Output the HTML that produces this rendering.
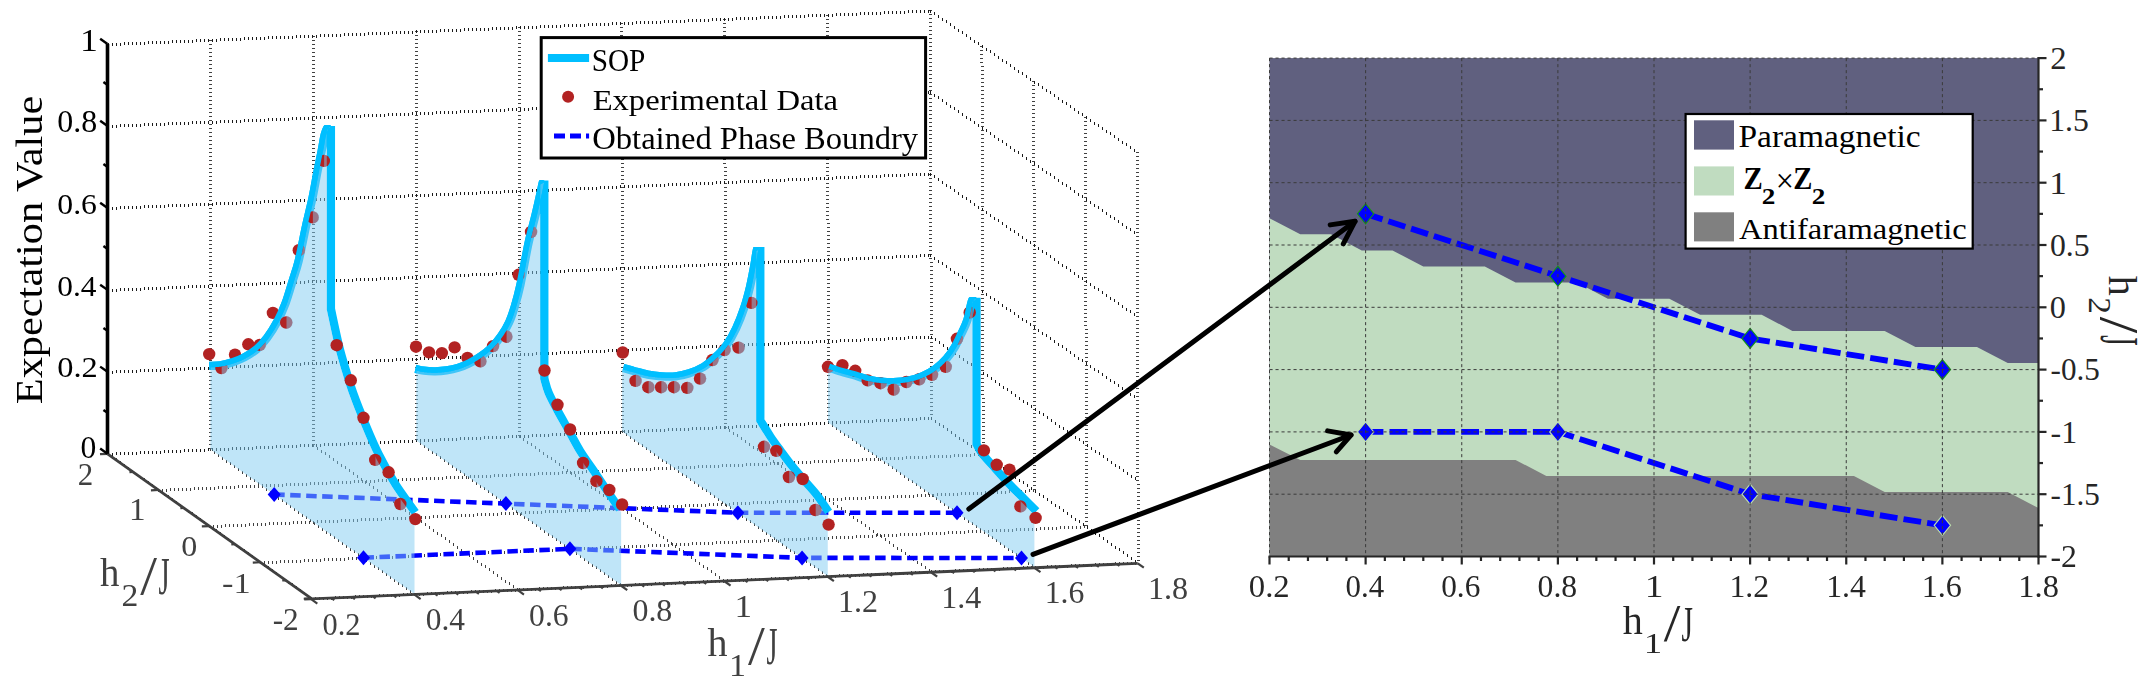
<!DOCTYPE html>
<html><head><meta charset="utf-8"><style>html,body{margin:0;padding:0;background:#fff;} svg{display:block;}</style></head>
<body><svg width="2150" height="687" viewBox="0 0 2150 687">
<rect width="2150" height="687" fill="#fff"/>
<g id="grid3d">
<path fill="#404040" shape-rendering="crispEdges" d="M106 44h3v1h-3zM106 48h3v1h-3zM106 52h3v1h-3zM106 56h3v1h-3zM106 60h3v1h-3zM106 64h3v1h-3zM106 68h3v1h-3zM106 72h3v1h-3zM106 76h3v1h-3zM106 80h3v1h-3zM106 84h3v1h-3zM106 88h3v1h-3zM106 92h3v1h-3zM106 96h3v1h-3zM106 100h3v1h-3zM106 104h3v1h-3zM106 108h3v1h-3zM106 112h3v1h-3zM106 116h3v1h-3zM106 120h3v1h-3zM106 124h3v1h-3zM106 128h3v1h-3zM106 132h3v1h-3zM106 136h3v1h-3zM106 140h3v1h-3zM106 144h3v1h-3zM106 148h3v1h-3zM106 152h3v1h-3zM106 156h3v1h-3zM106 160h3v1h-3zM106 164h3v1h-3zM106 168h3v1h-3zM106 172h3v1h-3zM106 176h3v1h-3zM106 180h3v1h-3zM106 184h3v1h-3zM106 188h3v1h-3zM106 192h3v1h-3zM106 196h3v1h-3zM106 200h3v1h-3zM106 204h3v1h-3zM106 208h3v1h-3zM106 212h3v1h-3zM106 216h3v1h-3zM106 220h3v1h-3zM106 224h3v1h-3zM106 228h3v1h-3zM106 232h3v1h-3zM106 236h3v1h-3zM106 240h3v1h-3zM106 244h3v1h-3zM106 248h3v1h-3zM106 252h3v1h-3zM106 256h3v1h-3zM106 260h3v1h-3zM106 264h3v1h-3zM106 268h3v1h-3zM106 272h3v1h-3zM106 276h3v1h-3zM106 280h3v1h-3zM106 284h3v1h-3zM106 288h3v1h-3zM106 292h3v1h-3zM106 296h3v1h-3zM106 300h3v1h-3zM106 304h3v1h-3zM106 308h3v1h-3zM106 312h3v1h-3zM106 316h3v1h-3zM106 320h3v1h-3zM106 324h3v1h-3zM106 328h3v1h-3zM106 332h3v1h-3zM106 336h3v1h-3zM106 340h3v1h-3zM106 344h3v1h-3zM106 348h3v1h-3zM106 352h3v1h-3zM106 356h3v1h-3zM106 360h3v1h-3zM106 364h3v1h-3zM106 368h3v1h-3zM106 372h3v1h-3zM106 376h3v1h-3zM106 380h3v1h-3zM106 384h3v1h-3zM106 388h3v1h-3zM106 392h3v1h-3zM106 396h3v1h-3zM106 400h3v1h-3zM106 404h3v1h-3zM106 408h3v1h-3zM106 412h3v1h-3zM106 416h3v1h-3zM106 420h3v1h-3zM106 424h3v1h-3zM106 428h3v1h-3zM106 432h3v1h-3zM106 436h3v1h-3zM106 440h3v1h-3zM106 444h3v1h-3zM106 448h3v1h-3zM106 452h3v1h-3zM209 40h3v1h-3zM209 44h3v1h-3zM209 48h3v1h-3zM209 52h3v1h-3zM209 56h3v1h-3zM209 60h3v1h-3zM209 64h3v1h-3zM209 68h3v1h-3zM209 72h3v1h-3zM209 76h3v1h-3zM209 80h3v1h-3zM209 84h3v1h-3zM209 88h3v1h-3zM209 92h3v1h-3zM209 96h3v1h-3zM209 100h3v1h-3zM209 104h3v1h-3zM209 108h3v1h-3zM209 112h3v1h-3zM209 116h3v1h-3zM209 120h3v1h-3zM209 124h3v1h-3zM209 128h3v1h-3zM209 132h3v1h-3zM209 136h3v1h-3zM209 140h3v1h-3zM209 144h3v1h-3zM209 148h3v1h-3zM209 152h3v1h-3zM209 156h3v1h-3zM209 160h3v1h-3zM209 164h3v1h-3zM209 168h3v1h-3zM209 172h3v1h-3zM209 176h3v1h-3zM209 180h3v1h-3zM209 184h3v1h-3zM209 188h3v1h-3zM209 192h3v1h-3zM209 196h3v1h-3zM209 200h3v1h-3zM209 204h3v1h-3zM209 208h3v1h-3zM209 212h3v1h-3zM209 216h3v1h-3zM209 220h3v1h-3zM209 224h3v1h-3zM209 228h3v1h-3zM209 232h3v1h-3zM209 236h3v1h-3zM209 240h3v1h-3zM209 244h3v1h-3zM209 248h3v1h-3zM209 252h3v1h-3zM209 256h3v1h-3zM209 260h3v1h-3zM209 264h3v1h-3zM209 268h3v1h-3zM209 272h3v1h-3zM209 276h3v1h-3zM209 280h3v1h-3zM209 284h3v1h-3zM209 288h3v1h-3zM209 292h3v1h-3zM209 296h3v1h-3zM209 300h3v1h-3zM209 304h3v1h-3zM209 308h3v1h-3zM209 312h3v1h-3zM209 316h3v1h-3zM209 320h3v1h-3zM209 324h3v1h-3zM209 328h3v1h-3zM209 332h3v1h-3zM209 336h3v1h-3zM209 340h3v1h-3zM209 344h3v1h-3zM209 348h3v1h-3zM209 352h3v1h-3zM209 356h3v1h-3zM209 360h3v1h-3zM209 364h3v1h-3zM209 368h3v1h-3zM209 372h3v1h-3zM209 376h3v1h-3zM209 380h3v1h-3zM209 384h3v1h-3zM209 388h3v1h-3zM209 392h3v1h-3zM209 396h3v1h-3zM209 400h3v1h-3zM209 404h3v1h-3zM209 408h3v1h-3zM209 412h3v1h-3zM209 416h3v1h-3zM209 420h3v1h-3zM209 424h3v1h-3zM209 428h3v1h-3zM209 432h3v1h-3zM209 436h3v1h-3zM209 440h3v1h-3zM209 444h3v1h-3zM209 448h3v1h-3zM312 36h3v1h-3zM312 40h3v1h-3zM312 44h3v1h-3zM312 48h3v1h-3zM312 52h3v1h-3zM312 56h3v1h-3zM312 60h3v1h-3zM312 64h3v1h-3zM312 68h3v1h-3zM312 72h3v1h-3zM312 76h3v1h-3zM312 80h3v1h-3zM312 84h3v1h-3zM312 88h3v1h-3zM312 92h3v1h-3zM312 96h3v1h-3zM312 100h3v1h-3zM312 104h3v1h-3zM312 108h3v1h-3zM312 112h3v1h-3zM312 116h3v1h-3zM312 120h3v1h-3zM312 124h3v1h-3zM312 128h3v1h-3zM312 132h3v1h-3zM312 136h3v1h-3zM312 140h3v1h-3zM312 144h3v1h-3zM312 148h3v1h-3zM312 152h3v1h-3zM312 156h3v1h-3zM312 160h3v1h-3zM312 164h3v1h-3zM312 168h3v1h-3zM312 172h3v1h-3zM312 176h3v1h-3zM312 180h3v1h-3zM312 184h3v1h-3zM312 188h3v1h-3zM312 192h3v1h-3zM312 196h3v1h-3zM312 200h3v1h-3zM312 204h3v1h-3zM312 208h3v1h-3zM312 212h3v1h-3zM312 216h3v1h-3zM312 220h3v1h-3zM312 224h3v1h-3zM312 228h3v1h-3zM312 232h3v1h-3zM312 236h3v1h-3zM312 240h3v1h-3zM312 244h3v1h-3zM312 248h3v1h-3zM312 252h3v1h-3zM312 256h3v1h-3zM312 260h3v1h-3zM312 264h3v1h-3zM312 268h3v1h-3zM312 272h3v1h-3zM312 276h3v1h-3zM312 280h3v1h-3zM312 284h3v1h-3zM312 288h3v1h-3zM312 292h3v1h-3zM312 296h3v1h-3zM312 300h3v1h-3zM312 304h3v1h-3zM312 308h3v1h-3zM312 312h3v1h-3zM312 316h3v1h-3zM312 320h3v1h-3zM312 324h3v1h-3zM312 328h3v1h-3zM312 332h3v1h-3zM312 336h3v1h-3zM312 340h3v1h-3zM312 344h3v1h-3zM312 348h3v1h-3zM312 352h3v1h-3zM312 356h3v1h-3zM312 360h3v1h-3zM312 364h3v1h-3zM312 368h3v1h-3zM312 372h3v1h-3zM312 376h3v1h-3zM312 380h3v1h-3zM312 384h3v1h-3zM312 388h3v1h-3zM312 392h3v1h-3zM312 396h3v1h-3zM312 400h3v1h-3zM312 404h3v1h-3zM312 408h3v1h-3zM312 412h3v1h-3zM312 416h3v1h-3zM312 420h3v1h-3zM312 424h3v1h-3zM312 428h3v1h-3zM312 432h3v1h-3zM312 436h3v1h-3zM312 440h3v1h-3zM312 444h3v1h-3zM415 31h3v1h-3zM415 35h3v1h-3zM415 39h3v1h-3zM415 43h3v1h-3zM415 47h3v1h-3zM415 51h3v1h-3zM415 55h3v1h-3zM415 59h3v1h-3zM415 63h3v1h-3zM415 67h3v1h-3zM415 71h3v1h-3zM415 75h3v1h-3zM415 79h3v1h-3zM415 83h3v1h-3zM415 87h3v1h-3zM415 91h3v1h-3zM415 95h3v1h-3zM415 99h3v1h-3zM415 103h3v1h-3zM415 107h3v1h-3zM415 111h3v1h-3zM415 115h3v1h-3zM415 119h3v1h-3zM415 123h3v1h-3zM415 127h3v1h-3zM415 131h3v1h-3zM415 135h3v1h-3zM415 139h3v1h-3zM415 143h3v1h-3zM415 147h3v1h-3zM415 151h3v1h-3zM415 155h3v1h-3zM415 159h3v1h-3zM415 163h3v1h-3zM415 167h3v1h-3zM415 171h3v1h-3zM415 175h3v1h-3zM415 179h3v1h-3zM415 183h3v1h-3zM415 187h3v1h-3zM415 191h3v1h-3zM415 195h3v1h-3zM415 199h3v1h-3zM415 203h3v1h-3zM415 207h3v1h-3zM415 211h3v1h-3zM415 215h3v1h-3zM415 219h3v1h-3zM415 223h3v1h-3zM415 227h3v1h-3zM415 231h3v1h-3zM415 235h3v1h-3zM415 239h3v1h-3zM415 243h3v1h-3zM415 247h3v1h-3zM415 251h3v1h-3zM415 255h3v1h-3zM415 259h3v1h-3zM415 263h3v1h-3zM415 267h3v1h-3zM415 271h3v1h-3zM415 275h3v1h-3zM415 279h3v1h-3zM415 283h3v1h-3zM415 287h3v1h-3zM415 291h3v1h-3zM415 295h3v1h-3zM415 299h3v1h-3zM415 303h3v1h-3zM415 307h3v1h-3zM415 311h3v1h-3zM415 315h3v1h-3zM415 319h3v1h-3zM415 323h3v1h-3zM415 327h3v1h-3zM415 331h3v1h-3zM415 335h3v1h-3zM415 339h3v1h-3zM415 343h3v1h-3zM415 347h3v1h-3zM415 351h3v1h-3zM415 355h3v1h-3zM415 359h3v1h-3zM415 363h3v1h-3zM415 367h3v1h-3zM415 371h3v1h-3zM415 375h3v1h-3zM415 379h3v1h-3zM415 383h3v1h-3zM415 387h3v1h-3zM415 391h3v1h-3zM415 395h3v1h-3zM415 399h3v1h-3zM415 403h3v1h-3zM415 407h3v1h-3zM415 411h3v1h-3zM415 415h3v1h-3zM415 419h3v1h-3zM415 423h3v1h-3zM415 427h3v1h-3zM415 431h3v1h-3zM415 435h3v1h-3zM415 439h3v1h-3zM518 27h3v1h-3zM518 31h3v1h-3zM518 35h3v1h-3zM518 39h3v1h-3zM518 43h3v1h-3zM518 47h3v1h-3zM518 51h3v1h-3zM518 55h3v1h-3zM518 59h3v1h-3zM518 63h3v1h-3zM518 67h3v1h-3zM518 71h3v1h-3zM518 75h3v1h-3zM518 79h3v1h-3zM518 83h3v1h-3zM518 87h3v1h-3zM518 91h3v1h-3zM518 95h3v1h-3zM518 99h3v1h-3zM518 103h3v1h-3zM518 107h3v1h-3zM518 111h3v1h-3zM518 115h3v1h-3zM518 119h3v1h-3zM518 123h3v1h-3zM518 127h3v1h-3zM518 131h3v1h-3zM518 135h3v1h-3zM518 139h3v1h-3zM518 143h3v1h-3zM518 147h3v1h-3zM518 151h3v1h-3zM518 155h3v1h-3zM518 159h3v1h-3zM518 163h3v1h-3zM518 167h3v1h-3zM518 171h3v1h-3zM518 175h3v1h-3zM518 179h3v1h-3zM518 183h3v1h-3zM518 187h3v1h-3zM518 191h3v1h-3zM518 195h3v1h-3zM518 199h3v1h-3zM518 203h3v1h-3zM518 207h3v1h-3zM518 211h3v1h-3zM518 215h3v1h-3zM518 219h3v1h-3zM518 223h3v1h-3zM518 227h3v1h-3zM518 231h3v1h-3zM518 235h3v1h-3zM518 239h3v1h-3zM518 243h3v1h-3zM518 247h3v1h-3zM518 251h3v1h-3zM518 255h3v1h-3zM518 259h3v1h-3zM518 263h3v1h-3zM518 267h3v1h-3zM518 271h3v1h-3zM518 275h3v1h-3zM518 279h3v1h-3zM518 283h3v1h-3zM518 287h3v1h-3zM518 291h3v1h-3zM518 295h3v1h-3zM518 299h3v1h-3zM518 303h3v1h-3zM518 307h3v1h-3zM518 311h3v1h-3zM518 315h3v1h-3zM518 319h3v1h-3zM518 323h3v1h-3zM518 327h3v1h-3zM518 331h3v1h-3zM518 335h3v1h-3zM518 339h3v1h-3zM518 343h3v1h-3zM518 347h3v1h-3zM518 351h3v1h-3zM518 355h3v1h-3zM518 359h3v1h-3zM518 363h3v1h-3zM518 367h3v1h-3zM518 371h3v1h-3zM518 375h3v1h-3zM518 379h3v1h-3zM518 383h3v1h-3zM518 387h3v1h-3zM518 391h3v1h-3zM518 395h3v1h-3zM518 399h3v1h-3zM518 403h3v1h-3zM518 407h3v1h-3zM518 411h3v1h-3zM518 415h3v1h-3zM518 419h3v1h-3zM518 423h3v1h-3zM518 427h3v1h-3zM518 431h3v1h-3zM518 435h3v1h-3zM620 23h3v1h-3zM620 27h3v1h-3zM620 31h3v1h-3zM620 35h3v1h-3zM620 39h3v1h-3zM620 43h3v1h-3zM620 47h3v1h-3zM620 51h3v1h-3zM620 55h3v1h-3zM620 59h3v1h-3zM620 63h3v1h-3zM620 67h3v1h-3zM620 71h3v1h-3zM620 75h3v1h-3zM620 79h3v1h-3zM620 83h3v1h-3zM621 87h3v1h-3zM621 91h3v1h-3zM621 95h3v1h-3zM621 99h3v1h-3zM621 103h3v1h-3zM621 107h3v1h-3zM621 111h3v1h-3zM621 115h3v1h-3zM621 119h3v1h-3zM621 123h3v1h-3zM621 127h3v1h-3zM621 131h3v1h-3zM621 135h3v1h-3zM621 139h3v1h-3zM621 143h3v1h-3zM621 147h3v1h-3zM621 151h3v1h-3zM621 155h3v1h-3zM621 159h3v1h-3zM621 163h3v1h-3zM621 167h3v1h-3zM621 171h3v1h-3zM621 175h3v1h-3zM621 179h3v1h-3zM621 183h3v1h-3zM621 187h3v1h-3zM621 191h3v1h-3zM621 195h3v1h-3zM621 199h3v1h-3zM621 203h3v1h-3zM621 207h3v1h-3zM621 211h3v1h-3zM621 215h3v1h-3zM621 219h3v1h-3zM621 223h3v1h-3zM621 227h3v1h-3zM621 231h3v1h-3zM621 235h3v1h-3zM621 239h3v1h-3zM621 243h3v1h-3zM621 247h3v1h-3zM621 251h3v1h-3zM621 255h3v1h-3zM621 259h3v1h-3zM621 263h3v1h-3zM621 267h3v1h-3zM621 271h3v1h-3zM621 275h3v1h-3zM621 279h3v1h-3zM621 283h3v1h-3zM621 287h3v1h-3zM621 291h3v1h-3zM621 295h3v1h-3zM621 299h3v1h-3zM621 303h3v1h-3zM621 307h3v1h-3zM621 311h3v1h-3zM621 315h3v1h-3zM621 319h3v1h-3zM621 323h3v1h-3zM621 327h3v1h-3zM621 331h3v1h-3zM621 335h3v1h-3zM621 339h3v1h-3zM621 343h3v1h-3zM621 347h3v1h-3zM621 351h3v1h-3zM621 355h3v1h-3zM621 359h3v1h-3zM621 363h3v1h-3zM621 367h3v1h-3zM621 371h3v1h-3zM621 375h3v1h-3zM621 379h3v1h-3zM621 383h3v1h-3zM621 387h3v1h-3zM621 391h3v1h-3zM621 395h3v1h-3zM621 399h3v1h-3zM621 403h3v1h-3zM621 407h3v1h-3zM621 411h3v1h-3zM621 415h3v1h-3zM621 419h3v1h-3zM621 423h3v1h-3zM621 427h3v1h-3zM621 431h3v1h-3zM723 19h3v1h-3zM723 23h3v1h-3zM723 27h3v1h-3zM723 31h3v1h-3zM723 35h3v1h-3zM723 39h3v1h-3zM723 43h3v1h-3zM723 47h3v1h-3zM723 51h3v1h-3zM723 55h3v1h-3zM723 59h3v1h-3zM723 63h3v1h-3zM723 67h3v1h-3zM723 71h3v1h-3zM723 75h3v1h-3zM723 79h3v1h-3zM723 83h3v1h-3zM723 87h3v1h-3zM723 91h3v1h-3zM723 95h3v1h-3zM723 99h3v1h-3zM723 103h3v1h-3zM723 107h3v1h-3zM723 111h3v1h-3zM723 115h3v1h-3zM723 119h3v1h-3zM723 123h3v1h-3zM723 127h3v1h-3zM723 131h3v1h-3zM723 135h3v1h-3zM723 139h3v1h-3zM723 143h3v1h-3zM723 147h3v1h-3zM723 151h3v1h-3zM723 155h3v1h-3zM723 159h3v1h-3zM723 163h3v1h-3zM724 167h3v1h-3zM724 171h3v1h-3zM724 175h3v1h-3zM724 179h3v1h-3zM724 183h3v1h-3zM724 187h3v1h-3zM724 191h3v1h-3zM724 195h3v1h-3zM724 199h3v1h-3zM724 203h3v1h-3zM724 207h3v1h-3zM724 211h3v1h-3zM724 215h3v1h-3zM724 219h3v1h-3zM724 223h3v1h-3zM724 227h3v1h-3zM724 231h3v1h-3zM724 235h3v1h-3zM724 239h3v1h-3zM724 243h3v1h-3zM724 247h3v1h-3zM724 251h3v1h-3zM724 255h3v1h-3zM724 259h3v1h-3zM724 263h3v1h-3zM724 267h3v1h-3zM724 271h3v1h-3zM724 275h3v1h-3zM724 279h3v1h-3zM724 283h3v1h-3zM724 287h3v1h-3zM724 291h3v1h-3zM724 295h3v1h-3zM724 299h3v1h-3zM724 303h3v1h-3zM724 307h3v1h-3zM724 311h3v1h-3zM724 315h3v1h-3zM724 319h3v1h-3zM724 323h3v1h-3zM724 327h3v1h-3zM724 331h3v1h-3zM724 335h3v1h-3zM724 339h3v1h-3zM724 343h3v1h-3zM724 347h3v1h-3zM724 351h3v1h-3zM724 355h3v1h-3zM724 359h3v1h-3zM724 363h3v1h-3zM724 367h3v1h-3zM724 371h3v1h-3zM724 375h3v1h-3zM724 379h3v1h-3zM724 383h3v1h-3zM724 387h3v1h-3zM724 391h3v1h-3zM724 395h3v1h-3zM724 399h3v1h-3zM724 403h3v1h-3zM724 407h3v1h-3zM724 411h3v1h-3zM724 415h3v1h-3zM724 419h3v1h-3zM724 423h3v1h-3zM724 427h3v1h-3zM826 15h3v1h-3zM826 19h3v1h-3zM826 23h3v1h-3zM826 27h3v1h-3zM826 31h3v1h-3zM826 35h3v1h-3zM826 39h3v1h-3zM826 43h3v1h-3zM826 47h3v1h-3zM826 51h3v1h-3zM826 55h3v1h-3zM826 59h3v1h-3zM826 63h3v1h-3zM826 67h3v1h-3zM826 71h3v1h-3zM826 75h3v1h-3zM826 79h3v1h-3zM826 83h3v1h-3zM826 87h3v1h-3zM826 91h3v1h-3zM826 95h3v1h-3zM826 99h3v1h-3zM826 103h3v1h-3zM826 107h3v1h-3zM826 111h3v1h-3zM826 115h3v1h-3zM826 119h3v1h-3zM826 123h3v1h-3zM826 127h3v1h-3zM826 131h3v1h-3zM826 135h3v1h-3zM826 139h3v1h-3zM826 143h3v1h-3zM826 147h3v1h-3zM826 151h3v1h-3zM826 155h3v1h-3zM826 159h3v1h-3zM826 163h3v1h-3zM826 167h3v1h-3zM826 171h3v1h-3zM826 175h3v1h-3zM826 179h3v1h-3zM826 183h3v1h-3zM826 187h3v1h-3zM826 191h3v1h-3zM826 195h3v1h-3zM826 199h3v1h-3zM826 203h3v1h-3zM826 207h3v1h-3zM826 211h3v1h-3zM826 215h3v1h-3zM826 219h3v1h-3zM827 223h3v1h-3zM827 227h3v1h-3zM827 231h3v1h-3zM827 235h3v1h-3zM827 239h3v1h-3zM827 243h3v1h-3zM827 247h3v1h-3zM827 251h3v1h-3zM827 255h3v1h-3zM827 259h3v1h-3zM827 263h3v1h-3zM827 267h3v1h-3zM827 271h3v1h-3zM827 275h3v1h-3zM827 279h3v1h-3zM827 283h3v1h-3zM827 287h3v1h-3zM827 291h3v1h-3zM827 295h3v1h-3zM827 299h3v1h-3zM827 303h3v1h-3zM827 307h3v1h-3zM827 311h3v1h-3zM827 315h3v1h-3zM827 319h3v1h-3zM827 323h3v1h-3zM827 327h3v1h-3zM827 331h3v1h-3zM827 335h3v1h-3zM827 339h3v1h-3zM827 343h3v1h-3zM827 347h3v1h-3zM827 351h3v1h-3zM827 355h3v1h-3zM827 359h3v1h-3zM827 363h3v1h-3zM827 367h3v1h-3zM827 371h3v1h-3zM827 375h3v1h-3zM827 379h3v1h-3zM827 383h3v1h-3zM827 387h3v1h-3zM827 391h3v1h-3zM827 395h3v1h-3zM827 399h3v1h-3zM827 403h3v1h-3zM827 407h3v1h-3zM827 411h3v1h-3zM827 415h3v1h-3zM827 419h3v1h-3zM929 10h3v1h-3zM929 14h3v1h-3zM929 18h3v1h-3zM929 22h3v1h-3zM929 26h3v1h-3zM929 30h3v1h-3zM929 34h3v1h-3zM929 38h3v1h-3zM929 42h3v1h-3zM929 46h3v1h-3zM929 50h3v1h-3zM929 54h3v1h-3zM929 58h3v1h-3zM929 62h3v1h-3zM929 66h3v1h-3zM929 70h3v1h-3zM929 74h3v1h-3zM929 78h3v1h-3zM929 82h3v1h-3zM929 86h3v1h-3zM929 90h3v1h-3zM929 94h3v1h-3zM929 98h3v1h-3zM929 102h3v1h-3zM929 106h3v1h-3zM929 110h3v1h-3zM929 114h3v1h-3zM929 118h3v1h-3zM929 122h3v1h-3zM929 126h3v1h-3zM929 130h3v1h-3zM929 134h3v1h-3zM929 138h3v1h-3zM929 142h3v1h-3zM929 146h3v1h-3zM929 150h3v1h-3zM929 154h3v1h-3zM929 158h3v1h-3zM929 162h3v1h-3zM929 166h3v1h-3zM929 170h3v1h-3zM929 174h3v1h-3zM929 178h3v1h-3zM929 182h3v1h-3zM929 186h3v1h-3zM929 190h3v1h-3zM929 194h3v1h-3zM929 198h3v1h-3zM929 202h3v1h-3zM929 206h3v1h-3zM929 210h3v1h-3zM929 214h3v1h-3zM929 218h3v1h-3zM929 222h3v1h-3zM929 226h3v1h-3zM929 230h3v1h-3zM929 234h3v1h-3zM929 238h3v1h-3zM929 242h3v1h-3zM929 246h3v1h-3zM929 250h3v1h-3zM929 254h3v1h-3zM929 258h3v1h-3zM930 262h3v1h-3zM930 266h3v1h-3zM930 270h3v1h-3zM930 274h3v1h-3zM930 278h3v1h-3zM930 282h3v1h-3zM930 286h3v1h-3zM930 290h3v1h-3zM930 294h3v1h-3zM930 298h3v1h-3zM930 302h3v1h-3zM930 306h3v1h-3zM930 310h3v1h-3zM930 314h3v1h-3zM930 318h3v1h-3zM930 322h3v1h-3zM930 326h3v1h-3zM930 330h3v1h-3zM930 334h3v1h-3zM930 338h3v1h-3zM930 342h3v1h-3zM930 346h3v1h-3zM930 350h3v1h-3zM930 354h3v1h-3zM930 358h3v1h-3zM930 362h3v1h-3zM930 366h3v1h-3zM930 370h3v1h-3zM930 374h3v1h-3zM930 378h3v1h-3zM930 382h3v1h-3zM930 386h3v1h-3zM930 390h3v1h-3zM930 394h3v1h-3zM930 398h3v1h-3zM930 402h3v1h-3zM930 406h3v1h-3zM930 410h3v1h-3zM930 414h3v1h-3zM929 10h3v1h-3zM929 14h3v1h-3zM929 18h3v1h-3zM929 22h3v1h-3zM929 26h3v1h-3zM929 30h3v1h-3zM929 34h3v1h-3zM929 38h3v1h-3zM929 42h3v1h-3zM929 46h3v1h-3zM929 50h3v1h-3zM929 54h3v1h-3zM929 58h3v1h-3zM929 62h3v1h-3zM929 66h3v1h-3zM929 70h3v1h-3zM929 74h3v1h-3zM929 78h3v1h-3zM929 82h3v1h-3zM929 86h3v1h-3zM929 90h3v1h-3zM929 94h3v1h-3zM929 98h3v1h-3zM929 102h3v1h-3zM929 106h3v1h-3zM929 110h3v1h-3zM929 114h3v1h-3zM929 118h3v1h-3zM929 122h3v1h-3zM929 126h3v1h-3zM929 130h3v1h-3zM929 134h3v1h-3zM929 138h3v1h-3zM929 142h3v1h-3zM929 146h3v1h-3zM929 150h3v1h-3zM929 154h3v1h-3zM929 158h3v1h-3zM929 162h3v1h-3zM929 166h3v1h-3zM929 170h3v1h-3zM929 174h3v1h-3zM929 178h3v1h-3zM929 182h3v1h-3zM929 186h3v1h-3zM929 190h3v1h-3zM929 194h3v1h-3zM929 198h3v1h-3zM929 202h3v1h-3zM929 206h3v1h-3zM929 210h3v1h-3zM929 214h3v1h-3zM929 218h3v1h-3zM929 222h3v1h-3zM929 226h3v1h-3zM929 230h3v1h-3zM929 234h3v1h-3zM929 238h3v1h-3zM929 242h3v1h-3zM929 246h3v1h-3zM929 250h3v1h-3zM929 254h3v1h-3zM929 258h3v1h-3zM930 262h3v1h-3zM930 266h3v1h-3zM930 270h3v1h-3zM930 274h3v1h-3zM930 278h3v1h-3zM930 282h3v1h-3zM930 286h3v1h-3zM930 290h3v1h-3zM930 294h3v1h-3zM930 298h3v1h-3zM930 302h3v1h-3zM930 306h3v1h-3zM930 310h3v1h-3zM930 314h3v1h-3zM930 318h3v1h-3zM930 322h3v1h-3zM930 326h3v1h-3zM930 330h3v1h-3zM930 334h3v1h-3zM930 338h3v1h-3zM930 342h3v1h-3zM930 346h3v1h-3zM930 350h3v1h-3zM930 354h3v1h-3zM930 358h3v1h-3zM930 362h3v1h-3zM930 366h3v1h-3zM930 370h3v1h-3zM930 374h3v1h-3zM930 378h3v1h-3zM930 382h3v1h-3zM930 386h3v1h-3zM930 390h3v1h-3zM930 394h3v1h-3zM930 398h3v1h-3zM930 402h3v1h-3zM930 406h3v1h-3zM930 410h3v1h-3zM930 414h3v1h-3zM980 46h3v1h-3zM980 50h3v1h-3zM980 54h3v1h-3zM980 58h3v1h-3zM980 62h3v1h-3zM981 66h3v1h-3zM981 70h3v1h-3zM981 74h3v1h-3zM981 78h3v1h-3zM981 82h3v1h-3zM981 86h3v1h-3zM981 90h3v1h-3zM981 94h3v1h-3zM981 98h3v1h-3zM981 102h3v1h-3zM981 106h3v1h-3zM981 110h3v1h-3zM981 114h3v1h-3zM981 118h3v1h-3zM981 122h3v1h-3zM981 126h3v1h-3zM981 130h3v1h-3zM981 134h3v1h-3zM981 138h3v1h-3zM981 142h3v1h-3zM981 146h3v1h-3zM981 150h3v1h-3zM981 154h3v1h-3zM981 158h3v1h-3zM981 162h3v1h-3zM981 166h3v1h-3zM981 170h3v1h-3zM981 174h3v1h-3zM981 178h3v1h-3zM981 182h3v1h-3zM981 186h3v1h-3zM981 190h3v1h-3zM981 194h3v1h-3zM981 198h3v1h-3zM981 202h3v1h-3zM981 206h3v1h-3zM981 210h3v1h-3zM981 214h3v1h-3zM981 218h3v1h-3zM981 222h3v1h-3zM981 226h3v1h-3zM981 230h3v1h-3zM981 234h3v1h-3zM981 238h3v1h-3zM981 242h3v1h-3zM981 246h3v1h-3zM981 250h3v1h-3zM981 254h3v1h-3zM981 258h3v1h-3zM981 262h3v1h-3zM981 266h3v1h-3zM981 270h3v1h-3zM981 274h3v1h-3zM981 278h3v1h-3zM981 282h3v1h-3zM981 286h3v1h-3zM981 290h3v1h-3zM981 294h3v1h-3zM981 298h3v1h-3zM981 302h3v1h-3zM981 306h3v1h-3zM981 310h3v1h-3zM981 314h3v1h-3zM981 318h3v1h-3zM981 322h3v1h-3zM981 326h3v1h-3zM981 330h3v1h-3zM981 334h3v1h-3zM981 338h3v1h-3zM981 342h3v1h-3zM981 346h3v1h-3zM981 350h3v1h-3zM981 354h3v1h-3zM981 358h3v1h-3zM981 362h3v1h-3zM981 366h3v1h-3zM981 370h3v1h-3zM981 374h3v1h-3zM981 378h3v1h-3zM981 382h3v1h-3zM981 386h3v1h-3zM981 390h3v1h-3zM981 394h3v1h-3zM982 398h3v1h-3zM982 402h3v1h-3zM982 406h3v1h-3zM982 410h3v1h-3zM982 414h3v1h-3zM982 418h3v1h-3zM982 422h3v1h-3zM982 426h3v1h-3zM982 430h3v1h-3zM982 434h3v1h-3zM982 438h3v1h-3zM982 442h3v1h-3zM982 446h3v1h-3zM982 450h3v1h-3zM982 454h3v1h-3zM1032 81h3v1h-3zM1032 85h3v1h-3zM1032 89h3v1h-3zM1032 93h3v1h-3zM1032 97h3v1h-3zM1032 101h3v1h-3zM1032 105h3v1h-3zM1032 109h3v1h-3zM1032 113h3v1h-3zM1032 117h3v1h-3zM1032 121h3v1h-3zM1032 125h3v1h-3zM1032 129h3v1h-3zM1032 133h3v1h-3zM1032 137h3v1h-3zM1032 141h3v1h-3zM1032 145h3v1h-3zM1032 149h3v1h-3zM1032 153h3v1h-3zM1032 157h3v1h-3zM1032 161h3v1h-3zM1032 165h3v1h-3zM1032 169h3v1h-3zM1032 173h3v1h-3zM1032 177h3v1h-3zM1032 181h3v1h-3zM1032 185h3v1h-3zM1033 189h3v1h-3zM1033 193h3v1h-3zM1033 197h3v1h-3zM1033 201h3v1h-3zM1033 205h3v1h-3zM1033 209h3v1h-3zM1033 213h3v1h-3zM1033 217h3v1h-3zM1033 221h3v1h-3zM1033 225h3v1h-3zM1033 229h3v1h-3zM1033 233h3v1h-3zM1033 237h3v1h-3zM1033 241h3v1h-3zM1033 245h3v1h-3zM1033 249h3v1h-3zM1033 253h3v1h-3zM1033 257h3v1h-3zM1033 261h3v1h-3zM1033 265h3v1h-3zM1033 269h3v1h-3zM1033 273h3v1h-3zM1033 277h3v1h-3zM1033 281h3v1h-3zM1033 285h3v1h-3zM1033 289h3v1h-3zM1033 293h3v1h-3zM1033 297h3v1h-3zM1033 301h3v1h-3zM1033 305h3v1h-3zM1033 309h3v1h-3zM1033 313h3v1h-3zM1033 317h3v1h-3zM1033 321h3v1h-3zM1033 325h3v1h-3zM1033 329h3v1h-3zM1033 333h3v1h-3zM1033 337h3v1h-3zM1033 341h3v1h-3zM1033 345h3v1h-3zM1033 349h3v1h-3zM1033 353h3v1h-3zM1033 357h3v1h-3zM1033 361h3v1h-3zM1033 365h3v1h-3zM1033 369h3v1h-3zM1033 373h3v1h-3zM1033 377h3v1h-3zM1033 381h3v1h-3zM1033 385h3v1h-3zM1033 389h3v1h-3zM1033 393h3v1h-3zM1033 397h3v1h-3zM1033 401h3v1h-3zM1033 405h3v1h-3zM1033 409h3v1h-3zM1033 413h3v1h-3zM1033 417h3v1h-3zM1033 421h3v1h-3zM1033 425h3v1h-3zM1033 429h3v1h-3zM1033 433h3v1h-3zM1033 437h3v1h-3zM1033 441h3v1h-3zM1033 445h3v1h-3zM1033 449h3v1h-3zM1033 453h3v1h-3zM1033 457h3v1h-3zM1033 461h3v1h-3zM1033 465h3v1h-3zM1033 469h3v1h-3zM1033 473h3v1h-3zM1033 477h3v1h-3zM1033 481h3v1h-3zM1033 485h3v1h-3zM1033 489h3v1h-3zM1084 117h3v1h-3zM1084 121h3v1h-3zM1084 125h3v1h-3zM1084 129h3v1h-3zM1084 133h3v1h-3zM1084 137h3v1h-3zM1084 141h3v1h-3zM1084 145h3v1h-3zM1084 149h3v1h-3zM1084 153h3v1h-3zM1084 157h3v1h-3zM1084 161h3v1h-3zM1084 165h3v1h-3zM1084 169h3v1h-3zM1084 173h3v1h-3zM1084 177h3v1h-3zM1084 181h3v1h-3zM1084 185h3v1h-3zM1084 189h3v1h-3zM1084 193h3v1h-3zM1084 197h3v1h-3zM1084 201h3v1h-3zM1084 205h3v1h-3zM1084 209h3v1h-3zM1084 213h3v1h-3zM1084 217h3v1h-3zM1084 221h3v1h-3zM1084 225h3v1h-3zM1084 229h3v1h-3zM1084 233h3v1h-3zM1084 237h3v1h-3zM1084 241h3v1h-3zM1084 245h3v1h-3zM1084 249h3v1h-3zM1084 253h3v1h-3zM1084 257h3v1h-3zM1084 261h3v1h-3zM1084 265h3v1h-3zM1084 269h3v1h-3zM1084 273h3v1h-3zM1084 277h3v1h-3zM1084 281h3v1h-3zM1084 285h3v1h-3zM1084 289h3v1h-3zM1084 293h3v1h-3zM1084 297h3v1h-3zM1084 301h3v1h-3zM1084 305h3v1h-3zM1084 309h3v1h-3zM1084 313h3v1h-3zM1084 317h3v1h-3zM1084 321h3v1h-3zM1084 325h3v1h-3zM1085 329h3v1h-3zM1085 333h3v1h-3zM1085 337h3v1h-3zM1085 341h3v1h-3zM1085 345h3v1h-3zM1085 349h3v1h-3zM1085 353h3v1h-3zM1085 357h3v1h-3zM1085 361h3v1h-3zM1085 365h3v1h-3zM1085 369h3v1h-3zM1085 373h3v1h-3zM1085 377h3v1h-3zM1085 381h3v1h-3zM1085 385h3v1h-3zM1085 389h3v1h-3zM1085 393h3v1h-3zM1085 397h3v1h-3zM1085 401h3v1h-3zM1085 405h3v1h-3zM1085 409h3v1h-3zM1085 413h3v1h-3zM1085 417h3v1h-3zM1085 421h3v1h-3zM1085 425h3v1h-3zM1085 429h3v1h-3zM1085 433h3v1h-3zM1085 437h3v1h-3zM1085 441h3v1h-3zM1085 445h3v1h-3zM1085 449h3v1h-3zM1085 453h3v1h-3zM1085 457h3v1h-3zM1085 461h3v1h-3zM1085 465h3v1h-3zM1085 469h3v1h-3zM1085 473h3v1h-3zM1085 477h3v1h-3zM1085 481h3v1h-3zM1085 485h3v1h-3zM1085 489h3v1h-3zM1085 493h3v1h-3zM1085 497h3v1h-3zM1085 501h3v1h-3zM1085 505h3v1h-3zM1085 509h3v1h-3zM1085 513h3v1h-3zM1085 517h3v1h-3zM1085 521h3v1h-3zM1085 525h3v1h-3zM1136 152h3v1h-3zM1136 156h3v1h-3zM1136 160h3v1h-3zM1136 164h3v1h-3zM1136 168h3v1h-3zM1136 172h3v1h-3zM1136 176h3v1h-3zM1136 180h3v1h-3zM1136 184h3v1h-3zM1136 188h3v1h-3zM1136 192h3v1h-3zM1136 196h3v1h-3zM1136 200h3v1h-3zM1136 204h3v1h-3zM1136 208h3v1h-3zM1136 212h3v1h-3zM1136 216h3v1h-3zM1136 220h3v1h-3zM1136 224h3v1h-3zM1136 228h3v1h-3zM1136 232h3v1h-3zM1136 236h3v1h-3zM1136 240h3v1h-3zM1136 244h3v1h-3zM1136 248h3v1h-3zM1136 252h3v1h-3zM1136 256h3v1h-3zM1136 260h3v1h-3zM1136 264h3v1h-3zM1136 268h3v1h-3zM1136 272h3v1h-3zM1136 276h3v1h-3zM1136 280h3v1h-3zM1136 284h3v1h-3zM1136 288h3v1h-3zM1136 292h3v1h-3zM1136 296h3v1h-3zM1136 300h3v1h-3zM1136 304h3v1h-3zM1136 308h3v1h-3zM1136 312h3v1h-3zM1136 316h3v1h-3zM1136 320h3v1h-3zM1136 324h3v1h-3zM1136 328h3v1h-3zM1136 332h3v1h-3zM1136 336h3v1h-3zM1136 340h3v1h-3zM1136 344h3v1h-3zM1136 348h3v1h-3zM1136 352h3v1h-3zM1136 356h3v1h-3zM1136 360h3v1h-3zM1136 364h3v1h-3zM1136 368h3v1h-3zM1136 372h3v1h-3zM1136 376h3v1h-3zM1136 380h3v1h-3zM1136 384h3v1h-3zM1136 388h3v1h-3zM1136 392h3v1h-3zM1136 396h3v1h-3zM1136 400h3v1h-3zM1136 404h3v1h-3zM1136 408h3v1h-3zM1136 412h3v1h-3zM1136 416h3v1h-3zM1136 420h3v1h-3zM1136 424h3v1h-3zM1136 428h3v1h-3zM1136 432h3v1h-3zM1136 436h3v1h-3zM1136 440h3v1h-3zM1136 444h3v1h-3zM1136 448h3v1h-3zM1136 452h3v1h-3zM1136 456h3v1h-3zM1136 460h3v1h-3zM1136 464h3v1h-3zM1136 468h3v1h-3zM1136 472h3v1h-3zM1136 476h3v1h-3zM1136 480h3v1h-3zM1137 484h3v1h-3zM1137 488h3v1h-3zM1137 492h3v1h-3zM1137 496h3v1h-3zM1137 500h3v1h-3zM1137 504h3v1h-3zM1137 508h3v1h-3zM1137 512h3v1h-3zM1137 516h3v1h-3zM1137 520h3v1h-3zM1137 524h3v1h-3zM1137 528h3v1h-3zM1137 532h3v1h-3zM1137 536h3v1h-3zM1137 540h3v1h-3zM1137 544h3v1h-3zM1137 548h3v1h-3zM1137 552h3v1h-3zM1137 556h3v1h-3zM1137 560h3v1h-3zM108 453h1v3h-1zM112 456h1v3h-1zM116 458h1v3h-1zM120 461h1v3h-1zM124 464h1v3h-1zM128 467h1v3h-1zM132 470h1v3h-1zM136 473h1v3h-1zM140 476h1v3h-1zM144 478h1v3h-1zM148 481h1v3h-1zM152 484h1v3h-1zM156 487h1v3h-1zM160 490h1v3h-1zM164 493h1v3h-1zM168 495h1v3h-1zM172 498h1v3h-1zM176 501h1v3h-1zM180 504h1v3h-1zM184 507h1v3h-1zM188 510h1v3h-1zM192 512h1v3h-1zM196 515h1v3h-1zM200 518h1v3h-1zM204 521h1v3h-1zM208 524h1v3h-1zM212 527h1v3h-1zM216 529h1v3h-1zM220 532h1v3h-1zM224 535h1v3h-1zM228 538h1v3h-1zM232 541h1v3h-1zM236 544h1v3h-1zM240 547h1v3h-1zM244 549h1v3h-1zM248 552h1v3h-1zM252 555h1v3h-1zM256 558h1v3h-1zM260 561h1v3h-1zM264 564h1v3h-1zM268 566h1v3h-1zM272 569h1v3h-1zM276 572h1v3h-1zM280 575h1v3h-1zM284 578h1v3h-1zM288 581h1v3h-1zM292 583h1v3h-1zM296 586h1v3h-1zM300 589h1v3h-1zM304 592h1v3h-1zM308 595h1v3h-1zM210 448h1v3h-1zM214 451h1v3h-1zM218 454h1v3h-1zM222 457h1v3h-1zM226 460h1v3h-1zM230 462h1v3h-1zM234 465h1v3h-1zM238 468h1v3h-1zM242 471h1v3h-1zM246 474h1v3h-1zM250 477h1v3h-1zM254 479h1v3h-1zM258 482h1v3h-1zM262 485h1v3h-1zM266 488h1v3h-1zM270 491h1v3h-1zM274 494h1v3h-1zM278 497h1v3h-1zM282 499h1v3h-1zM286 502h1v3h-1zM290 505h1v3h-1zM294 508h1v3h-1zM298 511h1v3h-1zM302 514h1v3h-1zM306 516h1v3h-1zM310 519h1v3h-1zM314 522h1v3h-1zM318 525h1v3h-1zM322 528h1v3h-1zM326 531h1v3h-1zM330 533h1v3h-1zM334 536h1v3h-1zM338 539h1v3h-1zM342 542h1v3h-1zM346 545h1v3h-1zM350 548h1v3h-1zM354 550h1v3h-1zM358 553h1v3h-1zM362 556h1v3h-1zM366 559h1v3h-1zM370 562h1v3h-1zM374 565h1v3h-1zM378 567h1v3h-1zM382 570h1v3h-1zM386 573h1v3h-1zM390 576h1v3h-1zM394 579h1v3h-1zM398 582h1v3h-1zM402 584h1v3h-1zM406 587h1v3h-1zM410 590h1v3h-1zM414 593h1v3h-1zM313 444h1v3h-1zM317 447h1v3h-1zM321 450h1v3h-1zM325 452h1v3h-1zM329 455h1v3h-1zM333 458h1v3h-1zM337 461h1v3h-1zM341 464h1v3h-1zM345 466h1v3h-1zM349 469h1v3h-1zM353 472h1v3h-1zM357 475h1v3h-1zM361 478h1v3h-1zM365 481h1v3h-1zM369 483h1v3h-1zM373 486h1v3h-1zM377 489h1v3h-1zM381 492h1v3h-1zM385 495h1v3h-1zM389 498h1v3h-1zM393 500h1v3h-1zM397 503h1v3h-1zM401 506h1v3h-1zM405 509h1v3h-1zM409 512h1v3h-1zM413 515h1v3h-1zM417 517h1v3h-1zM421 520h1v3h-1zM425 523h1v3h-1zM429 526h1v3h-1zM433 529h1v3h-1zM437 532h1v3h-1zM441 534h1v3h-1zM445 537h1v3h-1zM449 540h1v3h-1zM453 543h1v3h-1zM457 546h1v3h-1zM461 549h1v3h-1zM465 551h1v3h-1zM469 554h1v3h-1zM473 557h1v3h-1zM477 560h1v3h-1zM481 563h1v3h-1zM485 565h1v3h-1zM489 568h1v3h-1zM493 571h1v3h-1zM497 574h1v3h-1zM501 577h1v3h-1zM505 580h1v3h-1zM509 582h1v3h-1zM513 585h1v3h-1zM517 588h1v3h-1zM416 439h1v3h-1zM420 442h1v3h-1zM424 445h1v3h-1zM428 448h1v3h-1zM432 451h1v3h-1zM436 453h1v3h-1zM440 456h1v3h-1zM444 459h1v3h-1zM448 462h1v3h-1zM452 465h1v3h-1zM456 468h1v3h-1zM460 470h1v3h-1zM464 473h1v3h-1zM468 476h1v3h-1zM472 479h1v3h-1zM476 482h1v3h-1zM480 485h1v3h-1zM484 487h1v3h-1zM488 490h1v3h-1zM492 493h1v3h-1zM496 496h1v3h-1zM500 499h1v3h-1zM504 501h1v3h-1zM508 504h1v3h-1zM512 507h1v3h-1zM516 510h1v3h-1zM520 513h1v3h-1zM524 516h1v3h-1zM528 518h1v3h-1zM532 521h1v3h-1zM536 524h1v3h-1zM540 527h1v3h-1zM544 530h1v3h-1zM548 533h1v3h-1zM552 535h1v3h-1zM556 538h1v3h-1zM560 541h1v3h-1zM564 544h1v3h-1zM568 547h1v3h-1zM572 549h1v3h-1zM576 552h1v3h-1zM580 555h1v3h-1zM584 558h1v3h-1zM588 561h1v3h-1zM592 564h1v3h-1zM596 566h1v3h-1zM600 569h1v3h-1zM604 572h1v3h-1zM608 575h1v3h-1zM612 578h1v3h-1zM616 581h1v3h-1zM620 583h1v3h-1zM519 435h1v3h-1zM523 438h1v3h-1zM527 441h1v3h-1zM531 443h1v3h-1zM535 446h1v3h-1zM539 449h1v3h-1zM543 452h1v3h-1zM547 455h1v3h-1zM551 457h1v3h-1zM555 460h1v3h-1zM559 463h1v3h-1zM563 466h1v3h-1zM567 469h1v3h-1zM571 472h1v3h-1zM575 474h1v3h-1zM579 477h1v3h-1zM583 480h1v3h-1zM587 483h1v3h-1zM591 486h1v3h-1zM595 488h1v3h-1zM599 491h1v3h-1zM603 494h1v3h-1zM607 497h1v3h-1zM611 500h1v3h-1zM615 503h1v3h-1zM619 505h1v3h-1zM623 508h1v3h-1zM627 511h1v3h-1zM631 514h1v3h-1zM635 517h1v3h-1zM639 519h1v3h-1zM643 522h1v3h-1zM647 525h1v3h-1zM651 528h1v3h-1zM655 531h1v3h-1zM659 534h1v3h-1zM663 536h1v3h-1zM667 539h1v3h-1zM671 542h1v3h-1zM675 545h1v3h-1zM679 548h1v3h-1zM683 550h1v3h-1zM687 553h1v3h-1zM691 556h1v3h-1zM695 559h1v3h-1zM699 562h1v3h-1zM703 565h1v3h-1zM707 567h1v3h-1zM711 570h1v3h-1zM715 573h1v3h-1zM719 576h1v3h-1zM723 579h1v3h-1zM622 430h1v3h-1zM626 433h1v3h-1zM630 436h1v3h-1zM634 439h1v3h-1zM638 442h1v3h-1zM642 444h1v3h-1zM646 447h1v3h-1zM650 450h1v3h-1zM654 453h1v3h-1zM658 456h1v3h-1zM662 459h1v3h-1zM666 461h1v3h-1zM670 464h1v3h-1zM674 467h1v3h-1zM678 470h1v3h-1zM682 473h1v3h-1zM686 475h1v3h-1zM690 478h1v3h-1zM694 481h1v3h-1zM698 484h1v3h-1zM702 487h1v3h-1zM706 489h1v3h-1zM710 492h1v3h-1zM714 495h1v3h-1zM718 498h1v3h-1zM722 501h1v3h-1zM726 504h1v3h-1zM730 506h1v3h-1zM734 509h1v3h-1zM738 512h1v3h-1zM742 515h1v3h-1zM746 518h1v3h-1zM750 520h1v3h-1zM754 523h1v3h-1zM758 526h1v3h-1zM762 529h1v3h-1zM766 532h1v3h-1zM770 534h1v3h-1zM774 537h1v3h-1zM778 540h1v3h-1zM782 543h1v3h-1zM786 546h1v3h-1zM790 549h1v3h-1zM794 551h1v3h-1zM798 554h1v3h-1zM802 557h1v3h-1zM806 560h1v3h-1zM810 563h1v3h-1zM814 565h1v3h-1zM818 568h1v3h-1zM822 571h1v3h-1zM826 574h1v3h-1zM725 426h1v3h-1zM729 429h1v3h-1zM733 432h1v3h-1zM737 434h1v3h-1zM741 437h1v3h-1zM745 440h1v3h-1zM749 443h1v3h-1zM753 446h1v3h-1zM757 448h1v3h-1zM761 451h1v3h-1zM765 454h1v3h-1zM769 457h1v3h-1zM773 460h1v3h-1zM777 462h1v3h-1zM781 465h1v3h-1zM785 468h1v3h-1zM789 471h1v3h-1zM793 474h1v3h-1zM797 476h1v3h-1zM801 479h1v3h-1zM805 482h1v3h-1zM809 485h1v3h-1zM813 488h1v3h-1zM817 491h1v3h-1zM821 493h1v3h-1zM825 496h1v3h-1zM829 499h1v3h-1zM833 502h1v3h-1zM837 505h1v3h-1zM841 507h1v3h-1zM845 510h1v3h-1zM849 513h1v3h-1zM853 516h1v3h-1zM857 519h1v3h-1zM861 521h1v3h-1zM865 524h1v3h-1zM869 527h1v3h-1zM873 530h1v3h-1zM877 533h1v3h-1zM881 535h1v3h-1zM885 538h1v3h-1zM889 541h1v3h-1zM893 544h1v3h-1zM897 547h1v3h-1zM901 549h1v3h-1zM905 552h1v3h-1zM909 555h1v3h-1zM913 558h1v3h-1zM917 561h1v3h-1zM921 563h1v3h-1zM925 566h1v3h-1zM929 569h1v3h-1zM828 421h1v3h-1zM832 424h1v3h-1zM836 427h1v3h-1zM840 430h1v3h-1zM844 433h1v3h-1zM848 435h1v3h-1zM852 438h1v3h-1zM856 441h1v3h-1zM860 444h1v3h-1zM864 447h1v3h-1zM868 449h1v3h-1zM872 452h1v3h-1zM876 455h1v3h-1zM880 458h1v3h-1zM884 461h1v3h-1zM888 463h1v3h-1zM892 466h1v3h-1zM896 469h1v3h-1zM900 472h1v3h-1zM904 475h1v3h-1zM908 478h1v3h-1zM912 480h1v3h-1zM916 483h1v3h-1zM920 486h1v3h-1zM924 489h1v3h-1zM928 492h1v3h-1zM932 494h1v3h-1zM936 497h1v3h-1zM940 500h1v3h-1zM944 503h1v3h-1zM948 506h1v3h-1zM952 508h1v3h-1zM956 511h1v3h-1zM960 514h1v3h-1zM964 517h1v3h-1zM968 520h1v3h-1zM972 522h1v3h-1zM976 525h1v3h-1zM980 528h1v3h-1zM984 531h1v3h-1zM988 534h1v3h-1zM992 536h1v3h-1zM996 539h1v3h-1zM1000 542h1v3h-1zM1004 545h1v3h-1zM1008 548h1v3h-1zM1012 550h1v3h-1zM1016 553h1v3h-1zM1020 556h1v3h-1zM1024 559h1v3h-1zM1028 562h1v3h-1zM1032 564h1v3h-1zM931 417h1v3h-1zM935 420h1v3h-1zM939 423h1v3h-1zM943 425h1v3h-1zM947 428h1v3h-1zM951 431h1v3h-1zM955 434h1v3h-1zM959 437h1v3h-1zM963 439h1v3h-1zM967 442h1v3h-1zM971 445h1v3h-1zM975 448h1v3h-1zM979 451h1v3h-1zM983 453h1v3h-1zM987 456h1v3h-1zM991 459h1v3h-1zM995 462h1v3h-1zM999 465h1v3h-1zM1003 467h1v3h-1zM1007 470h1v3h-1zM1011 473h1v3h-1zM1015 476h1v3h-1zM1019 479h1v3h-1zM1023 481h1v3h-1zM1027 484h1v3h-1zM1031 487h1v3h-1zM1035 490h1v3h-1zM1039 493h1v3h-1zM1043 495h1v3h-1zM1047 498h1v3h-1zM1051 501h1v3h-1zM1055 504h1v3h-1zM1059 506h1v3h-1zM1063 509h1v3h-1zM1067 512h1v3h-1zM1071 515h1v3h-1zM1075 518h1v3h-1zM1079 520h1v3h-1zM1083 523h1v3h-1zM1087 526h1v3h-1zM1091 529h1v3h-1zM1095 532h1v3h-1zM1099 534h1v3h-1zM1103 537h1v3h-1zM1107 540h1v3h-1zM1111 543h1v3h-1zM1115 546h1v3h-1zM1119 548h1v3h-1zM1123 551h1v3h-1zM1127 554h1v3h-1zM1131 557h1v3h-1zM1135 560h1v3h-1zM108 453h1v3h-1zM112 453h1v3h-1zM116 452h1v3h-1zM120 452h1v3h-1zM124 452h1v3h-1zM128 452h1v3h-1zM132 452h1v3h-1zM136 452h1v3h-1zM140 451h1v3h-1zM144 451h1v3h-1zM148 451h1v3h-1zM152 451h1v3h-1zM156 451h1v3h-1zM160 451h1v3h-1zM164 450h1v3h-1zM168 450h1v3h-1zM172 450h1v3h-1zM176 450h1v3h-1zM180 450h1v3h-1zM184 449h1v3h-1zM188 449h1v3h-1zM192 449h1v3h-1zM196 449h1v3h-1zM200 449h1v3h-1zM204 449h1v3h-1zM208 448h1v3h-1zM212 448h1v3h-1zM216 448h1v3h-1zM220 448h1v3h-1zM224 448h1v3h-1zM228 448h1v3h-1zM232 447h1v3h-1zM236 447h1v3h-1zM240 447h1v3h-1zM244 447h1v3h-1zM248 447h1v3h-1zM252 447h1v3h-1zM256 446h1v3h-1zM260 446h1v3h-1zM264 446h1v3h-1zM268 446h1v3h-1zM272 446h1v3h-1zM276 445h1v3h-1zM280 445h1v3h-1zM284 445h1v3h-1zM288 445h1v3h-1zM292 445h1v3h-1zM296 445h1v3h-1zM300 444h1v3h-1zM304 444h1v3h-1zM308 444h1v3h-1zM312 444h1v3h-1zM316 444h1v3h-1zM320 444h1v3h-1zM324 443h1v3h-1zM328 443h1v3h-1zM332 443h1v3h-1zM336 443h1v3h-1zM340 443h1v3h-1zM344 443h1v3h-1zM348 442h1v3h-1zM352 442h1v3h-1zM356 442h1v3h-1zM360 442h1v3h-1zM364 442h1v3h-1zM368 441h1v3h-1zM372 441h1v3h-1zM376 441h1v3h-1zM380 441h1v3h-1zM384 441h1v3h-1zM388 441h1v3h-1zM392 440h1v3h-1zM396 440h1v3h-1zM400 440h1v3h-1zM404 440h1v3h-1zM408 440h1v3h-1zM412 440h1v3h-1zM416 439h1v3h-1zM420 439h1v3h-1zM424 439h1v3h-1zM428 439h1v3h-1zM432 439h1v3h-1zM436 439h1v3h-1zM440 438h1v3h-1zM444 438h1v3h-1zM448 438h1v3h-1zM452 438h1v3h-1zM456 438h1v3h-1zM460 437h1v3h-1zM464 437h1v3h-1zM468 437h1v3h-1zM472 437h1v3h-1zM476 437h1v3h-1zM480 437h1v3h-1zM484 436h1v3h-1zM488 436h1v3h-1zM492 436h1v3h-1zM496 436h1v3h-1zM500 436h1v3h-1zM504 436h1v3h-1zM508 435h1v3h-1zM512 435h1v3h-1zM516 435h1v3h-1zM520 435h1v3h-1zM524 435h1v3h-1zM528 435h1v3h-1zM532 434h1v3h-1zM536 434h1v3h-1zM540 434h1v3h-1zM544 434h1v3h-1zM548 434h1v3h-1zM552 433h1v3h-1zM556 433h1v3h-1zM560 433h1v3h-1zM564 433h1v3h-1zM568 433h1v3h-1zM572 433h1v3h-1zM576 432h1v3h-1zM580 432h1v3h-1zM584 432h1v3h-1zM588 432h1v3h-1zM592 432h1v3h-1zM596 432h1v3h-1zM600 431h1v3h-1zM604 431h1v3h-1zM608 431h1v3h-1zM612 431h1v3h-1zM616 431h1v3h-1zM620 431h1v3h-1zM624 430h1v3h-1zM628 430h1v3h-1zM632 430h1v3h-1zM636 430h1v3h-1zM640 430h1v3h-1zM644 429h1v3h-1zM648 429h1v3h-1zM652 429h1v3h-1zM656 429h1v3h-1zM660 429h1v3h-1zM664 429h1v3h-1zM668 428h1v3h-1zM672 428h1v3h-1zM676 428h1v3h-1zM680 428h1v3h-1zM684 428h1v3h-1zM688 428h1v3h-1zM692 427h1v3h-1zM696 427h1v3h-1zM700 427h1v3h-1zM704 427h1v3h-1zM708 427h1v3h-1zM712 427h1v3h-1zM716 426h1v3h-1zM720 426h1v3h-1zM724 426h1v3h-1zM728 426h1v3h-1zM732 426h1v3h-1zM736 425h1v3h-1zM740 425h1v3h-1zM744 425h1v3h-1zM748 425h1v3h-1zM752 425h1v3h-1zM756 425h1v3h-1zM760 424h1v3h-1zM764 424h1v3h-1zM768 424h1v3h-1zM772 424h1v3h-1zM776 424h1v3h-1zM780 424h1v3h-1zM784 423h1v3h-1zM788 423h1v3h-1zM792 423h1v3h-1zM796 423h1v3h-1zM800 423h1v3h-1zM804 423h1v3h-1zM808 422h1v3h-1zM812 422h1v3h-1zM816 422h1v3h-1zM820 422h1v3h-1zM824 422h1v3h-1zM828 421h1v3h-1zM832 421h1v3h-1zM836 421h1v3h-1zM840 421h1v3h-1zM844 421h1v3h-1zM848 421h1v3h-1zM852 420h1v3h-1zM856 420h1v3h-1zM860 420h1v3h-1zM864 420h1v3h-1zM868 420h1v3h-1zM872 420h1v3h-1zM876 419h1v3h-1zM880 419h1v3h-1zM884 419h1v3h-1zM888 419h1v3h-1zM892 419h1v3h-1zM896 419h1v3h-1zM900 418h1v3h-1zM904 418h1v3h-1zM908 418h1v3h-1zM912 418h1v3h-1zM916 418h1v3h-1zM920 417h1v3h-1zM924 417h1v3h-1zM928 417h1v3h-1zM158 489h1v3h-1zM162 489h1v3h-1zM166 489h1v3h-1zM170 488h1v3h-1zM174 488h1v3h-1zM178 488h1v3h-1zM182 488h1v3h-1zM186 488h1v3h-1zM190 488h1v3h-1zM194 487h1v3h-1zM198 487h1v3h-1zM202 487h1v3h-1zM206 487h1v3h-1zM210 487h1v3h-1zM214 487h1v3h-1zM218 486h1v3h-1zM222 486h1v3h-1zM226 486h1v3h-1zM230 486h1v3h-1zM234 486h1v3h-1zM238 485h1v3h-1zM242 485h1v3h-1zM246 485h1v3h-1zM250 485h1v3h-1zM254 485h1v3h-1zM258 485h1v3h-1zM262 484h1v3h-1zM266 484h1v3h-1zM270 484h1v3h-1zM274 484h1v3h-1zM278 484h1v3h-1zM282 484h1v3h-1zM286 483h1v3h-1zM290 483h1v3h-1zM294 483h1v3h-1zM298 483h1v3h-1zM302 483h1v3h-1zM306 483h1v3h-1zM310 482h1v3h-1zM314 482h1v3h-1zM318 482h1v3h-1zM322 482h1v3h-1zM326 482h1v3h-1zM330 481h1v3h-1zM334 481h1v3h-1zM338 481h1v3h-1zM342 481h1v3h-1zM346 481h1v3h-1zM350 481h1v3h-1zM354 480h1v3h-1zM358 480h1v3h-1zM362 480h1v3h-1zM366 480h1v3h-1zM370 480h1v3h-1zM374 480h1v3h-1zM378 479h1v3h-1zM382 479h1v3h-1zM386 479h1v3h-1zM390 479h1v3h-1zM394 479h1v3h-1zM398 479h1v3h-1zM402 478h1v3h-1zM406 478h1v3h-1zM410 478h1v3h-1zM414 478h1v3h-1zM418 478h1v3h-1zM422 477h1v3h-1zM426 477h1v3h-1zM430 477h1v3h-1zM434 477h1v3h-1zM438 477h1v3h-1zM442 477h1v3h-1zM446 476h1v3h-1zM450 476h1v3h-1zM454 476h1v3h-1zM458 476h1v3h-1zM462 476h1v3h-1zM466 476h1v3h-1zM470 475h1v3h-1zM474 475h1v3h-1zM478 475h1v3h-1zM482 475h1v3h-1zM486 475h1v3h-1zM490 475h1v3h-1zM494 474h1v3h-1zM498 474h1v3h-1zM502 474h1v3h-1zM506 474h1v3h-1zM510 474h1v3h-1zM514 473h1v3h-1zM518 473h1v3h-1zM522 473h1v3h-1zM526 473h1v3h-1zM530 473h1v3h-1zM534 473h1v3h-1zM538 472h1v3h-1zM542 472h1v3h-1zM546 472h1v3h-1zM550 472h1v3h-1zM554 472h1v3h-1zM558 472h1v3h-1zM562 471h1v3h-1zM566 471h1v3h-1zM570 471h1v3h-1zM574 471h1v3h-1zM578 471h1v3h-1zM582 471h1v3h-1zM586 470h1v3h-1zM590 470h1v3h-1zM594 470h1v3h-1zM598 470h1v3h-1zM602 470h1v3h-1zM606 469h1v3h-1zM610 469h1v3h-1zM614 469h1v3h-1zM618 469h1v3h-1zM622 469h1v3h-1zM626 469h1v3h-1zM630 468h1v3h-1zM634 468h1v3h-1zM638 468h1v3h-1zM642 468h1v3h-1zM646 468h1v3h-1zM650 468h1v3h-1zM654 467h1v3h-1zM658 467h1v3h-1zM662 467h1v3h-1zM666 467h1v3h-1zM670 467h1v3h-1zM674 467h1v3h-1zM678 466h1v3h-1zM682 466h1v3h-1zM686 466h1v3h-1zM690 466h1v3h-1zM694 466h1v3h-1zM698 465h1v3h-1zM702 465h1v3h-1zM706 465h1v3h-1zM710 465h1v3h-1zM714 465h1v3h-1zM718 465h1v3h-1zM722 464h1v3h-1zM726 464h1v3h-1zM730 464h1v3h-1zM734 464h1v3h-1zM738 464h1v3h-1zM742 464h1v3h-1zM746 463h1v3h-1zM750 463h1v3h-1zM754 463h1v3h-1zM758 463h1v3h-1zM762 463h1v3h-1zM766 463h1v3h-1zM770 462h1v3h-1zM774 462h1v3h-1zM778 462h1v3h-1zM782 462h1v3h-1zM786 462h1v3h-1zM790 461h1v3h-1zM794 461h1v3h-1zM798 461h1v3h-1zM802 461h1v3h-1zM806 461h1v3h-1zM810 461h1v3h-1zM814 460h1v3h-1zM818 460h1v3h-1zM822 460h1v3h-1zM826 460h1v3h-1zM830 460h1v3h-1zM834 460h1v3h-1zM838 459h1v3h-1zM842 459h1v3h-1zM846 459h1v3h-1zM850 459h1v3h-1zM854 459h1v3h-1zM858 459h1v3h-1zM862 458h1v3h-1zM866 458h1v3h-1zM870 458h1v3h-1zM874 458h1v3h-1zM878 458h1v3h-1zM882 457h1v3h-1zM886 457h1v3h-1zM890 457h1v3h-1zM894 457h1v3h-1zM898 457h1v3h-1zM902 457h1v3h-1zM906 456h1v3h-1zM910 456h1v3h-1zM914 456h1v3h-1zM918 456h1v3h-1zM922 456h1v3h-1zM926 456h1v3h-1zM930 455h1v3h-1zM934 455h1v3h-1zM938 455h1v3h-1zM942 455h1v3h-1zM946 455h1v3h-1zM950 455h1v3h-1zM954 454h1v3h-1zM958 454h1v3h-1zM962 454h1v3h-1zM966 454h1v3h-1zM970 454h1v3h-1zM974 453h1v3h-1zM978 453h1v3h-1zM982 453h1v3h-1zM209 525h1v3h-1zM213 525h1v3h-1zM217 525h1v3h-1zM221 525h1v3h-1zM225 524h1v3h-1zM229 524h1v3h-1zM233 524h1v3h-1zM237 524h1v3h-1zM241 524h1v3h-1zM245 524h1v3h-1zM249 523h1v3h-1zM253 523h1v3h-1zM257 523h1v3h-1zM261 523h1v3h-1zM265 523h1v3h-1zM269 522h1v3h-1zM273 522h1v3h-1zM277 522h1v3h-1zM281 522h1v3h-1zM285 522h1v3h-1zM289 522h1v3h-1zM293 521h1v3h-1zM297 521h1v3h-1zM301 521h1v3h-1zM305 521h1v3h-1zM309 521h1v3h-1zM313 521h1v3h-1zM317 520h1v3h-1zM321 520h1v3h-1zM325 520h1v3h-1zM329 520h1v3h-1zM333 520h1v3h-1zM337 520h1v3h-1zM341 519h1v3h-1zM345 519h1v3h-1zM349 519h1v3h-1zM353 519h1v3h-1zM357 519h1v3h-1zM361 518h1v3h-1zM365 518h1v3h-1zM369 518h1v3h-1zM373 518h1v3h-1zM377 518h1v3h-1zM381 518h1v3h-1zM385 517h1v3h-1zM389 517h1v3h-1zM393 517h1v3h-1zM397 517h1v3h-1zM401 517h1v3h-1zM405 517h1v3h-1zM409 516h1v3h-1zM413 516h1v3h-1zM417 516h1v3h-1zM421 516h1v3h-1zM425 516h1v3h-1zM429 516h1v3h-1zM433 515h1v3h-1zM437 515h1v3h-1zM441 515h1v3h-1zM445 515h1v3h-1zM449 515h1v3h-1zM453 514h1v3h-1zM457 514h1v3h-1zM461 514h1v3h-1zM465 514h1v3h-1zM469 514h1v3h-1zM473 514h1v3h-1zM477 513h1v3h-1zM481 513h1v3h-1zM485 513h1v3h-1zM489 513h1v3h-1zM493 513h1v3h-1zM497 513h1v3h-1zM501 512h1v3h-1zM505 512h1v3h-1zM509 512h1v3h-1zM513 512h1v3h-1zM517 512h1v3h-1zM521 512h1v3h-1zM525 511h1v3h-1zM529 511h1v3h-1zM533 511h1v3h-1zM537 511h1v3h-1zM541 511h1v3h-1zM545 510h1v3h-1zM549 510h1v3h-1zM553 510h1v3h-1zM557 510h1v3h-1zM561 510h1v3h-1zM565 510h1v3h-1zM569 509h1v3h-1zM573 509h1v3h-1zM577 509h1v3h-1zM581 509h1v3h-1zM585 509h1v3h-1zM589 509h1v3h-1zM593 508h1v3h-1zM597 508h1v3h-1zM601 508h1v3h-1zM605 508h1v3h-1zM609 508h1v3h-1zM613 508h1v3h-1zM617 507h1v3h-1zM621 507h1v3h-1zM625 507h1v3h-1zM629 507h1v3h-1zM633 507h1v3h-1zM637 507h1v3h-1zM641 506h1v3h-1zM645 506h1v3h-1zM649 506h1v3h-1zM653 506h1v3h-1zM657 506h1v3h-1zM661 505h1v3h-1zM665 505h1v3h-1zM669 505h1v3h-1zM673 505h1v3h-1zM677 505h1v3h-1zM681 505h1v3h-1zM685 504h1v3h-1zM689 504h1v3h-1zM693 504h1v3h-1zM697 504h1v3h-1zM701 504h1v3h-1zM705 504h1v3h-1zM709 503h1v3h-1zM713 503h1v3h-1zM717 503h1v3h-1zM721 503h1v3h-1zM725 503h1v3h-1zM729 503h1v3h-1zM733 502h1v3h-1zM737 502h1v3h-1zM741 502h1v3h-1zM745 502h1v3h-1zM749 502h1v3h-1zM753 501h1v3h-1zM757 501h1v3h-1zM761 501h1v3h-1zM765 501h1v3h-1zM769 501h1v3h-1zM773 501h1v3h-1zM777 500h1v3h-1zM781 500h1v3h-1zM785 500h1v3h-1zM789 500h1v3h-1zM793 500h1v3h-1zM797 500h1v3h-1zM801 499h1v3h-1zM805 499h1v3h-1zM809 499h1v3h-1zM813 499h1v3h-1zM817 499h1v3h-1zM821 499h1v3h-1zM825 498h1v3h-1zM829 498h1v3h-1zM833 498h1v3h-1zM837 498h1v3h-1zM841 498h1v3h-1zM845 497h1v3h-1zM849 497h1v3h-1zM853 497h1v3h-1zM857 497h1v3h-1zM861 497h1v3h-1zM865 497h1v3h-1zM869 496h1v3h-1zM873 496h1v3h-1zM877 496h1v3h-1zM881 496h1v3h-1zM885 496h1v3h-1zM889 496h1v3h-1zM893 495h1v3h-1zM897 495h1v3h-1zM901 495h1v3h-1zM905 495h1v3h-1zM909 495h1v3h-1zM913 495h1v3h-1zM917 494h1v3h-1zM921 494h1v3h-1zM925 494h1v3h-1zM929 494h1v3h-1zM933 494h1v3h-1zM937 493h1v3h-1zM941 493h1v3h-1zM945 493h1v3h-1zM949 493h1v3h-1zM953 493h1v3h-1zM957 493h1v3h-1zM961 492h1v3h-1zM965 492h1v3h-1zM969 492h1v3h-1zM973 492h1v3h-1zM977 492h1v3h-1zM981 492h1v3h-1zM985 491h1v3h-1zM989 491h1v3h-1zM993 491h1v3h-1zM997 491h1v3h-1zM1001 491h1v3h-1zM1005 491h1v3h-1zM1009 490h1v3h-1zM1013 490h1v3h-1zM1017 490h1v3h-1zM1021 490h1v3h-1zM1025 490h1v3h-1zM1029 489h1v3h-1zM1033 489h1v3h-1zM260 561h1v3h-1zM264 561h1v3h-1zM268 561h1v3h-1zM272 561h1v3h-1zM276 561h1v3h-1zM280 560h1v3h-1zM284 560h1v3h-1zM288 560h1v3h-1zM292 560h1v3h-1zM296 560h1v3h-1zM300 560h1v3h-1zM304 559h1v3h-1zM308 559h1v3h-1zM312 559h1v3h-1zM316 559h1v3h-1zM320 559h1v3h-1zM324 558h1v3h-1zM328 558h1v3h-1zM332 558h1v3h-1zM336 558h1v3h-1zM340 558h1v3h-1zM344 558h1v3h-1zM348 557h1v3h-1zM352 557h1v3h-1zM356 557h1v3h-1zM360 557h1v3h-1zM364 557h1v3h-1zM368 557h1v3h-1zM372 556h1v3h-1zM376 556h1v3h-1zM380 556h1v3h-1zM384 556h1v3h-1zM388 556h1v3h-1zM392 556h1v3h-1zM396 555h1v3h-1zM400 555h1v3h-1zM404 555h1v3h-1zM408 555h1v3h-1zM412 555h1v3h-1zM416 554h1v3h-1zM420 554h1v3h-1zM424 554h1v3h-1zM428 554h1v3h-1zM432 554h1v3h-1zM436 554h1v3h-1zM440 553h1v3h-1zM444 553h1v3h-1zM448 553h1v3h-1zM452 553h1v3h-1zM456 553h1v3h-1zM460 553h1v3h-1zM464 552h1v3h-1zM468 552h1v3h-1zM472 552h1v3h-1zM476 552h1v3h-1zM480 552h1v3h-1zM484 552h1v3h-1zM488 551h1v3h-1zM492 551h1v3h-1zM496 551h1v3h-1zM500 551h1v3h-1zM504 551h1v3h-1zM508 550h1v3h-1zM512 550h1v3h-1zM516 550h1v3h-1zM520 550h1v3h-1zM524 550h1v3h-1zM528 550h1v3h-1zM532 549h1v3h-1zM536 549h1v3h-1zM540 549h1v3h-1zM544 549h1v3h-1zM548 549h1v3h-1zM552 549h1v3h-1zM556 548h1v3h-1zM560 548h1v3h-1zM564 548h1v3h-1zM568 548h1v3h-1zM572 548h1v3h-1zM576 548h1v3h-1zM580 547h1v3h-1zM584 547h1v3h-1zM588 547h1v3h-1zM592 547h1v3h-1zM596 547h1v3h-1zM600 546h1v3h-1zM604 546h1v3h-1zM608 546h1v3h-1zM612 546h1v3h-1zM616 546h1v3h-1zM620 546h1v3h-1zM624 545h1v3h-1zM628 545h1v3h-1zM632 545h1v3h-1zM636 545h1v3h-1zM640 545h1v3h-1zM644 545h1v3h-1zM648 544h1v3h-1zM652 544h1v3h-1zM656 544h1v3h-1zM660 544h1v3h-1zM664 544h1v3h-1zM668 544h1v3h-1zM672 543h1v3h-1zM676 543h1v3h-1zM680 543h1v3h-1zM684 543h1v3h-1zM688 543h1v3h-1zM692 542h1v3h-1zM696 542h1v3h-1zM700 542h1v3h-1zM704 542h1v3h-1zM708 542h1v3h-1zM712 542h1v3h-1zM716 541h1v3h-1zM720 541h1v3h-1zM724 541h1v3h-1zM728 541h1v3h-1zM732 541h1v3h-1zM736 541h1v3h-1zM740 540h1v3h-1zM744 540h1v3h-1zM748 540h1v3h-1zM752 540h1v3h-1zM756 540h1v3h-1zM760 540h1v3h-1zM764 539h1v3h-1zM768 539h1v3h-1zM772 539h1v3h-1zM776 539h1v3h-1zM780 539h1v3h-1zM784 538h1v3h-1zM788 538h1v3h-1zM792 538h1v3h-1zM796 538h1v3h-1zM800 538h1v3h-1zM804 538h1v3h-1zM808 537h1v3h-1zM812 537h1v3h-1zM816 537h1v3h-1zM820 537h1v3h-1zM824 537h1v3h-1zM828 537h1v3h-1zM832 536h1v3h-1zM836 536h1v3h-1zM840 536h1v3h-1zM844 536h1v3h-1zM848 536h1v3h-1zM852 536h1v3h-1zM856 535h1v3h-1zM860 535h1v3h-1zM864 535h1v3h-1zM868 535h1v3h-1zM872 535h1v3h-1zM876 534h1v3h-1zM880 534h1v3h-1zM884 534h1v3h-1zM888 534h1v3h-1zM892 534h1v3h-1zM896 534h1v3h-1zM900 533h1v3h-1zM904 533h1v3h-1zM908 533h1v3h-1zM912 533h1v3h-1zM916 533h1v3h-1zM920 533h1v3h-1zM924 532h1v3h-1zM928 532h1v3h-1zM932 532h1v3h-1zM936 532h1v3h-1zM940 532h1v3h-1zM944 532h1v3h-1zM948 531h1v3h-1zM952 531h1v3h-1zM956 531h1v3h-1zM960 531h1v3h-1zM964 531h1v3h-1zM968 530h1v3h-1zM972 530h1v3h-1zM976 530h1v3h-1zM980 530h1v3h-1zM984 530h1v3h-1zM988 530h1v3h-1zM992 529h1v3h-1zM996 529h1v3h-1zM1000 529h1v3h-1zM1004 529h1v3h-1zM1008 529h1v3h-1zM1012 529h1v3h-1zM1016 528h1v3h-1zM1020 528h1v3h-1zM1024 528h1v3h-1zM1028 528h1v3h-1zM1032 528h1v3h-1zM1036 528h1v3h-1zM1040 527h1v3h-1zM1044 527h1v3h-1zM1048 527h1v3h-1zM1052 527h1v3h-1zM1056 527h1v3h-1zM1060 526h1v3h-1zM1064 526h1v3h-1zM1068 526h1v3h-1zM1072 526h1v3h-1zM1076 526h1v3h-1zM1080 526h1v3h-1zM1084 525h1v3h-1zM311 597h1v3h-1zM315 597h1v3h-1zM319 597h1v3h-1zM323 597h1v3h-1zM327 597h1v3h-1zM331 597h1v3h-1zM335 596h1v3h-1zM339 596h1v3h-1zM343 596h1v3h-1zM347 596h1v3h-1zM351 596h1v3h-1zM355 595h1v3h-1zM359 595h1v3h-1zM363 595h1v3h-1zM367 595h1v3h-1zM371 595h1v3h-1zM375 595h1v3h-1zM379 594h1v3h-1zM383 594h1v3h-1zM387 594h1v3h-1zM391 594h1v3h-1zM395 594h1v3h-1zM399 594h1v3h-1zM403 593h1v3h-1zM407 593h1v3h-1zM411 593h1v3h-1zM415 593h1v3h-1zM419 593h1v3h-1zM423 593h1v3h-1zM427 592h1v3h-1zM431 592h1v3h-1zM435 592h1v3h-1zM439 592h1v3h-1zM443 592h1v3h-1zM447 591h1v3h-1zM451 591h1v3h-1zM455 591h1v3h-1zM459 591h1v3h-1zM463 591h1v3h-1zM467 591h1v3h-1zM471 590h1v3h-1zM475 590h1v3h-1zM479 590h1v3h-1zM483 590h1v3h-1zM487 590h1v3h-1zM491 590h1v3h-1zM495 589h1v3h-1zM499 589h1v3h-1zM503 589h1v3h-1zM507 589h1v3h-1zM511 589h1v3h-1zM515 589h1v3h-1zM519 588h1v3h-1zM523 588h1v3h-1zM527 588h1v3h-1zM531 588h1v3h-1zM535 588h1v3h-1zM539 587h1v3h-1zM543 587h1v3h-1zM547 587h1v3h-1zM551 587h1v3h-1zM555 587h1v3h-1zM559 587h1v3h-1zM563 586h1v3h-1zM567 586h1v3h-1zM571 586h1v3h-1zM575 586h1v3h-1zM579 586h1v3h-1zM583 586h1v3h-1zM587 585h1v3h-1zM591 585h1v3h-1zM595 585h1v3h-1zM599 585h1v3h-1zM603 585h1v3h-1zM607 585h1v3h-1zM611 584h1v3h-1zM615 584h1v3h-1zM619 584h1v3h-1zM623 584h1v3h-1zM627 584h1v3h-1zM631 584h1v3h-1zM635 583h1v3h-1zM639 583h1v3h-1zM643 583h1v3h-1zM647 583h1v3h-1zM651 583h1v3h-1zM655 582h1v3h-1zM659 582h1v3h-1zM663 582h1v3h-1zM667 582h1v3h-1zM671 582h1v3h-1zM675 582h1v3h-1zM679 581h1v3h-1zM683 581h1v3h-1zM687 581h1v3h-1zM691 581h1v3h-1zM695 581h1v3h-1zM699 581h1v3h-1zM703 580h1v3h-1zM707 580h1v3h-1zM711 580h1v3h-1zM715 580h1v3h-1zM719 580h1v3h-1zM723 580h1v3h-1zM727 579h1v3h-1zM731 579h1v3h-1zM735 579h1v3h-1zM739 579h1v3h-1zM743 579h1v3h-1zM747 578h1v3h-1zM751 578h1v3h-1zM755 578h1v3h-1zM759 578h1v3h-1zM763 578h1v3h-1zM767 578h1v3h-1zM771 577h1v3h-1zM775 577h1v3h-1zM779 577h1v3h-1zM783 577h1v3h-1zM787 577h1v3h-1zM791 577h1v3h-1zM795 576h1v3h-1zM799 576h1v3h-1zM803 576h1v3h-1zM807 576h1v3h-1zM811 576h1v3h-1zM815 576h1v3h-1zM819 575h1v3h-1zM823 575h1v3h-1zM827 575h1v3h-1zM831 575h1v3h-1zM835 575h1v3h-1zM839 574h1v3h-1zM843 574h1v3h-1zM847 574h1v3h-1zM851 574h1v3h-1zM855 574h1v3h-1zM859 574h1v3h-1zM863 573h1v3h-1zM867 573h1v3h-1zM871 573h1v3h-1zM875 573h1v3h-1zM879 573h1v3h-1zM883 573h1v3h-1zM887 572h1v3h-1zM891 572h1v3h-1zM895 572h1v3h-1zM899 572h1v3h-1zM903 572h1v3h-1zM907 572h1v3h-1zM911 571h1v3h-1zM915 571h1v3h-1zM919 571h1v3h-1zM923 571h1v3h-1zM927 571h1v3h-1zM931 570h1v3h-1zM935 570h1v3h-1zM939 570h1v3h-1zM943 570h1v3h-1zM947 570h1v3h-1zM951 570h1v3h-1zM955 569h1v3h-1zM959 569h1v3h-1zM963 569h1v3h-1zM967 569h1v3h-1zM971 569h1v3h-1zM975 569h1v3h-1zM979 568h1v3h-1zM983 568h1v3h-1zM987 568h1v3h-1zM991 568h1v3h-1zM995 568h1v3h-1zM999 568h1v3h-1zM1003 567h1v3h-1zM1007 567h1v3h-1zM1011 567h1v3h-1zM1015 567h1v3h-1zM1019 567h1v3h-1zM1023 566h1v3h-1zM1027 566h1v3h-1zM1031 566h1v3h-1zM1035 566h1v3h-1zM1039 566h1v3h-1zM1043 566h1v3h-1zM1047 565h1v3h-1zM1051 565h1v3h-1zM1055 565h1v3h-1zM1059 565h1v3h-1zM1063 565h1v3h-1zM1067 565h1v3h-1zM1071 564h1v3h-1zM1075 564h1v3h-1zM1079 564h1v3h-1zM1083 564h1v3h-1zM1087 564h1v3h-1zM1091 564h1v3h-1zM1095 563h1v3h-1zM1099 563h1v3h-1zM1103 563h1v3h-1zM1107 563h1v3h-1zM1111 563h1v3h-1zM1115 562h1v3h-1zM1119 562h1v3h-1zM1123 562h1v3h-1zM1127 562h1v3h-1zM1131 562h1v3h-1zM1135 562h1v3h-1z"/>
<path fill="#1a1a1a" shape-rendering="crispEdges" d="M108 453h1v3h-1zM112 453h1v3h-1zM116 452h1v3h-1zM120 452h1v3h-1zM124 452h1v3h-1zM128 452h1v3h-1zM132 452h1v3h-1zM136 452h1v3h-1zM140 451h1v3h-1zM144 451h1v3h-1zM148 451h1v3h-1zM152 451h1v3h-1zM156 451h1v3h-1zM160 451h1v3h-1zM164 450h1v3h-1zM168 450h1v3h-1zM172 450h1v3h-1zM176 450h1v3h-1zM180 450h1v3h-1zM184 449h1v3h-1zM188 449h1v3h-1zM192 449h1v3h-1zM196 449h1v3h-1zM200 449h1v3h-1zM204 449h1v3h-1zM208 448h1v3h-1zM212 448h1v3h-1zM216 448h1v3h-1zM220 448h1v3h-1zM224 448h1v3h-1zM228 448h1v3h-1zM232 447h1v3h-1zM236 447h1v3h-1zM240 447h1v3h-1zM244 447h1v3h-1zM248 447h1v3h-1zM252 447h1v3h-1zM256 446h1v3h-1zM260 446h1v3h-1zM264 446h1v3h-1zM268 446h1v3h-1zM272 446h1v3h-1zM276 445h1v3h-1zM280 445h1v3h-1zM284 445h1v3h-1zM288 445h1v3h-1zM292 445h1v3h-1zM296 445h1v3h-1zM300 444h1v3h-1zM304 444h1v3h-1zM308 444h1v3h-1zM312 444h1v3h-1zM316 444h1v3h-1zM320 444h1v3h-1zM324 443h1v3h-1zM328 443h1v3h-1zM332 443h1v3h-1zM336 443h1v3h-1zM340 443h1v3h-1zM344 443h1v3h-1zM348 442h1v3h-1zM352 442h1v3h-1zM356 442h1v3h-1zM360 442h1v3h-1zM364 442h1v3h-1zM368 441h1v3h-1zM372 441h1v3h-1zM376 441h1v3h-1zM380 441h1v3h-1zM384 441h1v3h-1zM388 441h1v3h-1zM392 440h1v3h-1zM396 440h1v3h-1zM400 440h1v3h-1zM404 440h1v3h-1zM408 440h1v3h-1zM412 440h1v3h-1zM416 439h1v3h-1zM420 439h1v3h-1zM424 439h1v3h-1zM428 439h1v3h-1zM432 439h1v3h-1zM436 439h1v3h-1zM440 438h1v3h-1zM444 438h1v3h-1zM448 438h1v3h-1zM452 438h1v3h-1zM456 438h1v3h-1zM460 437h1v3h-1zM464 437h1v3h-1zM468 437h1v3h-1zM472 437h1v3h-1zM476 437h1v3h-1zM480 437h1v3h-1zM484 436h1v3h-1zM488 436h1v3h-1zM492 436h1v3h-1zM496 436h1v3h-1zM500 436h1v3h-1zM504 436h1v3h-1zM508 435h1v3h-1zM512 435h1v3h-1zM516 435h1v3h-1zM520 435h1v3h-1zM524 435h1v3h-1zM528 435h1v3h-1zM532 434h1v3h-1zM536 434h1v3h-1zM540 434h1v3h-1zM544 434h1v3h-1zM548 434h1v3h-1zM552 433h1v3h-1zM556 433h1v3h-1zM560 433h1v3h-1zM564 433h1v3h-1zM568 433h1v3h-1zM572 433h1v3h-1zM576 432h1v3h-1zM580 432h1v3h-1zM584 432h1v3h-1zM588 432h1v3h-1zM592 432h1v3h-1zM596 432h1v3h-1zM600 431h1v3h-1zM604 431h1v3h-1zM608 431h1v3h-1zM612 431h1v3h-1zM616 431h1v3h-1zM620 431h1v3h-1zM624 430h1v3h-1zM628 430h1v3h-1zM632 430h1v3h-1zM636 430h1v3h-1zM640 430h1v3h-1zM644 429h1v3h-1zM648 429h1v3h-1zM652 429h1v3h-1zM656 429h1v3h-1zM660 429h1v3h-1zM664 429h1v3h-1zM668 428h1v3h-1zM672 428h1v3h-1zM676 428h1v3h-1zM680 428h1v3h-1zM684 428h1v3h-1zM688 428h1v3h-1zM692 427h1v3h-1zM696 427h1v3h-1zM700 427h1v3h-1zM704 427h1v3h-1zM708 427h1v3h-1zM712 427h1v3h-1zM716 426h1v3h-1zM720 426h1v3h-1zM724 426h1v3h-1zM728 426h1v3h-1zM732 426h1v3h-1zM736 425h1v3h-1zM740 425h1v3h-1zM744 425h1v3h-1zM748 425h1v3h-1zM752 425h1v3h-1zM756 425h1v3h-1zM760 424h1v3h-1zM764 424h1v3h-1zM768 424h1v3h-1zM772 424h1v3h-1zM776 424h1v3h-1zM780 424h1v3h-1zM784 423h1v3h-1zM788 423h1v3h-1zM792 423h1v3h-1zM796 423h1v3h-1zM800 423h1v3h-1zM804 423h1v3h-1zM808 422h1v3h-1zM812 422h1v3h-1zM816 422h1v3h-1zM820 422h1v3h-1zM824 422h1v3h-1zM828 421h1v3h-1zM832 421h1v3h-1zM836 421h1v3h-1zM840 421h1v3h-1zM844 421h1v3h-1zM848 421h1v3h-1zM852 420h1v3h-1zM856 420h1v3h-1zM860 420h1v3h-1zM864 420h1v3h-1zM868 420h1v3h-1zM872 420h1v3h-1zM876 419h1v3h-1zM880 419h1v3h-1zM884 419h1v3h-1zM888 419h1v3h-1zM892 419h1v3h-1zM896 419h1v3h-1zM900 418h1v3h-1zM904 418h1v3h-1zM908 418h1v3h-1zM912 418h1v3h-1zM916 418h1v3h-1zM920 417h1v3h-1zM924 417h1v3h-1zM928 417h1v3h-1zM108 371h1v3h-1zM112 371h1v3h-1zM116 370h1v3h-1zM120 370h1v3h-1zM124 370h1v3h-1zM128 370h1v3h-1zM132 370h1v3h-1zM136 370h1v3h-1zM140 369h1v3h-1zM144 369h1v3h-1zM148 369h1v3h-1zM152 369h1v3h-1zM156 369h1v3h-1zM160 369h1v3h-1zM164 368h1v3h-1zM168 368h1v3h-1zM172 368h1v3h-1zM176 368h1v3h-1zM180 368h1v3h-1zM184 368h1v3h-1zM188 367h1v3h-1zM192 367h1v3h-1zM196 367h1v3h-1zM200 367h1v3h-1zM204 367h1v3h-1zM208 367h1v3h-1zM212 366h1v3h-1zM216 366h1v3h-1zM220 366h1v3h-1zM224 366h1v3h-1zM228 366h1v3h-1zM232 366h1v3h-1zM236 365h1v3h-1zM240 365h1v3h-1zM244 365h1v3h-1zM248 365h1v3h-1zM252 365h1v3h-1zM256 364h1v3h-1zM260 364h1v3h-1zM264 364h1v3h-1zM268 364h1v3h-1zM272 364h1v3h-1zM276 364h1v3h-1zM280 363h1v3h-1zM284 363h1v3h-1zM288 363h1v3h-1zM292 363h1v3h-1zM296 363h1v3h-1zM300 363h1v3h-1zM304 362h1v3h-1zM308 362h1v3h-1zM312 362h1v3h-1zM316 362h1v3h-1zM320 362h1v3h-1zM324 362h1v3h-1zM328 361h1v3h-1zM332 361h1v3h-1zM336 361h1v3h-1zM340 361h1v3h-1zM344 361h1v3h-1zM348 361h1v3h-1zM352 360h1v3h-1zM356 360h1v3h-1zM360 360h1v3h-1zM364 360h1v3h-1zM368 360h1v3h-1zM372 360h1v3h-1zM376 359h1v3h-1zM380 359h1v3h-1zM384 359h1v3h-1zM388 359h1v3h-1zM392 359h1v3h-1zM396 358h1v3h-1zM400 358h1v3h-1zM404 358h1v3h-1zM408 358h1v3h-1zM412 358h1v3h-1zM416 358h1v3h-1zM420 357h1v3h-1zM424 357h1v3h-1zM428 357h1v3h-1zM432 357h1v3h-1zM436 357h1v3h-1zM440 357h1v3h-1zM444 356h1v3h-1zM448 356h1v3h-1zM452 356h1v3h-1zM456 356h1v3h-1zM460 356h1v3h-1zM464 356h1v3h-1zM468 355h1v3h-1zM472 355h1v3h-1zM476 355h1v3h-1zM480 355h1v3h-1zM484 355h1v3h-1zM488 355h1v3h-1zM492 354h1v3h-1zM496 354h1v3h-1zM500 354h1v3h-1zM504 354h1v3h-1zM508 354h1v3h-1zM512 353h1v3h-1zM516 353h1v3h-1zM520 353h1v3h-1zM524 353h1v3h-1zM528 353h1v3h-1zM532 353h1v3h-1zM536 352h1v3h-1zM540 352h1v3h-1zM544 352h1v3h-1zM548 352h1v3h-1zM552 352h1v3h-1zM556 352h1v3h-1zM560 351h1v3h-1zM564 351h1v3h-1zM568 351h1v3h-1zM572 351h1v3h-1zM576 351h1v3h-1zM580 351h1v3h-1zM584 350h1v3h-1zM588 350h1v3h-1zM592 350h1v3h-1zM596 350h1v3h-1zM600 350h1v3h-1zM604 350h1v3h-1zM608 349h1v3h-1zM612 349h1v3h-1zM616 349h1v3h-1zM620 349h1v3h-1zM624 349h1v3h-1zM628 349h1v3h-1zM632 348h1v3h-1zM636 348h1v3h-1zM640 348h1v3h-1zM644 348h1v3h-1zM648 348h1v3h-1zM652 347h1v3h-1zM656 347h1v3h-1zM660 347h1v3h-1zM664 347h1v3h-1zM668 347h1v3h-1zM672 347h1v3h-1zM676 346h1v3h-1zM680 346h1v3h-1zM684 346h1v3h-1zM688 346h1v3h-1zM692 346h1v3h-1zM696 346h1v3h-1zM700 345h1v3h-1zM704 345h1v3h-1zM708 345h1v3h-1zM712 345h1v3h-1zM716 345h1v3h-1zM720 345h1v3h-1zM724 344h1v3h-1zM728 344h1v3h-1zM732 344h1v3h-1zM736 344h1v3h-1zM740 344h1v3h-1zM744 344h1v3h-1zM748 343h1v3h-1zM752 343h1v3h-1zM756 343h1v3h-1zM760 343h1v3h-1zM764 343h1v3h-1zM768 343h1v3h-1zM772 342h1v3h-1zM776 342h1v3h-1zM780 342h1v3h-1zM784 342h1v3h-1zM788 342h1v3h-1zM792 341h1v3h-1zM796 341h1v3h-1zM800 341h1v3h-1zM804 341h1v3h-1zM808 341h1v3h-1zM812 341h1v3h-1zM816 340h1v3h-1zM820 340h1v3h-1zM824 340h1v3h-1zM828 340h1v3h-1zM832 340h1v3h-1zM836 340h1v3h-1zM840 339h1v3h-1zM844 339h1v3h-1zM848 339h1v3h-1zM852 339h1v3h-1zM856 339h1v3h-1zM860 339h1v3h-1zM864 338h1v3h-1zM868 338h1v3h-1zM872 338h1v3h-1zM876 338h1v3h-1zM880 338h1v3h-1zM884 338h1v3h-1zM888 337h1v3h-1zM892 337h1v3h-1zM896 337h1v3h-1zM900 337h1v3h-1zM904 337h1v3h-1zM908 336h1v3h-1zM912 336h1v3h-1zM916 336h1v3h-1zM920 336h1v3h-1zM924 336h1v3h-1zM928 336h1v3h-1zM108 289h1v3h-1zM112 289h1v3h-1zM116 289h1v3h-1zM120 288h1v3h-1zM124 288h1v3h-1zM128 288h1v3h-1zM132 288h1v3h-1zM136 288h1v3h-1zM140 288h1v3h-1zM144 287h1v3h-1zM148 287h1v3h-1zM152 287h1v3h-1zM156 287h1v3h-1zM160 287h1v3h-1zM164 287h1v3h-1zM168 286h1v3h-1zM172 286h1v3h-1zM176 286h1v3h-1zM180 286h1v3h-1zM184 286h1v3h-1zM188 285h1v3h-1zM192 285h1v3h-1zM196 285h1v3h-1zM200 285h1v3h-1zM204 285h1v3h-1zM208 285h1v3h-1zM212 284h1v3h-1zM216 284h1v3h-1zM220 284h1v3h-1zM224 284h1v3h-1zM228 284h1v3h-1zM232 284h1v3h-1zM236 283h1v3h-1zM240 283h1v3h-1zM244 283h1v3h-1zM248 283h1v3h-1zM252 283h1v3h-1zM256 283h1v3h-1zM260 282h1v3h-1zM264 282h1v3h-1zM268 282h1v3h-1zM272 282h1v3h-1zM276 282h1v3h-1zM280 282h1v3h-1zM284 281h1v3h-1zM288 281h1v3h-1zM292 281h1v3h-1zM296 281h1v3h-1zM300 281h1v3h-1zM304 281h1v3h-1zM308 280h1v3h-1zM312 280h1v3h-1zM316 280h1v3h-1zM320 280h1v3h-1zM324 280h1v3h-1zM328 280h1v3h-1zM332 279h1v3h-1zM336 279h1v3h-1zM340 279h1v3h-1zM344 279h1v3h-1zM348 279h1v3h-1zM352 279h1v3h-1zM356 278h1v3h-1zM360 278h1v3h-1zM364 278h1v3h-1zM368 278h1v3h-1zM372 278h1v3h-1zM376 278h1v3h-1zM380 277h1v3h-1zM384 277h1v3h-1zM388 277h1v3h-1zM392 277h1v3h-1zM396 277h1v3h-1zM400 277h1v3h-1zM404 276h1v3h-1zM408 276h1v3h-1zM412 276h1v3h-1zM416 276h1v3h-1zM420 276h1v3h-1zM424 275h1v3h-1zM428 275h1v3h-1zM432 275h1v3h-1zM436 275h1v3h-1zM440 275h1v3h-1zM444 275h1v3h-1zM448 274h1v3h-1zM452 274h1v3h-1zM456 274h1v3h-1zM460 274h1v3h-1zM464 274h1v3h-1zM468 274h1v3h-1zM472 273h1v3h-1zM476 273h1v3h-1zM480 273h1v3h-1zM484 273h1v3h-1zM488 273h1v3h-1zM492 273h1v3h-1zM496 272h1v3h-1zM500 272h1v3h-1zM504 272h1v3h-1zM508 272h1v3h-1zM512 272h1v3h-1zM516 272h1v3h-1zM520 271h1v3h-1zM524 271h1v3h-1zM528 271h1v3h-1zM532 271h1v3h-1zM536 271h1v3h-1zM540 271h1v3h-1zM544 270h1v3h-1zM548 270h1v3h-1zM552 270h1v3h-1zM556 270h1v3h-1zM560 270h1v3h-1zM564 270h1v3h-1zM568 269h1v3h-1zM572 269h1v3h-1zM576 269h1v3h-1zM580 269h1v3h-1zM584 269h1v3h-1zM588 269h1v3h-1zM592 268h1v3h-1zM596 268h1v3h-1zM600 268h1v3h-1zM604 268h1v3h-1zM608 268h1v3h-1zM612 268h1v3h-1zM616 267h1v3h-1zM620 267h1v3h-1zM624 267h1v3h-1zM628 267h1v3h-1zM632 267h1v3h-1zM636 267h1v3h-1zM640 266h1v3h-1zM644 266h1v3h-1zM648 266h1v3h-1zM652 266h1v3h-1zM656 266h1v3h-1zM660 265h1v3h-1zM664 265h1v3h-1zM668 265h1v3h-1zM672 265h1v3h-1zM676 265h1v3h-1zM680 265h1v3h-1zM684 264h1v3h-1zM688 264h1v3h-1zM692 264h1v3h-1zM696 264h1v3h-1zM700 264h1v3h-1zM704 264h1v3h-1zM708 263h1v3h-1zM712 263h1v3h-1zM716 263h1v3h-1zM720 263h1v3h-1zM724 263h1v3h-1zM728 263h1v3h-1zM732 262h1v3h-1zM736 262h1v3h-1zM740 262h1v3h-1zM744 262h1v3h-1zM748 262h1v3h-1zM752 262h1v3h-1zM756 261h1v3h-1zM760 261h1v3h-1zM764 261h1v3h-1zM768 261h1v3h-1zM772 261h1v3h-1zM776 261h1v3h-1zM780 260h1v3h-1zM784 260h1v3h-1zM788 260h1v3h-1zM792 260h1v3h-1zM796 260h1v3h-1zM800 260h1v3h-1zM804 259h1v3h-1zM808 259h1v3h-1zM812 259h1v3h-1zM816 259h1v3h-1zM820 259h1v3h-1zM824 259h1v3h-1zM828 258h1v3h-1zM832 258h1v3h-1zM836 258h1v3h-1zM840 258h1v3h-1zM844 258h1v3h-1zM848 258h1v3h-1zM852 257h1v3h-1zM856 257h1v3h-1zM860 257h1v3h-1zM864 257h1v3h-1zM868 257h1v3h-1zM872 256h1v3h-1zM876 256h1v3h-1zM880 256h1v3h-1zM884 256h1v3h-1zM888 256h1v3h-1zM892 256h1v3h-1zM896 255h1v3h-1zM900 255h1v3h-1zM904 255h1v3h-1zM908 255h1v3h-1zM912 255h1v3h-1zM916 255h1v3h-1zM920 254h1v3h-1zM924 254h1v3h-1zM928 254h1v3h-1zM108 207h1v3h-1zM112 207h1v3h-1zM116 207h1v3h-1zM120 206h1v3h-1zM124 206h1v3h-1zM128 206h1v3h-1zM132 206h1v3h-1zM136 206h1v3h-1zM140 206h1v3h-1zM144 205h1v3h-1zM148 205h1v3h-1zM152 205h1v3h-1zM156 205h1v3h-1zM160 205h1v3h-1zM164 205h1v3h-1zM168 204h1v3h-1zM172 204h1v3h-1zM176 204h1v3h-1zM180 204h1v3h-1zM184 204h1v3h-1zM188 204h1v3h-1zM192 203h1v3h-1zM196 203h1v3h-1zM200 203h1v3h-1zM204 203h1v3h-1zM208 203h1v3h-1zM212 203h1v3h-1zM216 202h1v3h-1zM220 202h1v3h-1zM224 202h1v3h-1zM228 202h1v3h-1zM232 202h1v3h-1zM236 202h1v3h-1zM240 201h1v3h-1zM244 201h1v3h-1zM248 201h1v3h-1zM252 201h1v3h-1zM256 201h1v3h-1zM260 201h1v3h-1zM264 200h1v3h-1zM268 200h1v3h-1zM272 200h1v3h-1zM276 200h1v3h-1zM280 200h1v3h-1zM284 200h1v3h-1zM288 199h1v3h-1zM292 199h1v3h-1zM296 199h1v3h-1zM300 199h1v3h-1zM304 199h1v3h-1zM308 199h1v3h-1zM312 198h1v3h-1zM316 198h1v3h-1zM320 198h1v3h-1zM324 198h1v3h-1zM328 198h1v3h-1zM332 198h1v3h-1zM336 197h1v3h-1zM340 197h1v3h-1zM344 197h1v3h-1zM348 197h1v3h-1zM352 197h1v3h-1zM356 197h1v3h-1zM360 196h1v3h-1zM364 196h1v3h-1zM368 196h1v3h-1zM372 196h1v3h-1zM376 196h1v3h-1zM380 196h1v3h-1zM384 195h1v3h-1zM388 195h1v3h-1zM392 195h1v3h-1zM396 195h1v3h-1zM400 195h1v3h-1zM404 195h1v3h-1zM408 194h1v3h-1zM412 194h1v3h-1zM416 194h1v3h-1zM420 194h1v3h-1zM424 194h1v3h-1zM428 194h1v3h-1zM432 193h1v3h-1zM436 193h1v3h-1zM440 193h1v3h-1zM444 193h1v3h-1zM448 193h1v3h-1zM452 193h1v3h-1zM456 192h1v3h-1zM460 192h1v3h-1zM464 192h1v3h-1zM468 192h1v3h-1zM472 192h1v3h-1zM476 192h1v3h-1zM480 191h1v3h-1zM484 191h1v3h-1zM488 191h1v3h-1zM492 191h1v3h-1zM496 191h1v3h-1zM500 191h1v3h-1zM504 190h1v3h-1zM508 190h1v3h-1zM512 190h1v3h-1zM516 190h1v3h-1zM520 190h1v3h-1zM524 190h1v3h-1zM528 189h1v3h-1zM532 189h1v3h-1zM536 189h1v3h-1zM540 189h1v3h-1zM544 189h1v3h-1zM548 189h1v3h-1zM552 188h1v3h-1zM556 188h1v3h-1zM560 188h1v3h-1zM564 188h1v3h-1zM568 188h1v3h-1zM572 188h1v3h-1zM576 187h1v3h-1zM580 187h1v3h-1zM584 187h1v3h-1zM588 187h1v3h-1zM592 187h1v3h-1zM596 187h1v3h-1zM600 186h1v3h-1zM604 186h1v3h-1zM608 186h1v3h-1zM612 186h1v3h-1zM616 186h1v3h-1zM620 185h1v3h-1zM624 185h1v3h-1zM628 185h1v3h-1zM632 185h1v3h-1zM636 185h1v3h-1zM640 185h1v3h-1zM644 184h1v3h-1zM648 184h1v3h-1zM652 184h1v3h-1zM656 184h1v3h-1zM660 184h1v3h-1zM664 184h1v3h-1zM668 183h1v3h-1zM672 183h1v3h-1zM676 183h1v3h-1zM680 183h1v3h-1zM684 183h1v3h-1zM688 183h1v3h-1zM692 182h1v3h-1zM696 182h1v3h-1zM700 182h1v3h-1zM704 182h1v3h-1zM708 182h1v3h-1zM712 182h1v3h-1zM716 181h1v3h-1zM720 181h1v3h-1zM724 181h1v3h-1zM728 181h1v3h-1zM732 181h1v3h-1zM736 181h1v3h-1zM740 180h1v3h-1zM744 180h1v3h-1zM748 180h1v3h-1zM752 180h1v3h-1zM756 180h1v3h-1zM760 180h1v3h-1zM764 179h1v3h-1zM768 179h1v3h-1zM772 179h1v3h-1zM776 179h1v3h-1zM780 179h1v3h-1zM784 179h1v3h-1zM788 178h1v3h-1zM792 178h1v3h-1zM796 178h1v3h-1zM800 178h1v3h-1zM804 178h1v3h-1zM808 178h1v3h-1zM812 177h1v3h-1zM816 177h1v3h-1zM820 177h1v3h-1zM824 177h1v3h-1zM828 177h1v3h-1zM832 177h1v3h-1zM836 176h1v3h-1zM840 176h1v3h-1zM844 176h1v3h-1zM848 176h1v3h-1zM852 176h1v3h-1zM856 176h1v3h-1zM860 175h1v3h-1zM864 175h1v3h-1zM868 175h1v3h-1zM872 175h1v3h-1zM876 175h1v3h-1zM880 175h1v3h-1zM884 174h1v3h-1zM888 174h1v3h-1zM892 174h1v3h-1zM896 174h1v3h-1zM900 174h1v3h-1zM904 174h1v3h-1zM908 173h1v3h-1zM912 173h1v3h-1zM916 173h1v3h-1zM920 173h1v3h-1zM924 173h1v3h-1zM928 173h1v3h-1zM108 125h1v3h-1zM112 125h1v3h-1zM116 125h1v3h-1zM120 124h1v3h-1zM124 124h1v3h-1zM128 124h1v3h-1zM132 124h1v3h-1zM136 124h1v3h-1zM140 124h1v3h-1zM144 123h1v3h-1zM148 123h1v3h-1zM152 123h1v3h-1zM156 123h1v3h-1zM160 123h1v3h-1zM164 123h1v3h-1zM168 122h1v3h-1zM172 122h1v3h-1zM176 122h1v3h-1zM180 122h1v3h-1zM184 122h1v3h-1zM188 122h1v3h-1zM192 121h1v3h-1zM196 121h1v3h-1zM200 121h1v3h-1zM204 121h1v3h-1zM208 121h1v3h-1zM212 121h1v3h-1zM216 121h1v3h-1zM220 120h1v3h-1zM224 120h1v3h-1zM228 120h1v3h-1zM232 120h1v3h-1zM236 120h1v3h-1zM240 120h1v3h-1zM244 119h1v3h-1zM248 119h1v3h-1zM252 119h1v3h-1zM256 119h1v3h-1zM260 119h1v3h-1zM264 119h1v3h-1zM268 118h1v3h-1zM272 118h1v3h-1zM276 118h1v3h-1zM280 118h1v3h-1zM284 118h1v3h-1zM288 118h1v3h-1zM292 117h1v3h-1zM296 117h1v3h-1zM300 117h1v3h-1zM304 117h1v3h-1zM308 117h1v3h-1zM312 117h1v3h-1zM316 116h1v3h-1zM320 116h1v3h-1zM324 116h1v3h-1zM328 116h1v3h-1zM332 116h1v3h-1zM336 116h1v3h-1zM340 115h1v3h-1zM344 115h1v3h-1zM348 115h1v3h-1zM352 115h1v3h-1zM356 115h1v3h-1zM360 115h1v3h-1zM364 114h1v3h-1zM368 114h1v3h-1zM372 114h1v3h-1zM376 114h1v3h-1zM380 114h1v3h-1zM384 114h1v3h-1zM388 113h1v3h-1zM392 113h1v3h-1zM396 113h1v3h-1zM400 113h1v3h-1zM404 113h1v3h-1zM408 113h1v3h-1zM412 112h1v3h-1zM416 112h1v3h-1zM420 112h1v3h-1zM424 112h1v3h-1zM428 112h1v3h-1zM432 112h1v3h-1zM436 111h1v3h-1zM440 111h1v3h-1zM444 111h1v3h-1zM448 111h1v3h-1zM452 111h1v3h-1zM456 111h1v3h-1zM460 110h1v3h-1zM464 110h1v3h-1zM468 110h1v3h-1zM472 110h1v3h-1zM476 110h1v3h-1zM480 110h1v3h-1zM484 109h1v3h-1zM488 109h1v3h-1zM492 109h1v3h-1zM496 109h1v3h-1zM500 109h1v3h-1zM504 109h1v3h-1zM508 108h1v3h-1zM512 108h1v3h-1zM516 108h1v3h-1zM520 108h1v3h-1zM524 108h1v3h-1zM528 108h1v3h-1zM532 107h1v3h-1zM536 107h1v3h-1zM540 107h1v3h-1zM544 107h1v3h-1zM548 107h1v3h-1zM552 107h1v3h-1zM556 106h1v3h-1zM560 106h1v3h-1zM564 106h1v3h-1zM568 106h1v3h-1zM572 106h1v3h-1zM576 106h1v3h-1zM580 105h1v3h-1zM584 105h1v3h-1zM588 105h1v3h-1zM592 105h1v3h-1zM596 105h1v3h-1zM600 105h1v3h-1zM604 104h1v3h-1zM608 104h1v3h-1zM612 104h1v3h-1zM616 104h1v3h-1zM620 104h1v3h-1zM624 104h1v3h-1zM628 103h1v3h-1zM632 103h1v3h-1zM636 103h1v3h-1zM640 103h1v3h-1zM644 103h1v3h-1zM648 103h1v3h-1zM652 102h1v3h-1zM656 102h1v3h-1zM660 102h1v3h-1zM664 102h1v3h-1zM668 102h1v3h-1zM672 102h1v3h-1zM676 102h1v3h-1zM680 101h1v3h-1zM684 101h1v3h-1zM688 101h1v3h-1zM692 101h1v3h-1zM696 101h1v3h-1zM700 101h1v3h-1zM704 100h1v3h-1zM708 100h1v3h-1zM712 100h1v3h-1zM716 100h1v3h-1zM720 100h1v3h-1zM724 100h1v3h-1zM728 99h1v3h-1zM732 99h1v3h-1zM736 99h1v3h-1zM740 99h1v3h-1zM744 99h1v3h-1zM748 99h1v3h-1zM752 98h1v3h-1zM756 98h1v3h-1zM760 98h1v3h-1zM764 98h1v3h-1zM768 98h1v3h-1zM772 98h1v3h-1zM776 97h1v3h-1zM780 97h1v3h-1zM784 97h1v3h-1zM788 97h1v3h-1zM792 97h1v3h-1zM796 97h1v3h-1zM800 96h1v3h-1zM804 96h1v3h-1zM808 96h1v3h-1zM812 96h1v3h-1zM816 96h1v3h-1zM820 96h1v3h-1zM824 95h1v3h-1zM828 95h1v3h-1zM832 95h1v3h-1zM836 95h1v3h-1zM840 95h1v3h-1zM844 95h1v3h-1zM848 94h1v3h-1zM852 94h1v3h-1zM856 94h1v3h-1zM860 94h1v3h-1zM864 94h1v3h-1zM868 94h1v3h-1zM872 93h1v3h-1zM876 93h1v3h-1zM880 93h1v3h-1zM884 93h1v3h-1zM888 93h1v3h-1zM892 93h1v3h-1zM896 92h1v3h-1zM900 92h1v3h-1zM904 92h1v3h-1zM908 92h1v3h-1zM912 92h1v3h-1zM916 92h1v3h-1zM920 91h1v3h-1zM924 91h1v3h-1zM928 91h1v3h-1zM108 43h1v3h-1zM112 43h1v3h-1zM116 43h1v3h-1zM120 43h1v3h-1zM124 42h1v3h-1zM128 42h1v3h-1zM132 42h1v3h-1zM136 42h1v3h-1zM140 42h1v3h-1zM144 42h1v3h-1zM148 41h1v3h-1zM152 41h1v3h-1zM156 41h1v3h-1zM160 41h1v3h-1zM164 41h1v3h-1zM168 41h1v3h-1zM172 40h1v3h-1zM176 40h1v3h-1zM180 40h1v3h-1zM184 40h1v3h-1zM188 40h1v3h-1zM192 40h1v3h-1zM196 39h1v3h-1zM200 39h1v3h-1zM204 39h1v3h-1zM208 39h1v3h-1zM212 39h1v3h-1zM216 39h1v3h-1zM220 38h1v3h-1zM224 38h1v3h-1zM228 38h1v3h-1zM232 38h1v3h-1zM236 38h1v3h-1zM240 38h1v3h-1zM244 37h1v3h-1zM248 37h1v3h-1zM252 37h1v3h-1zM256 37h1v3h-1zM260 37h1v3h-1zM264 37h1v3h-1zM268 36h1v3h-1zM272 36h1v3h-1zM276 36h1v3h-1zM280 36h1v3h-1zM284 36h1v3h-1zM288 36h1v3h-1zM292 36h1v3h-1zM296 35h1v3h-1zM300 35h1v3h-1zM304 35h1v3h-1zM308 35h1v3h-1zM312 35h1v3h-1zM316 35h1v3h-1zM320 34h1v3h-1zM324 34h1v3h-1zM328 34h1v3h-1zM332 34h1v3h-1zM336 34h1v3h-1zM340 34h1v3h-1zM344 33h1v3h-1zM348 33h1v3h-1zM352 33h1v3h-1zM356 33h1v3h-1zM360 33h1v3h-1zM364 33h1v3h-1zM368 32h1v3h-1zM372 32h1v3h-1zM376 32h1v3h-1zM380 32h1v3h-1zM384 32h1v3h-1zM388 32h1v3h-1zM392 31h1v3h-1zM396 31h1v3h-1zM400 31h1v3h-1zM404 31h1v3h-1zM408 31h1v3h-1zM412 31h1v3h-1zM416 30h1v3h-1zM420 30h1v3h-1zM424 30h1v3h-1zM428 30h1v3h-1zM432 30h1v3h-1zM436 30h1v3h-1zM440 29h1v3h-1zM444 29h1v3h-1zM448 29h1v3h-1zM452 29h1v3h-1zM456 29h1v3h-1zM460 29h1v3h-1zM464 28h1v3h-1zM468 28h1v3h-1zM472 28h1v3h-1zM476 28h1v3h-1zM480 28h1v3h-1zM484 28h1v3h-1zM488 28h1v3h-1zM492 27h1v3h-1zM496 27h1v3h-1zM500 27h1v3h-1zM504 27h1v3h-1zM508 27h1v3h-1zM512 27h1v3h-1zM516 26h1v3h-1zM520 26h1v3h-1zM524 26h1v3h-1zM528 26h1v3h-1zM532 26h1v3h-1zM536 26h1v3h-1zM540 25h1v3h-1zM544 25h1v3h-1zM548 25h1v3h-1zM552 25h1v3h-1zM556 25h1v3h-1zM560 25h1v3h-1zM564 24h1v3h-1zM568 24h1v3h-1zM572 24h1v3h-1zM576 24h1v3h-1zM580 24h1v3h-1zM584 24h1v3h-1zM588 23h1v3h-1zM592 23h1v3h-1zM596 23h1v3h-1zM600 23h1v3h-1zM604 23h1v3h-1zM608 23h1v3h-1zM612 22h1v3h-1zM616 22h1v3h-1zM620 22h1v3h-1zM624 22h1v3h-1zM628 22h1v3h-1zM632 22h1v3h-1zM636 21h1v3h-1zM640 21h1v3h-1zM644 21h1v3h-1zM648 21h1v3h-1zM652 21h1v3h-1zM656 21h1v3h-1zM660 21h1v3h-1zM664 20h1v3h-1zM668 20h1v3h-1zM672 20h1v3h-1zM676 20h1v3h-1zM680 20h1v3h-1zM684 20h1v3h-1zM688 19h1v3h-1zM692 19h1v3h-1zM696 19h1v3h-1zM700 19h1v3h-1zM704 19h1v3h-1zM708 19h1v3h-1zM712 18h1v3h-1zM716 18h1v3h-1zM720 18h1v3h-1zM724 18h1v3h-1zM728 18h1v3h-1zM732 18h1v3h-1zM736 17h1v3h-1zM740 17h1v3h-1zM744 17h1v3h-1zM748 17h1v3h-1zM752 17h1v3h-1zM756 17h1v3h-1zM760 16h1v3h-1zM764 16h1v3h-1zM768 16h1v3h-1zM772 16h1v3h-1zM776 16h1v3h-1zM780 16h1v3h-1zM784 15h1v3h-1zM788 15h1v3h-1zM792 15h1v3h-1zM796 15h1v3h-1zM800 15h1v3h-1zM804 15h1v3h-1zM808 14h1v3h-1zM812 14h1v3h-1zM816 14h1v3h-1zM820 14h1v3h-1zM824 14h1v3h-1zM828 14h1v3h-1zM832 14h1v3h-1zM836 13h1v3h-1zM840 13h1v3h-1zM844 13h1v3h-1zM848 13h1v3h-1zM852 13h1v3h-1zM856 13h1v3h-1zM860 12h1v3h-1zM864 12h1v3h-1zM868 12h1v3h-1zM872 12h1v3h-1zM876 12h1v3h-1zM880 12h1v3h-1zM884 11h1v3h-1zM888 11h1v3h-1zM892 11h1v3h-1zM896 11h1v3h-1zM900 11h1v3h-1zM904 11h1v3h-1zM908 10h1v3h-1zM912 10h1v3h-1zM916 10h1v3h-1zM920 10h1v3h-1zM924 10h1v3h-1zM928 10h1v3h-1zM931 417h1v3h-1zM935 420h1v3h-1zM939 423h1v3h-1zM943 425h1v3h-1zM947 428h1v3h-1zM951 431h1v3h-1zM955 434h1v3h-1zM959 437h1v3h-1zM963 439h1v3h-1zM967 442h1v3h-1zM971 445h1v3h-1zM975 448h1v3h-1zM979 451h1v3h-1zM983 453h1v3h-1zM987 456h1v3h-1zM991 459h1v3h-1zM995 462h1v3h-1zM999 465h1v3h-1zM1003 467h1v3h-1zM1007 470h1v3h-1zM1011 473h1v3h-1zM1015 476h1v3h-1zM1019 479h1v3h-1zM1023 481h1v3h-1zM1027 484h1v3h-1zM1031 487h1v3h-1zM1035 490h1v3h-1zM1039 493h1v3h-1zM1043 495h1v3h-1zM1047 498h1v3h-1zM1051 501h1v3h-1zM1055 504h1v3h-1zM1059 506h1v3h-1zM1063 509h1v3h-1zM1067 512h1v3h-1zM1071 515h1v3h-1zM1075 518h1v3h-1zM1079 520h1v3h-1zM1083 523h1v3h-1zM1087 526h1v3h-1zM1091 529h1v3h-1zM1095 532h1v3h-1zM1099 534h1v3h-1zM1103 537h1v3h-1zM1107 540h1v3h-1zM1111 543h1v3h-1zM1115 546h1v3h-1zM1119 548h1v3h-1zM1123 551h1v3h-1zM1127 554h1v3h-1zM1131 557h1v3h-1zM1135 560h1v3h-1zM931 336h1v3h-1zM935 338h1v3h-1zM939 341h1v3h-1zM943 344h1v3h-1zM947 347h1v3h-1zM951 349h1v3h-1zM955 352h1v3h-1zM959 355h1v3h-1zM963 358h1v3h-1zM967 361h1v3h-1zM971 363h1v3h-1zM975 366h1v3h-1zM979 369h1v3h-1zM983 372h1v3h-1zM987 374h1v3h-1zM991 377h1v3h-1zM995 380h1v3h-1zM999 383h1v3h-1zM1003 386h1v3h-1zM1007 388h1v3h-1zM1011 391h1v3h-1zM1015 394h1v3h-1zM1019 397h1v3h-1zM1023 400h1v3h-1zM1027 402h1v3h-1zM1031 405h1v3h-1zM1035 408h1v3h-1zM1039 411h1v3h-1zM1043 413h1v3h-1zM1047 416h1v3h-1zM1051 419h1v3h-1zM1055 422h1v3h-1zM1059 425h1v3h-1zM1063 427h1v3h-1zM1067 430h1v3h-1zM1071 433h1v3h-1zM1075 436h1v3h-1zM1079 438h1v3h-1zM1083 441h1v3h-1zM1087 444h1v3h-1zM1091 447h1v3h-1zM1095 450h1v3h-1zM1099 452h1v3h-1zM1103 455h1v3h-1zM1107 458h1v3h-1zM1111 461h1v3h-1zM1115 464h1v3h-1zM1119 466h1v3h-1zM1123 469h1v3h-1zM1127 472h1v3h-1zM1131 475h1v3h-1zM1135 477h1v3h-1zM930 254h1v3h-1zM934 257h1v3h-1zM938 260h1v3h-1zM942 262h1v3h-1zM946 265h1v3h-1zM950 268h1v3h-1zM954 271h1v3h-1zM958 273h1v3h-1zM962 276h1v3h-1zM966 279h1v3h-1zM970 282h1v3h-1zM974 284h1v3h-1zM978 287h1v3h-1zM982 290h1v3h-1zM986 293h1v3h-1zM990 296h1v3h-1zM994 298h1v3h-1zM998 301h1v3h-1zM1002 304h1v3h-1zM1006 307h1v3h-1zM1010 309h1v3h-1zM1014 312h1v3h-1zM1018 315h1v3h-1zM1022 318h1v3h-1zM1026 320h1v3h-1zM1030 323h1v3h-1zM1034 326h1v3h-1zM1038 329h1v3h-1zM1042 332h1v3h-1zM1046 334h1v3h-1zM1050 337h1v3h-1zM1054 340h1v3h-1zM1058 343h1v3h-1zM1062 345h1v3h-1zM1066 348h1v3h-1zM1070 351h1v3h-1zM1074 354h1v3h-1zM1078 357h1v3h-1zM1082 359h1v3h-1zM1086 362h1v3h-1zM1090 365h1v3h-1zM1094 368h1v3h-1zM1098 370h1v3h-1zM1102 373h1v3h-1zM1106 376h1v3h-1zM1110 379h1v3h-1zM1114 381h1v3h-1zM1118 384h1v3h-1zM1122 387h1v3h-1zM1126 390h1v3h-1zM1130 393h1v3h-1zM1134 395h1v3h-1zM930 173h1v3h-1zM934 175h1v3h-1zM938 178h1v3h-1zM942 181h1v3h-1zM946 184h1v3h-1zM950 186h1v3h-1zM954 189h1v3h-1zM958 192h1v3h-1zM962 195h1v3h-1zM966 197h1v3h-1zM970 200h1v3h-1zM974 203h1v3h-1zM978 206h1v3h-1zM982 208h1v3h-1zM986 211h1v3h-1zM990 214h1v3h-1zM994 217h1v3h-1zM998 219h1v3h-1zM1002 222h1v3h-1zM1006 225h1v3h-1zM1010 228h1v3h-1zM1014 230h1v3h-1zM1018 233h1v3h-1zM1022 236h1v3h-1zM1026 239h1v3h-1zM1030 241h1v3h-1zM1034 244h1v3h-1zM1038 247h1v3h-1zM1042 250h1v3h-1zM1046 252h1v3h-1zM1050 255h1v3h-1zM1054 258h1v3h-1zM1058 261h1v3h-1zM1062 264h1v3h-1zM1066 266h1v3h-1zM1070 269h1v3h-1zM1074 272h1v3h-1zM1078 275h1v3h-1zM1082 277h1v3h-1zM1086 280h1v3h-1zM1090 283h1v3h-1zM1094 286h1v3h-1zM1098 288h1v3h-1zM1102 291h1v3h-1zM1106 294h1v3h-1zM1110 297h1v3h-1zM1114 299h1v3h-1zM1118 302h1v3h-1zM1122 305h1v3h-1zM1126 308h1v3h-1zM1130 310h1v3h-1zM1134 313h1v3h-1zM930 91h1v3h-1zM934 94h1v3h-1zM938 96h1v3h-1zM942 99h1v3h-1zM946 102h1v3h-1zM950 105h1v3h-1zM954 107h1v3h-1zM958 110h1v3h-1zM962 113h1v3h-1zM966 116h1v3h-1zM970 118h1v3h-1zM974 121h1v3h-1zM978 124h1v3h-1zM982 127h1v3h-1zM986 129h1v3h-1zM990 132h1v3h-1zM994 135h1v3h-1zM998 138h1v3h-1zM1002 140h1v3h-1zM1006 143h1v3h-1zM1010 146h1v3h-1zM1014 149h1v3h-1zM1018 151h1v3h-1zM1022 154h1v3h-1zM1026 157h1v3h-1zM1030 160h1v3h-1zM1034 162h1v3h-1zM1038 165h1v3h-1zM1042 168h1v3h-1zM1046 171h1v3h-1zM1050 173h1v3h-1zM1054 176h1v3h-1zM1058 179h1v3h-1zM1062 182h1v3h-1zM1066 184h1v3h-1zM1070 187h1v3h-1zM1074 190h1v3h-1zM1078 193h1v3h-1zM1082 195h1v3h-1zM1086 198h1v3h-1zM1090 201h1v3h-1zM1094 204h1v3h-1zM1098 206h1v3h-1zM1102 209h1v3h-1zM1106 212h1v3h-1zM1110 215h1v3h-1zM1114 217h1v3h-1zM1118 220h1v3h-1zM1122 223h1v3h-1zM1126 226h1v3h-1zM1130 228h1v3h-1zM1134 231h1v3h-1zM930 10h1v3h-1zM934 12h1v3h-1zM938 15h1v3h-1zM942 18h1v3h-1zM946 20h1v3h-1zM950 23h1v3h-1zM954 26h1v3h-1zM958 29h1v3h-1zM962 31h1v3h-1zM966 34h1v3h-1zM970 37h1v3h-1zM974 40h1v3h-1zM978 42h1v3h-1zM982 45h1v3h-1zM986 48h1v3h-1zM990 50h1v3h-1zM994 53h1v3h-1zM998 56h1v3h-1zM1002 59h1v3h-1zM1006 61h1v3h-1zM1010 64h1v3h-1zM1014 67h1v3h-1zM1018 70h1v3h-1zM1022 72h1v3h-1zM1026 75h1v3h-1zM1030 78h1v3h-1zM1034 81h1v3h-1zM1038 83h1v3h-1zM1042 86h1v3h-1zM1046 89h1v3h-1zM1050 91h1v3h-1zM1054 94h1v3h-1zM1058 97h1v3h-1zM1062 100h1v3h-1zM1066 102h1v3h-1zM1070 105h1v3h-1zM1074 108h1v3h-1zM1078 111h1v3h-1zM1082 113h1v3h-1zM1086 116h1v3h-1zM1090 119h1v3h-1zM1094 122h1v3h-1zM1098 124h1v3h-1zM1102 127h1v3h-1zM1106 130h1v3h-1zM1110 132h1v3h-1zM1114 135h1v3h-1zM1118 138h1v3h-1zM1122 141h1v3h-1zM1126 143h1v3h-1zM1130 146h1v3h-1zM1134 149h1v3h-1z"/>
</g>
<polyline points="274.21,494.51 505.92,503.62 737.82,512.73 957.02,512.80" fill="none" stroke="#0000ff" stroke-width="4.6" stroke-dasharray="10.5 5.5"/>
<polyline points="363.49,557.77 569.93,548.80 802.07,557.90 1021.49,557.96" fill="none" stroke="#0000ff" stroke-width="4.6" stroke-dasharray="10.5 5.5"/>
<clipPath id="ctop0"><rect x="0" y="125.90" width="2150" height="700"/></clipPath>
<path clip-path="url(#ctop0)" d="M209.20 365.90 C211.07 365.80 216.50 365.92 220.40 365.30 C224.30 364.68 228.53 363.55 232.60 362.20 C236.67 360.85 240.73 359.40 244.80 357.20 C248.87 355.00 253.27 352.23 257.00 349.00 C260.73 345.77 263.80 342.38 267.20 337.80 C270.60 333.22 274.33 327.27 277.40 321.50 C280.47 315.73 283.05 310.00 285.60 303.20 C288.15 296.40 290.50 287.83 292.70 280.70 C294.90 273.57 296.50 269.85 298.80 260.40 C301.10 250.95 304.20 234.48 306.50 224.00 C308.80 213.52 310.75 206.33 312.60 197.50 C314.45 188.67 316.08 178.80 317.60 171.00 C319.12 163.20 320.50 156.80 321.70 150.70 C322.90 144.60 323.72 138.43 324.80 134.40 C325.88 130.37 327.18 127.92 328.20 126.50 C329.22 125.08 330.45 126.00 330.90 125.90 L330.90 309.00 C332.23 315.08 336.42 335.33 338.90 345.50 C341.38 355.67 343.38 361.97 345.80 370.00 C348.22 378.03 350.17 384.73 353.40 393.70 C356.63 402.67 361.02 413.77 365.20 423.80 C369.38 433.83 373.48 443.87 378.50 453.90 C383.52 463.93 389.17 474.25 395.30 484.00 C401.43 493.75 411.97 507.67 415.30 512.40" fill="none" stroke="#00bfff" stroke-width="8.3" stroke-linejoin="miter" stroke-miterlimit="30"/>
<clipPath id="ctop1"><rect x="0" y="180.60" width="2150" height="700"/></clipPath>
<path clip-path="url(#ctop1)" d="M415.40 368.80 C416.82 369.12 420.58 370.28 423.90 370.70 C427.22 371.12 431.52 371.35 435.30 371.30 C439.08 371.25 442.82 370.97 446.60 370.40 C450.38 369.83 454.20 369.10 458.00 367.90 C461.80 366.70 465.62 365.10 469.40 363.20 C473.18 361.30 476.92 359.18 480.70 356.50 C484.48 353.82 488.63 350.57 492.10 347.10 C495.57 343.63 498.67 339.80 501.50 335.70 C504.33 331.60 506.93 327.20 509.10 322.50 C511.27 317.80 512.62 313.75 514.50 307.50 C516.38 301.25 518.07 295.70 520.40 285.00 C522.73 274.30 525.97 255.00 528.50 243.30 C531.03 231.60 533.57 223.28 535.60 214.80 C537.63 206.32 539.52 197.70 540.70 192.40 C541.88 187.10 542.10 184.97 542.70 183.00 C543.30 181.03 544.03 181.00 544.30 180.60 L544.30 378.60 C545.02 380.93 546.32 387.15 548.60 392.60 C550.88 398.05 554.68 405.07 558.00 411.30 C561.32 417.53 564.82 423.40 568.50 430.00 C572.18 436.60 576.03 444.30 580.10 450.90 C584.17 457.50 588.43 463.00 592.90 469.60 C597.37 476.20 602.43 483.90 606.90 490.50 C611.37 497.10 617.57 506.08 619.70 509.20" fill="none" stroke="#00bfff" stroke-width="8.3" stroke-linejoin="miter" stroke-miterlimit="30"/>
<clipPath id="ctop2"><rect x="0" y="247.00" width="2150" height="700"/></clipPath>
<path clip-path="url(#ctop2)" d="M623.20 368.10 C624.93 368.57 629.53 369.82 633.60 370.90 C637.67 371.98 642.93 373.70 647.60 374.60 C652.27 375.50 656.93 376.02 661.60 376.30 C666.27 376.58 670.95 376.82 675.60 376.30 C680.25 375.78 684.85 374.75 689.50 373.20 C694.15 371.65 699.22 369.60 703.50 367.00 C707.78 364.40 711.32 361.30 715.20 357.60 C719.08 353.90 723.32 349.65 726.80 344.80 C730.28 339.95 733.18 334.70 736.10 328.50 C739.02 322.30 741.97 314.58 744.30 307.60 C746.63 300.62 748.43 293.60 750.10 286.60 C751.77 279.60 753.13 271.82 754.30 265.60 C755.47 259.38 756.10 252.40 757.10 249.30 C758.10 246.20 759.77 247.38 760.30 247.00 L760.30 420.40 C762.00 423.12 767.10 431.62 770.50 436.70 C773.90 441.78 776.95 445.82 780.70 450.90 C784.45 455.98 788.92 462.10 793.00 467.20 C797.08 472.30 801.13 476.75 805.20 481.50 C809.27 486.25 813.50 490.62 817.40 495.70 C821.30 500.78 826.73 509.28 828.60 512.00" fill="none" stroke="#00bfff" stroke-width="8.3" stroke-linejoin="miter" stroke-miterlimit="30"/>
<clipPath id="ctop3"><rect x="0" y="297.70" width="2150" height="700"/></clipPath>
<path clip-path="url(#ctop3)" d="M828.80 367.60 C830.80 368.27 836.40 370.27 840.80 371.60 C845.20 372.93 850.67 374.27 855.20 375.60 C859.73 376.93 863.20 378.53 868.00 379.60 C872.80 380.67 879.20 381.60 884.00 382.00 C888.80 382.40 892.53 382.27 896.80 382.00 C901.07 381.73 905.33 381.33 909.60 380.40 C913.87 379.47 918.12 378.27 922.40 376.40 C926.68 374.53 931.28 372.13 935.30 369.20 C939.32 366.27 943.30 362.40 946.50 358.80 C949.70 355.20 952.10 351.60 954.50 347.60 C956.90 343.60 958.77 339.33 960.90 334.80 C963.03 330.27 965.43 326.12 967.30 320.40 C969.17 314.68 970.57 304.28 972.10 300.50 C973.63 296.72 975.77 298.17 976.50 297.70 L976.50 444.00 C977.42 445.60 978.95 449.60 982.00 453.60 C985.05 457.60 990.00 462.67 994.80 468.00 C999.60 473.33 1006.00 480.53 1010.80 485.60 C1015.60 490.67 1019.33 494.13 1023.60 498.40 C1027.87 502.67 1034.27 509.07 1036.40 511.20" fill="none" stroke="#00bfff" stroke-width="8.3" stroke-linejoin="miter" stroke-miterlimit="30"/>
<polygon points="210.44,449.32 210.44,367.30 209.78,367.28 210.43,367.26 211.21,367.25 212.09,367.24 213.05,367.22 214.08,367.19 215.15,367.16 216.25,367.11 217.37,367.04 218.48,366.95 219.57,366.83 220.61,366.68 221.63,366.51 222.64,366.32 223.67,366.11 224.70,365.89 225.74,365.64 226.79,365.38 227.83,365.10 228.88,364.81 229.92,364.51 230.97,364.19 232.01,363.87 233.04,363.53 234.06,363.19 235.09,362.84 236.12,362.48 237.15,362.11 238.18,361.72 239.22,361.32 240.25,360.90 241.29,360.46 242.33,359.99 243.38,359.50 244.42,358.98 245.46,358.43 246.50,357.86 247.55,357.27 248.61,356.65 249.67,356.01 250.74,355.34 251.80,354.66 252.85,353.95 253.90,353.21 254.93,352.46 255.95,351.68 256.94,350.88 257.91,350.06 258.86,349.23 259.77,348.39 260.67,347.53 261.55,346.66 262.41,345.77 263.26,344.85 264.10,343.90 264.94,342.92 265.78,341.91 266.62,340.86 267.47,339.77 268.32,338.63 269.19,337.44 270.07,336.20 270.96,334.92 271.84,333.59 272.73,332.23 273.61,330.84 274.49,329.42 275.35,327.99 276.20,326.54 277.04,325.08 277.85,323.62 278.64,322.16 279.40,320.70 280.15,319.24 280.87,317.78 281.59,316.31 282.28,314.82 282.97,313.31 283.65,311.78 284.31,310.23 284.97,308.65 285.62,307.03 286.27,305.38 286.91,303.69 287.55,301.93 288.18,300.12 288.81,298.26 289.42,296.35 290.02,294.43 290.62,292.48 291.21,290.53 291.79,288.59 292.36,286.67 292.93,284.77 293.49,282.92 294.04,281.11 294.57,279.41 295.09,277.81 295.59,276.29 296.08,274.81 296.56,273.34 297.05,271.85 297.53,270.30 298.03,268.68 298.53,266.94 299.05,265.05 299.60,263.00 300.16,260.73 300.76,258.21 301.38,255.45 302.02,252.49 302.68,249.38 303.35,246.16 304.02,242.87 304.70,239.56 305.36,236.28 306.02,233.06 306.66,229.97 307.28,227.03 307.87,224.30 308.43,221.75 308.99,219.32 309.53,217.00 310.05,214.76 310.57,212.58 311.08,210.46 311.58,208.36 312.07,206.29 312.55,204.21 313.03,202.11 313.50,199.97 313.97,197.79 314.43,195.55 314.88,193.28 315.32,190.99 315.76,188.69 316.18,186.40 316.60,184.11 317.01,181.85 317.42,179.62 317.82,177.44 318.21,175.31 318.59,173.25 318.97,171.27 319.35,169.35 319.72,167.49 320.08,165.67 320.44,163.90 320.79,162.18 321.14,160.49 321.48,158.84 321.81,157.22 322.14,155.63 322.46,154.06 322.77,152.51 323.07,150.97 323.37,149.43 323.65,147.90 323.92,146.39 324.18,144.90 324.43,143.44 324.67,142.02 324.92,140.64 325.16,139.32 325.40,138.07 325.65,136.88 325.90,135.78 326.15,134.76 326.42,133.82 326.69,132.94 326.97,132.13 327.24,131.38 327.52,130.68 327.80,130.05 328.07,129.47 328.34,128.94 328.61,128.46 328.86,128.03 329.11,127.65 329.32,127.35 329.46,127.18 329.52,127.12 329.55,127.10 329.57,127.10 329.60,127.10 329.66,127.10 329.77,127.12 329.91,127.15 330.10,127.20 330.34,127.25 330.68,127.30 326.80,129.90 326.80,309.00 327.28,311.66 327.77,313.96 328.35,316.69 329.00,319.76 329.71,323.08 330.46,326.58 331.23,330.16 332.01,333.75 332.79,337.25 333.54,340.60 334.25,343.70 334.92,346.47 335.54,348.97 336.14,351.32 336.73,353.55 337.30,355.67 337.87,357.71 338.44,359.69 339.00,361.61 339.56,363.51 340.13,365.39 340.70,367.29 341.28,369.21 341.87,371.18 342.47,373.16 343.05,375.10 343.63,377.02 344.20,378.92 344.79,380.82 345.38,382.73 346.00,384.66 346.63,386.63 347.30,388.65 348.00,390.72 348.75,392.87 349.54,395.09 350.38,397.40 351.27,399.78 352.19,402.23 353.14,404.73 354.12,407.27 355.13,409.85 356.15,412.45 357.19,415.06 358.25,417.66 359.30,420.26 360.36,422.84 361.41,425.37 362.46,427.88 363.51,430.40 364.56,432.91 365.62,435.43 366.69,437.95 367.78,440.48 368.88,443.01 370.01,445.55 371.17,448.09 372.36,450.64 373.58,453.18 374.83,455.73 376.11,458.27 377.42,460.82 378.75,463.37 380.11,465.93 381.49,468.49 382.90,471.05 384.33,473.60 385.78,476.14 387.26,478.68 388.76,481.20 390.28,483.70 391.84,486.19 393.49,488.76 395.28,491.45 397.17,494.22 399.12,497.00 401.08,499.77 403.02,502.48 404.91,505.08 406.68,507.52 408.32,509.76 409.77,511.74 411.00,513.43 414.51,514.78 414.51,593.91" fill="rgb(128,204,242)" fill-opacity="0.5"/>
<polygon points="416.31,440.38 416.31,370.16 415.46,370.25 415.94,370.38 416.50,370.53 417.14,370.69 417.84,370.88 418.60,371.07 419.40,371.27 420.23,371.46 421.09,371.64 421.97,371.81 422.85,371.96 423.72,372.09 424.59,372.19 425.50,372.29 426.43,372.37 427.38,372.45 428.36,372.52 429.35,372.57 430.35,372.62 431.35,372.66 432.36,372.69 433.36,372.70 434.35,372.71 435.32,372.70 436.28,372.68 437.24,372.65 438.19,372.62 439.15,372.57 440.10,372.51 441.06,372.44 442.02,372.36 442.97,372.27 443.93,372.16 444.89,372.05 445.85,371.92 446.81,371.78 447.76,371.64 448.72,371.48 449.69,371.32 450.65,371.14 451.62,370.96 452.58,370.76 453.55,370.54 454.53,370.32 455.50,370.07 456.47,369.81 457.45,369.53 458.42,369.24 459.39,368.92 460.36,368.59 461.33,368.24 462.30,367.88 463.27,367.50 464.24,367.11 465.21,366.70 466.18,366.28 467.14,365.84 468.11,365.39 469.07,364.93 470.03,364.45 470.98,363.97 471.94,363.47 472.89,362.96 473.85,362.44 474.80,361.90 475.76,361.35 476.71,360.78 477.67,360.20 478.63,359.59 479.59,358.96 480.55,358.31 481.51,357.64 482.47,356.95 483.45,356.24 484.43,355.50 485.42,354.75 486.41,353.97 487.40,353.18 488.39,352.37 489.36,351.54 490.32,350.70 491.26,349.84 492.19,348.97 493.09,348.09 493.97,347.20 494.83,346.29 495.67,345.37 496.50,344.44 497.32,343.49 498.12,342.53 498.91,341.55 499.68,340.56 500.44,339.56 501.19,338.55 501.93,337.53 502.65,336.50 503.36,335.45 504.07,334.39 504.76,333.32 505.44,332.24 506.11,331.14 506.76,330.03 507.40,328.90 508.03,327.77 508.64,326.62 509.23,325.45 509.81,324.28 510.37,323.09 510.91,321.90 511.41,320.74 511.89,319.58 512.35,318.42 512.79,317.24 513.23,316.05 513.65,314.82 514.07,313.56 514.50,312.25 514.93,310.87 515.38,309.43 515.84,307.91 516.31,306.35 516.77,304.81 517.23,303.25 517.69,301.65 518.16,300.00 518.63,298.28 519.12,296.47 519.61,294.54 520.12,292.48 520.65,290.27 521.20,287.88 521.77,285.30 522.37,282.44 523.01,279.28 523.67,275.88 524.35,272.29 525.05,268.57 525.75,264.78 526.46,260.97 527.17,257.19 527.87,253.51 528.56,249.98 529.22,246.66 529.87,243.60 530.50,240.75 531.13,238.04 531.75,235.44 532.37,232.94 532.99,230.53 533.59,228.20 534.19,225.93 534.77,223.72 535.34,221.54 535.90,219.39 536.44,217.26 536.96,215.13 537.47,213.00 537.96,210.88 538.45,208.78 538.93,206.71 539.39,204.69 539.83,202.71 540.26,200.81 540.67,198.98 541.06,197.25 541.42,195.61 541.76,194.10 542.07,192.70 542.35,191.43 542.59,190.29 542.80,189.25 542.98,188.31 543.15,187.47 543.29,186.72 543.43,186.03 543.55,185.42 543.67,184.86 543.79,184.34 543.91,183.86 544.04,183.42 544.17,183.03 544.28,182.74 544.39,182.52 544.49,182.36 544.57,182.25 544.64,182.18 544.71,182.11 544.79,182.05 544.89,181.96 545.04,181.84 545.24,181.65 540.20,184.60 540.20,378.60 540.54,380.36 540.75,381.12 540.99,382.04 541.26,383.09 541.57,384.26 541.91,385.53 542.29,386.87 542.71,388.27 543.17,389.72 543.67,391.20 544.22,392.69 544.81,394.17 545.45,395.65 546.14,397.17 546.87,398.72 547.64,400.30 548.44,401.90 549.26,403.53 550.11,405.16 550.97,406.80 551.83,408.43 552.69,410.05 553.54,411.65 554.38,413.23 555.23,414.80 556.08,416.37 556.94,417.92 557.80,419.46 558.67,421.00 559.55,422.54 560.43,424.09 561.32,425.64 562.21,427.20 563.11,428.78 564.01,430.38 564.92,431.99 565.83,433.64 566.75,435.34 567.68,437.06 568.63,438.82 569.58,440.60 570.55,442.40 571.53,444.20 572.52,446.00 573.52,447.80 574.54,449.57 575.57,451.33 576.61,453.05 577.66,454.73 578.72,456.37 579.79,457.97 580.85,459.54 581.92,461.08 583.00,462.61 584.08,464.13 585.15,465.66 586.24,467.18 587.32,468.73 588.41,470.30 589.51,471.90 590.63,473.56 591.77,475.27 592.94,477.00 594.11,478.76 595.30,480.54 596.49,482.32 597.68,484.11 598.87,485.89 600.05,487.66 601.22,489.40 602.37,491.12 603.50,492.80 604.66,494.50 605.86,496.27 607.10,498.08 608.35,499.90 609.58,501.71 610.79,503.48 611.96,505.17 613.05,506.76 614.05,508.21 614.94,509.51 615.70,510.62 621.14,511.52 621.14,584.94" fill="rgb(128,204,242)" fill-opacity="0.5"/>
<polygon points="622.19,431.43 622.19,369.45 623.33,369.58 623.92,369.75 624.62,369.93 625.40,370.14 626.25,370.37 627.16,370.62 628.12,370.88 629.12,371.15 630.14,371.42 631.18,371.70 632.21,371.98 633.24,372.25 634.27,372.53 635.34,372.83 636.46,373.15 637.61,373.49 638.79,373.83 640.00,374.17 641.22,374.51 642.44,374.84 643.68,375.15 644.91,375.45 646.13,375.73 647.33,375.97 648.52,376.20 649.70,376.40 650.89,376.59 652.07,376.76 653.25,376.92 654.43,377.07 655.62,377.21 656.80,377.33 657.98,377.44 659.16,377.53 660.34,377.62 661.51,377.70 662.69,377.77 663.86,377.83 665.04,377.89 666.22,377.94 667.40,377.98 668.59,378.00 669.78,378.01 670.97,377.99 672.16,377.96 673.36,377.90 674.56,377.81 675.75,377.69 676.94,377.55 678.13,377.38 679.31,377.20 680.49,376.99 681.67,376.76 682.86,376.50 684.04,376.23 685.22,375.93 686.40,375.61 687.58,375.27 688.76,374.91 689.94,374.53 691.13,374.12 692.33,373.70 693.54,373.25 694.76,372.78 695.98,372.29 697.19,371.78 698.40,371.24 699.61,370.68 700.79,370.10 701.96,369.49 703.11,368.85 704.23,368.20 705.31,367.52 706.37,366.81 707.41,366.09 708.42,365.35 709.41,364.58 710.39,363.80 711.36,362.99 712.32,362.16 713.27,361.30 714.23,360.43 715.19,359.53 716.17,358.61 717.15,357.67 718.15,356.70 719.15,355.71 720.16,354.69 721.17,353.65 722.18,352.58 723.18,351.49 724.17,350.37 725.14,349.22 726.10,348.05 727.03,346.85 727.94,345.62 728.81,344.37 729.66,343.11 730.49,341.83 731.31,340.53 732.10,339.20 732.88,337.85 733.65,336.47 734.40,335.06 735.15,333.62 735.89,332.15 736.63,330.64 737.37,329.09 738.10,327.50 738.84,325.85 739.57,324.15 740.30,322.41 741.02,320.64 741.72,318.85 742.42,317.05 743.10,315.23 743.76,313.42 744.41,311.61 745.03,309.81 745.63,308.04 746.21,306.28 746.76,304.52 747.30,302.76 747.82,301.00 748.32,299.23 748.80,297.47 749.27,295.71 749.73,293.95 750.18,292.19 750.61,290.44 751.04,288.68 751.46,286.92 751.88,285.15 752.28,283.34 752.67,281.53 753.04,279.71 753.41,277.88 753.76,276.07 754.11,274.28 754.44,272.51 754.76,270.78 755.08,269.08 755.38,267.44 755.68,265.85 755.96,264.27 756.23,262.67 756.47,261.08 756.71,259.50 756.93,257.97 757.15,256.49 757.36,255.08 757.57,253.75 757.78,252.53 758.00,251.44 758.21,250.50 758.43,249.74 758.64,249.18 758.83,248.83 758.98,248.63 759.08,248.54 759.14,248.51 759.20,248.49 759.30,248.48 759.46,248.48 759.69,248.48 760.01,248.49 760.48,248.42 756.20,251.00 756.20,420.40 757.30,423.35 757.92,424.34 758.64,425.52 759.45,426.85 760.33,428.29 761.27,429.82 762.25,431.39 763.25,432.99 764.25,434.58 765.23,436.13 766.18,437.61 767.09,438.98 767.95,440.26 768.80,441.49 769.64,442.70 770.48,443.89 771.32,445.05 772.15,446.21 772.99,447.36 773.84,448.52 774.70,449.69 775.58,450.87 776.48,452.09 777.40,453.33 778.35,454.62 779.33,455.95 780.33,457.31 781.35,458.69 782.39,460.09 783.44,461.50 784.50,462.91 785.57,464.32 786.63,465.71 787.69,467.09 788.75,468.44 789.80,469.76 790.84,471.05 791.88,472.32 792.92,473.56 793.95,474.78 794.98,475.98 796.01,477.17 797.03,478.34 798.05,479.51 799.06,480.67 800.07,481.83 801.08,483.00 802.09,484.18 803.13,485.37 804.17,486.56 805.21,487.73 806.24,488.89 807.27,490.04 808.29,491.19 809.30,492.34 810.30,493.49 811.28,494.64 812.25,495.81 813.21,496.99 814.14,498.19 815.10,499.47 816.12,500.87 817.17,502.36 818.24,503.90 819.31,505.47 820.36,507.02 821.37,508.53 822.32,509.96 823.19,511.29 823.98,512.47 824.66,513.49 827.76,514.30 827.76,575.96" fill="rgb(128,204,242)" fill-opacity="0.5"/>
<polygon points="828.06,422.48 828.06,368.93 828.92,369.12 829.62,369.36 830.44,369.64 831.37,369.96 832.37,370.31 833.45,370.68 834.57,371.06 835.74,371.45 836.91,371.84 838.09,372.22 839.26,372.59 840.39,372.94 841.53,373.28 842.70,373.61 843.89,373.95 845.11,374.28 846.35,374.62 847.59,374.95 848.83,375.29 850.06,375.62 851.29,375.95 852.49,376.28 853.66,376.61 854.80,376.94 855.89,377.27 856.95,377.62 857.99,377.96 859.01,378.32 860.02,378.67 861.05,379.02 862.08,379.37 863.13,379.72 864.21,380.05 865.33,380.38 866.49,380.68 867.69,380.97 868.95,381.23 870.25,381.50 871.60,381.75 872.98,381.99 874.38,382.22 875.79,382.43 877.21,382.64 878.61,382.83 879.98,383.00 881.33,383.15 882.63,383.28 883.88,383.40 885.08,383.49 886.25,383.56 887.37,383.61 888.47,383.64 889.55,383.65 890.61,383.65 891.66,383.63 892.70,383.61 893.73,383.57 894.77,383.52 895.82,383.46 896.89,383.40 897.96,383.33 899.04,383.25 900.12,383.16 901.20,383.07 902.28,382.96 903.36,382.84 904.45,382.71 905.54,382.56 906.62,382.39 907.71,382.20 908.81,382.00 909.90,381.77 910.98,381.53 912.06,381.27 913.15,381.00 914.23,380.71 915.32,380.41 916.40,380.09 917.49,379.75 918.58,379.38 919.67,379.00 920.77,378.59 921.86,378.15 922.96,377.68 924.05,377.20 925.16,376.69 926.27,376.16 927.39,375.60 928.51,375.03 929.62,374.43 930.74,373.80 931.84,373.16 932.94,372.49 934.02,371.79 935.08,371.07 936.13,370.33 937.16,369.56 938.18,368.75 939.20,367.92 940.20,367.05 941.19,366.17 942.16,365.27 943.12,364.36 944.06,363.43 944.97,362.51 945.86,361.58 946.72,360.65 947.55,359.73 948.35,358.81 949.12,357.89 949.86,356.96 950.58,356.03 951.27,355.10 951.95,354.16 952.60,353.21 953.24,352.25 953.87,351.29 954.48,350.31 955.09,349.32 955.70,348.32 956.30,347.29 956.89,346.25 957.45,345.20 958.00,344.15 958.53,343.08 959.06,342.01 959.58,340.93 960.09,339.84 960.61,338.74 961.12,337.64 961.64,336.52 962.17,335.40 962.70,334.28 963.24,333.17 963.79,332.06 964.35,330.94 964.91,329.80 965.47,328.64 966.02,327.45 966.57,326.23 967.11,324.96 967.63,323.64 968.14,322.27 968.63,320.83 969.11,319.26 969.56,317.54 969.99,315.72 970.40,313.83 970.80,311.92 971.20,310.01 971.58,308.14 971.96,306.37 972.33,304.72 972.69,303.25 973.05,302.00 973.40,301.02 973.73,300.33 974.03,299.85 974.30,299.54 974.52,299.37 974.71,299.28 974.90,299.22 975.11,299.20 975.37,299.19 975.69,299.20 976.08,299.21 976.60,299.15 972.40,301.70 972.40,444.00 973.10,446.34 973.34,446.80 973.63,447.40 973.97,448.11 974.36,448.91 974.81,449.79 975.31,450.73 975.87,451.73 976.48,452.78 977.17,453.86 977.92,454.96 978.73,456.08 979.60,457.19 980.53,458.32 981.51,459.47 982.54,460.64 983.61,461.84 984.71,463.06 985.85,464.30 987.01,465.56 988.19,466.84 989.38,468.13 990.57,469.43 991.76,470.75 992.98,472.11 994.27,473.54 995.60,475.03 996.97,476.55 998.36,478.09 999.76,479.65 1001.16,481.20 1002.56,482.73 1003.93,484.24 1005.27,485.69 1006.57,487.09 1007.82,488.42 1009.02,489.68 1010.18,490.87 1011.31,492.02 1012.40,493.12 1013.47,494.19 1014.52,495.22 1015.56,496.24 1016.58,497.24 1017.61,498.24 1018.63,499.24 1019.66,500.26 1020.70,501.30 1021.81,502.41 1022.98,503.58 1024.20,504.80 1025.44,506.04 1026.68,507.28 1027.90,508.50 1029.07,509.67 1030.18,510.78 1031.20,511.80 1032.11,512.71 1032.88,513.48 1034.39,514.10 1034.39,566.99" fill="rgb(128,204,242)" fill-opacity="0.5"/>
<circle cx="209.2" cy="354.1" r="6.2" fill="#b22222"/>
<circle cx="221.4" cy="368.0" r="6.2" fill="#b22222"/>
<circle cx="235.0" cy="354.7" r="6.2" fill="#b22222"/>
<circle cx="248.3" cy="344.3" r="6.2" fill="#b22222"/>
<circle cx="259.7" cy="344.9" r="6.2" fill="#b22222"/>
<circle cx="272.9" cy="312.9" r="6.2" fill="#b22222"/>
<circle cx="286.2" cy="322.5" r="6.2" fill="#b22222"/>
<circle cx="298.8" cy="250.2" r="6.2" fill="#b22222"/>
<circle cx="312.6" cy="217.4" r="6.2" fill="#b22222"/>
<circle cx="323.8" cy="160.9" r="6.2" fill="#b22222"/>
<circle cx="336.7" cy="345.2" r="6.2" fill="#b22222"/>
<circle cx="350.8" cy="380.3" r="6.2" fill="#b22222"/>
<circle cx="363.5" cy="417.8" r="6.2" fill="#b22222"/>
<circle cx="375.2" cy="459.9" r="6.2" fill="#b22222"/>
<circle cx="388.6" cy="472.3" r="6.2" fill="#b22222"/>
<circle cx="400.3" cy="504.0" r="6.2" fill="#b22222"/>
<circle cx="415.3" cy="519.1" r="6.2" fill="#b22222"/>
<circle cx="416.0" cy="346.7" r="6.2" fill="#b22222"/>
<circle cx="429.0" cy="352.4" r="6.2" fill="#b22222"/>
<circle cx="441.9" cy="353.1" r="6.2" fill="#b22222"/>
<circle cx="454.6" cy="347.4" r="6.2" fill="#b22222"/>
<circle cx="467.5" cy="357.9" r="6.2" fill="#b22222"/>
<circle cx="480.3" cy="361.3" r="6.2" fill="#b22222"/>
<circle cx="493.0" cy="346.1" r="6.2" fill="#b22222"/>
<circle cx="506.3" cy="336.7" r="6.2" fill="#b22222"/>
<circle cx="518.6" cy="274.8" r="6.2" fill="#b22222"/>
<circle cx="531.0" cy="231.9" r="6.2" fill="#b22222"/>
<circle cx="544.5" cy="370.5" r="6.2" fill="#b22222"/>
<circle cx="557.5" cy="404.8" r="6.2" fill="#b22222"/>
<circle cx="570.1" cy="429.5" r="6.2" fill="#b22222"/>
<circle cx="583.1" cy="463.0" r="6.2" fill="#b22222"/>
<circle cx="596.4" cy="481.2" r="6.2" fill="#b22222"/>
<circle cx="609.3" cy="490.0" r="6.2" fill="#b22222"/>
<circle cx="622.1" cy="504.5" r="6.2" fill="#b22222"/>
<circle cx="622.7" cy="352.5" r="6.2" fill="#b22222"/>
<circle cx="635.5" cy="380.9" r="6.2" fill="#b22222"/>
<circle cx="648.3" cy="387.2" r="6.2" fill="#b22222"/>
<circle cx="661.1" cy="387.2" r="6.2" fill="#b22222"/>
<circle cx="673.9" cy="387.2" r="6.2" fill="#b22222"/>
<circle cx="687.2" cy="387.9" r="6.2" fill="#b22222"/>
<circle cx="700.0" cy="378.6" r="6.2" fill="#b22222"/>
<circle cx="712.4" cy="360.0" r="6.2" fill="#b22222"/>
<circle cx="724.5" cy="350.0" r="6.2" fill="#b22222"/>
<circle cx="738.5" cy="347.6" r="6.2" fill="#b22222"/>
<circle cx="751.3" cy="302.9" r="6.2" fill="#b22222"/>
<circle cx="764.0" cy="446.8" r="6.2" fill="#b22222"/>
<circle cx="776.3" cy="450.9" r="6.2" fill="#b22222"/>
<circle cx="788.9" cy="477.0" r="6.2" fill="#b22222"/>
<circle cx="802.7" cy="479.0" r="6.2" fill="#b22222"/>
<circle cx="815.4" cy="510.0" r="6.2" fill="#b22222"/>
<circle cx="828.6" cy="524.6" r="6.2" fill="#b22222"/>
<circle cx="828.0" cy="366.8" r="6.2" fill="#b22222"/>
<circle cx="842.4" cy="365.2" r="6.2" fill="#b22222"/>
<circle cx="855.2" cy="370.8" r="6.2" fill="#b22222"/>
<circle cx="867.7" cy="380.4" r="6.2" fill="#b22222"/>
<circle cx="880.5" cy="383.2" r="6.2" fill="#b22222"/>
<circle cx="893.6" cy="389.6" r="6.2" fill="#b22222"/>
<circle cx="906.4" cy="382.0" r="6.2" fill="#b22222"/>
<circle cx="919.2" cy="379.3" r="6.2" fill="#b22222"/>
<circle cx="932.0" cy="374.8" r="6.2" fill="#b22222"/>
<circle cx="945.7" cy="366.8" r="6.2" fill="#b22222"/>
<circle cx="956.9" cy="338.8" r="6.2" fill="#b22222"/>
<circle cx="969.7" cy="312.4" r="6.2" fill="#b22222"/>
<circle cx="983.9" cy="450.4" r="6.2" fill="#b22222"/>
<circle cx="996.7" cy="464.8" r="6.2" fill="#b22222"/>
<circle cx="1009.5" cy="469.6" r="6.2" fill="#b22222"/>
<circle cx="1020.4" cy="506.4" r="6.2" fill="#b22222"/>
<circle cx="1035.6" cy="517.9" r="6.2" fill="#b22222"/>
<clipPath id="curt"><polygon points="210.44,449.32 210.44,367.30 209.78,367.28 210.43,367.26 211.21,367.25 212.09,367.24 213.05,367.22 214.08,367.19 215.15,367.16 216.25,367.11 217.37,367.04 218.48,366.95 219.57,366.83 220.61,366.68 221.63,366.51 222.64,366.32 223.67,366.11 224.70,365.89 225.74,365.64 226.79,365.38 227.83,365.10 228.88,364.81 229.92,364.51 230.97,364.19 232.01,363.87 233.04,363.53 234.06,363.19 235.09,362.84 236.12,362.48 237.15,362.11 238.18,361.72 239.22,361.32 240.25,360.90 241.29,360.46 242.33,359.99 243.38,359.50 244.42,358.98 245.46,358.43 246.50,357.86 247.55,357.27 248.61,356.65 249.67,356.01 250.74,355.34 251.80,354.66 252.85,353.95 253.90,353.21 254.93,352.46 255.95,351.68 256.94,350.88 257.91,350.06 258.86,349.23 259.77,348.39 260.67,347.53 261.55,346.66 262.41,345.77 263.26,344.85 264.10,343.90 264.94,342.92 265.78,341.91 266.62,340.86 267.47,339.77 268.32,338.63 269.19,337.44 270.07,336.20 270.96,334.92 271.84,333.59 272.73,332.23 273.61,330.84 274.49,329.42 275.35,327.99 276.20,326.54 277.04,325.08 277.85,323.62 278.64,322.16 279.40,320.70 280.15,319.24 280.87,317.78 281.59,316.31 282.28,314.82 282.97,313.31 283.65,311.78 284.31,310.23 284.97,308.65 285.62,307.03 286.27,305.38 286.91,303.69 287.55,301.93 288.18,300.12 288.81,298.26 289.42,296.35 290.02,294.43 290.62,292.48 291.21,290.53 291.79,288.59 292.36,286.67 292.93,284.77 293.49,282.92 294.04,281.11 294.57,279.41 295.09,277.81 295.59,276.29 296.08,274.81 296.56,273.34 297.05,271.85 297.53,270.30 298.03,268.68 298.53,266.94 299.05,265.05 299.60,263.00 300.16,260.73 300.76,258.21 301.38,255.45 302.02,252.49 302.68,249.38 303.35,246.16 304.02,242.87 304.70,239.56 305.36,236.28 306.02,233.06 306.66,229.97 307.28,227.03 307.87,224.30 308.43,221.75 308.99,219.32 309.53,217.00 310.05,214.76 310.57,212.58 311.08,210.46 311.58,208.36 312.07,206.29 312.55,204.21 313.03,202.11 313.50,199.97 313.97,197.79 314.43,195.55 314.88,193.28 315.32,190.99 315.76,188.69 316.18,186.40 316.60,184.11 317.01,181.85 317.42,179.62 317.82,177.44 318.21,175.31 318.59,173.25 318.97,171.27 319.35,169.35 319.72,167.49 320.08,165.67 320.44,163.90 320.79,162.18 321.14,160.49 321.48,158.84 321.81,157.22 322.14,155.63 322.46,154.06 322.77,152.51 323.07,150.97 323.37,149.43 323.65,147.90 323.92,146.39 324.18,144.90 324.43,143.44 324.67,142.02 324.92,140.64 325.16,139.32 325.40,138.07 325.65,136.88 325.90,135.78 326.15,134.76 326.42,133.82 326.69,132.94 326.97,132.13 327.24,131.38 327.52,130.68 327.80,130.05 328.07,129.47 328.34,128.94 328.61,128.46 328.86,128.03 329.11,127.65 329.32,127.35 329.46,127.18 329.52,127.12 329.55,127.10 329.57,127.10 329.60,127.10 329.66,127.10 329.77,127.12 329.91,127.15 330.10,127.20 330.34,127.25 330.68,127.30 326.80,129.90 326.80,309.00 327.28,311.66 327.77,313.96 328.35,316.69 329.00,319.76 329.71,323.08 330.46,326.58 331.23,330.16 332.01,333.75 332.79,337.25 333.54,340.60 334.25,343.70 334.92,346.47 335.54,348.97 336.14,351.32 336.73,353.55 337.30,355.67 337.87,357.71 338.44,359.69 339.00,361.61 339.56,363.51 340.13,365.39 340.70,367.29 341.28,369.21 341.87,371.18 342.47,373.16 343.05,375.10 343.63,377.02 344.20,378.92 344.79,380.82 345.38,382.73 346.00,384.66 346.63,386.63 347.30,388.65 348.00,390.72 348.75,392.87 349.54,395.09 350.38,397.40 351.27,399.78 352.19,402.23 353.14,404.73 354.12,407.27 355.13,409.85 356.15,412.45 357.19,415.06 358.25,417.66 359.30,420.26 360.36,422.84 361.41,425.37 362.46,427.88 363.51,430.40 364.56,432.91 365.62,435.43 366.69,437.95 367.78,440.48 368.88,443.01 370.01,445.55 371.17,448.09 372.36,450.64 373.58,453.18 374.83,455.73 376.11,458.27 377.42,460.82 378.75,463.37 380.11,465.93 381.49,468.49 382.90,471.05 384.33,473.60 385.78,476.14 387.26,478.68 388.76,481.20 390.28,483.70 391.84,486.19 393.49,488.76 395.28,491.45 397.17,494.22 399.12,497.00 401.08,499.77 403.02,502.48 404.91,505.08 406.68,507.52 408.32,509.76 409.77,511.74 411.00,513.43 414.51,514.78 414.51,593.91"/><polygon points="416.31,440.38 416.31,370.16 415.46,370.25 415.94,370.38 416.50,370.53 417.14,370.69 417.84,370.88 418.60,371.07 419.40,371.27 420.23,371.46 421.09,371.64 421.97,371.81 422.85,371.96 423.72,372.09 424.59,372.19 425.50,372.29 426.43,372.37 427.38,372.45 428.36,372.52 429.35,372.57 430.35,372.62 431.35,372.66 432.36,372.69 433.36,372.70 434.35,372.71 435.32,372.70 436.28,372.68 437.24,372.65 438.19,372.62 439.15,372.57 440.10,372.51 441.06,372.44 442.02,372.36 442.97,372.27 443.93,372.16 444.89,372.05 445.85,371.92 446.81,371.78 447.76,371.64 448.72,371.48 449.69,371.32 450.65,371.14 451.62,370.96 452.58,370.76 453.55,370.54 454.53,370.32 455.50,370.07 456.47,369.81 457.45,369.53 458.42,369.24 459.39,368.92 460.36,368.59 461.33,368.24 462.30,367.88 463.27,367.50 464.24,367.11 465.21,366.70 466.18,366.28 467.14,365.84 468.11,365.39 469.07,364.93 470.03,364.45 470.98,363.97 471.94,363.47 472.89,362.96 473.85,362.44 474.80,361.90 475.76,361.35 476.71,360.78 477.67,360.20 478.63,359.59 479.59,358.96 480.55,358.31 481.51,357.64 482.47,356.95 483.45,356.24 484.43,355.50 485.42,354.75 486.41,353.97 487.40,353.18 488.39,352.37 489.36,351.54 490.32,350.70 491.26,349.84 492.19,348.97 493.09,348.09 493.97,347.20 494.83,346.29 495.67,345.37 496.50,344.44 497.32,343.49 498.12,342.53 498.91,341.55 499.68,340.56 500.44,339.56 501.19,338.55 501.93,337.53 502.65,336.50 503.36,335.45 504.07,334.39 504.76,333.32 505.44,332.24 506.11,331.14 506.76,330.03 507.40,328.90 508.03,327.77 508.64,326.62 509.23,325.45 509.81,324.28 510.37,323.09 510.91,321.90 511.41,320.74 511.89,319.58 512.35,318.42 512.79,317.24 513.23,316.05 513.65,314.82 514.07,313.56 514.50,312.25 514.93,310.87 515.38,309.43 515.84,307.91 516.31,306.35 516.77,304.81 517.23,303.25 517.69,301.65 518.16,300.00 518.63,298.28 519.12,296.47 519.61,294.54 520.12,292.48 520.65,290.27 521.20,287.88 521.77,285.30 522.37,282.44 523.01,279.28 523.67,275.88 524.35,272.29 525.05,268.57 525.75,264.78 526.46,260.97 527.17,257.19 527.87,253.51 528.56,249.98 529.22,246.66 529.87,243.60 530.50,240.75 531.13,238.04 531.75,235.44 532.37,232.94 532.99,230.53 533.59,228.20 534.19,225.93 534.77,223.72 535.34,221.54 535.90,219.39 536.44,217.26 536.96,215.13 537.47,213.00 537.96,210.88 538.45,208.78 538.93,206.71 539.39,204.69 539.83,202.71 540.26,200.81 540.67,198.98 541.06,197.25 541.42,195.61 541.76,194.10 542.07,192.70 542.35,191.43 542.59,190.29 542.80,189.25 542.98,188.31 543.15,187.47 543.29,186.72 543.43,186.03 543.55,185.42 543.67,184.86 543.79,184.34 543.91,183.86 544.04,183.42 544.17,183.03 544.28,182.74 544.39,182.52 544.49,182.36 544.57,182.25 544.64,182.18 544.71,182.11 544.79,182.05 544.89,181.96 545.04,181.84 545.24,181.65 540.20,184.60 540.20,378.60 540.54,380.36 540.75,381.12 540.99,382.04 541.26,383.09 541.57,384.26 541.91,385.53 542.29,386.87 542.71,388.27 543.17,389.72 543.67,391.20 544.22,392.69 544.81,394.17 545.45,395.65 546.14,397.17 546.87,398.72 547.64,400.30 548.44,401.90 549.26,403.53 550.11,405.16 550.97,406.80 551.83,408.43 552.69,410.05 553.54,411.65 554.38,413.23 555.23,414.80 556.08,416.37 556.94,417.92 557.80,419.46 558.67,421.00 559.55,422.54 560.43,424.09 561.32,425.64 562.21,427.20 563.11,428.78 564.01,430.38 564.92,431.99 565.83,433.64 566.75,435.34 567.68,437.06 568.63,438.82 569.58,440.60 570.55,442.40 571.53,444.20 572.52,446.00 573.52,447.80 574.54,449.57 575.57,451.33 576.61,453.05 577.66,454.73 578.72,456.37 579.79,457.97 580.85,459.54 581.92,461.08 583.00,462.61 584.08,464.13 585.15,465.66 586.24,467.18 587.32,468.73 588.41,470.30 589.51,471.90 590.63,473.56 591.77,475.27 592.94,477.00 594.11,478.76 595.30,480.54 596.49,482.32 597.68,484.11 598.87,485.89 600.05,487.66 601.22,489.40 602.37,491.12 603.50,492.80 604.66,494.50 605.86,496.27 607.10,498.08 608.35,499.90 609.58,501.71 610.79,503.48 611.96,505.17 613.05,506.76 614.05,508.21 614.94,509.51 615.70,510.62 621.14,511.52 621.14,584.94"/><polygon points="622.19,431.43 622.19,369.45 623.33,369.58 623.92,369.75 624.62,369.93 625.40,370.14 626.25,370.37 627.16,370.62 628.12,370.88 629.12,371.15 630.14,371.42 631.18,371.70 632.21,371.98 633.24,372.25 634.27,372.53 635.34,372.83 636.46,373.15 637.61,373.49 638.79,373.83 640.00,374.17 641.22,374.51 642.44,374.84 643.68,375.15 644.91,375.45 646.13,375.73 647.33,375.97 648.52,376.20 649.70,376.40 650.89,376.59 652.07,376.76 653.25,376.92 654.43,377.07 655.62,377.21 656.80,377.33 657.98,377.44 659.16,377.53 660.34,377.62 661.51,377.70 662.69,377.77 663.86,377.83 665.04,377.89 666.22,377.94 667.40,377.98 668.59,378.00 669.78,378.01 670.97,377.99 672.16,377.96 673.36,377.90 674.56,377.81 675.75,377.69 676.94,377.55 678.13,377.38 679.31,377.20 680.49,376.99 681.67,376.76 682.86,376.50 684.04,376.23 685.22,375.93 686.40,375.61 687.58,375.27 688.76,374.91 689.94,374.53 691.13,374.12 692.33,373.70 693.54,373.25 694.76,372.78 695.98,372.29 697.19,371.78 698.40,371.24 699.61,370.68 700.79,370.10 701.96,369.49 703.11,368.85 704.23,368.20 705.31,367.52 706.37,366.81 707.41,366.09 708.42,365.35 709.41,364.58 710.39,363.80 711.36,362.99 712.32,362.16 713.27,361.30 714.23,360.43 715.19,359.53 716.17,358.61 717.15,357.67 718.15,356.70 719.15,355.71 720.16,354.69 721.17,353.65 722.18,352.58 723.18,351.49 724.17,350.37 725.14,349.22 726.10,348.05 727.03,346.85 727.94,345.62 728.81,344.37 729.66,343.11 730.49,341.83 731.31,340.53 732.10,339.20 732.88,337.85 733.65,336.47 734.40,335.06 735.15,333.62 735.89,332.15 736.63,330.64 737.37,329.09 738.10,327.50 738.84,325.85 739.57,324.15 740.30,322.41 741.02,320.64 741.72,318.85 742.42,317.05 743.10,315.23 743.76,313.42 744.41,311.61 745.03,309.81 745.63,308.04 746.21,306.28 746.76,304.52 747.30,302.76 747.82,301.00 748.32,299.23 748.80,297.47 749.27,295.71 749.73,293.95 750.18,292.19 750.61,290.44 751.04,288.68 751.46,286.92 751.88,285.15 752.28,283.34 752.67,281.53 753.04,279.71 753.41,277.88 753.76,276.07 754.11,274.28 754.44,272.51 754.76,270.78 755.08,269.08 755.38,267.44 755.68,265.85 755.96,264.27 756.23,262.67 756.47,261.08 756.71,259.50 756.93,257.97 757.15,256.49 757.36,255.08 757.57,253.75 757.78,252.53 758.00,251.44 758.21,250.50 758.43,249.74 758.64,249.18 758.83,248.83 758.98,248.63 759.08,248.54 759.14,248.51 759.20,248.49 759.30,248.48 759.46,248.48 759.69,248.48 760.01,248.49 760.48,248.42 756.20,251.00 756.20,420.40 757.30,423.35 757.92,424.34 758.64,425.52 759.45,426.85 760.33,428.29 761.27,429.82 762.25,431.39 763.25,432.99 764.25,434.58 765.23,436.13 766.18,437.61 767.09,438.98 767.95,440.26 768.80,441.49 769.64,442.70 770.48,443.89 771.32,445.05 772.15,446.21 772.99,447.36 773.84,448.52 774.70,449.69 775.58,450.87 776.48,452.09 777.40,453.33 778.35,454.62 779.33,455.95 780.33,457.31 781.35,458.69 782.39,460.09 783.44,461.50 784.50,462.91 785.57,464.32 786.63,465.71 787.69,467.09 788.75,468.44 789.80,469.76 790.84,471.05 791.88,472.32 792.92,473.56 793.95,474.78 794.98,475.98 796.01,477.17 797.03,478.34 798.05,479.51 799.06,480.67 800.07,481.83 801.08,483.00 802.09,484.18 803.13,485.37 804.17,486.56 805.21,487.73 806.24,488.89 807.27,490.04 808.29,491.19 809.30,492.34 810.30,493.49 811.28,494.64 812.25,495.81 813.21,496.99 814.14,498.19 815.10,499.47 816.12,500.87 817.17,502.36 818.24,503.90 819.31,505.47 820.36,507.02 821.37,508.53 822.32,509.96 823.19,511.29 823.98,512.47 824.66,513.49 827.76,514.30 827.76,575.96"/><polygon points="828.06,422.48 828.06,368.93 828.92,369.12 829.62,369.36 830.44,369.64 831.37,369.96 832.37,370.31 833.45,370.68 834.57,371.06 835.74,371.45 836.91,371.84 838.09,372.22 839.26,372.59 840.39,372.94 841.53,373.28 842.70,373.61 843.89,373.95 845.11,374.28 846.35,374.62 847.59,374.95 848.83,375.29 850.06,375.62 851.29,375.95 852.49,376.28 853.66,376.61 854.80,376.94 855.89,377.27 856.95,377.62 857.99,377.96 859.01,378.32 860.02,378.67 861.05,379.02 862.08,379.37 863.13,379.72 864.21,380.05 865.33,380.38 866.49,380.68 867.69,380.97 868.95,381.23 870.25,381.50 871.60,381.75 872.98,381.99 874.38,382.22 875.79,382.43 877.21,382.64 878.61,382.83 879.98,383.00 881.33,383.15 882.63,383.28 883.88,383.40 885.08,383.49 886.25,383.56 887.37,383.61 888.47,383.64 889.55,383.65 890.61,383.65 891.66,383.63 892.70,383.61 893.73,383.57 894.77,383.52 895.82,383.46 896.89,383.40 897.96,383.33 899.04,383.25 900.12,383.16 901.20,383.07 902.28,382.96 903.36,382.84 904.45,382.71 905.54,382.56 906.62,382.39 907.71,382.20 908.81,382.00 909.90,381.77 910.98,381.53 912.06,381.27 913.15,381.00 914.23,380.71 915.32,380.41 916.40,380.09 917.49,379.75 918.58,379.38 919.67,379.00 920.77,378.59 921.86,378.15 922.96,377.68 924.05,377.20 925.16,376.69 926.27,376.16 927.39,375.60 928.51,375.03 929.62,374.43 930.74,373.80 931.84,373.16 932.94,372.49 934.02,371.79 935.08,371.07 936.13,370.33 937.16,369.56 938.18,368.75 939.20,367.92 940.20,367.05 941.19,366.17 942.16,365.27 943.12,364.36 944.06,363.43 944.97,362.51 945.86,361.58 946.72,360.65 947.55,359.73 948.35,358.81 949.12,357.89 949.86,356.96 950.58,356.03 951.27,355.10 951.95,354.16 952.60,353.21 953.24,352.25 953.87,351.29 954.48,350.31 955.09,349.32 955.70,348.32 956.30,347.29 956.89,346.25 957.45,345.20 958.00,344.15 958.53,343.08 959.06,342.01 959.58,340.93 960.09,339.84 960.61,338.74 961.12,337.64 961.64,336.52 962.17,335.40 962.70,334.28 963.24,333.17 963.79,332.06 964.35,330.94 964.91,329.80 965.47,328.64 966.02,327.45 966.57,326.23 967.11,324.96 967.63,323.64 968.14,322.27 968.63,320.83 969.11,319.26 969.56,317.54 969.99,315.72 970.40,313.83 970.80,311.92 971.20,310.01 971.58,308.14 971.96,306.37 972.33,304.72 972.69,303.25 973.05,302.00 973.40,301.02 973.73,300.33 974.03,299.85 974.30,299.54 974.52,299.37 974.71,299.28 974.90,299.22 975.11,299.20 975.37,299.19 975.69,299.20 976.08,299.21 976.60,299.15 972.40,301.70 972.40,444.00 973.10,446.34 973.34,446.80 973.63,447.40 973.97,448.11 974.36,448.91 974.81,449.79 975.31,450.73 975.87,451.73 976.48,452.78 977.17,453.86 977.92,454.96 978.73,456.08 979.60,457.19 980.53,458.32 981.51,459.47 982.54,460.64 983.61,461.84 984.71,463.06 985.85,464.30 987.01,465.56 988.19,466.84 989.38,468.13 990.57,469.43 991.76,470.75 992.98,472.11 994.27,473.54 995.60,475.03 996.97,476.55 998.36,478.09 999.76,479.65 1001.16,481.20 1002.56,482.73 1003.93,484.24 1005.27,485.69 1006.57,487.09 1007.82,488.42 1009.02,489.68 1010.18,490.87 1011.31,492.02 1012.40,493.12 1013.47,494.19 1014.52,495.22 1015.56,496.24 1016.58,497.24 1017.61,498.24 1018.63,499.24 1019.66,500.26 1020.70,501.30 1021.81,502.41 1022.98,503.58 1024.20,504.80 1025.44,506.04 1026.68,507.28 1027.90,508.50 1029.07,509.67 1030.18,510.78 1031.20,511.80 1032.11,512.71 1032.88,513.48 1034.39,514.10 1034.39,566.99"/></clipPath>
<g clip-path="url(#curt)" fill="rgb(128,204,242)" fill-opacity="0.5">
<path d="M209.5 347.9 A6.2 6.2 0 0 1 209.5 360.3 Z"/>
<path d="M221.7 361.8 A6.2 6.2 0 0 1 221.7 374.2 Z"/>
<path d="M235.3 348.5 A6.2 6.2 0 0 1 235.3 360.9 Z"/>
<path d="M248.6 338.1 A6.2 6.2 0 0 1 248.6 350.5 Z"/>
<path d="M260.0 338.7 A6.2 6.2 0 0 1 260.0 351.1 Z"/>
<path d="M273.2 306.7 A6.2 6.2 0 0 1 273.2 319.1 Z"/>
<path d="M286.5 316.3 A6.2 6.2 0 0 1 286.5 328.7 Z"/>
<path d="M299.1 244.0 A6.2 6.2 0 0 1 299.1 256.4 Z"/>
<path d="M312.9 211.2 A6.2 6.2 0 0 1 312.9 223.6 Z"/>
<path d="M324.1 154.7 A6.2 6.2 0 0 1 324.1 167.1 Z"/>
<path d="M337.0 339.0 A6.2 6.2 0 0 1 337.0 351.4 Z"/>
<path d="M351.1 374.1 A6.2 6.2 0 0 1 351.1 386.5 Z"/>
<path d="M363.8 411.6 A6.2 6.2 0 0 1 363.8 424.0 Z"/>
<path d="M375.5 453.7 A6.2 6.2 0 0 1 375.5 466.1 Z"/>
<path d="M388.9 466.1 A6.2 6.2 0 0 1 388.9 478.5 Z"/>
<path d="M400.6 497.8 A6.2 6.2 0 0 1 400.6 510.2 Z"/>
<path d="M415.6 512.9 A6.2 6.2 0 0 1 415.6 525.3 Z"/>
<path d="M416.3 340.5 A6.2 6.2 0 0 1 416.3 352.9 Z"/>
<path d="M429.3 346.2 A6.2 6.2 0 0 1 429.3 358.6 Z"/>
<path d="M442.2 346.9 A6.2 6.2 0 0 1 442.2 359.3 Z"/>
<path d="M454.9 341.2 A6.2 6.2 0 0 1 454.9 353.6 Z"/>
<path d="M467.8 351.7 A6.2 6.2 0 0 1 467.8 364.1 Z"/>
<path d="M480.6 355.1 A6.2 6.2 0 0 1 480.6 367.5 Z"/>
<path d="M493.3 339.9 A6.2 6.2 0 0 1 493.3 352.3 Z"/>
<path d="M506.6 330.5 A6.2 6.2 0 0 1 506.6 342.9 Z"/>
<path d="M518.9 268.6 A6.2 6.2 0 0 1 518.9 281.0 Z"/>
<path d="M531.3 225.7 A6.2 6.2 0 0 1 531.3 238.1 Z"/>
<path d="M544.8 364.3 A6.2 6.2 0 0 1 544.8 376.7 Z"/>
<path d="M557.8 398.6 A6.2 6.2 0 0 1 557.8 411.0 Z"/>
<path d="M570.4 423.3 A6.2 6.2 0 0 1 570.4 435.7 Z"/>
<path d="M583.4 456.8 A6.2 6.2 0 0 1 583.4 469.2 Z"/>
<path d="M596.7 475.0 A6.2 6.2 0 0 1 596.7 487.4 Z"/>
<path d="M609.6 483.8 A6.2 6.2 0 0 1 609.6 496.2 Z"/>
<path d="M622.4 498.3 A6.2 6.2 0 0 1 622.4 510.7 Z"/>
<path d="M623.0 346.3 A6.2 6.2 0 0 1 623.0 358.7 Z"/>
<path d="M635.8 374.7 A6.2 6.2 0 0 1 635.8 387.1 Z"/>
<path d="M648.6 381.0 A6.2 6.2 0 0 1 648.6 393.4 Z"/>
<path d="M661.4 381.0 A6.2 6.2 0 0 1 661.4 393.4 Z"/>
<path d="M674.2 381.0 A6.2 6.2 0 0 1 674.2 393.4 Z"/>
<path d="M687.5 381.7 A6.2 6.2 0 0 1 687.5 394.1 Z"/>
<path d="M700.3 372.4 A6.2 6.2 0 0 1 700.3 384.8 Z"/>
<path d="M712.7 353.8 A6.2 6.2 0 0 1 712.7 366.2 Z"/>
<path d="M724.8 343.8 A6.2 6.2 0 0 1 724.8 356.2 Z"/>
<path d="M738.8 341.4 A6.2 6.2 0 0 1 738.8 353.8 Z"/>
<path d="M751.6 296.7 A6.2 6.2 0 0 1 751.6 309.1 Z"/>
<path d="M764.3 440.6 A6.2 6.2 0 0 1 764.3 453.0 Z"/>
<path d="M776.6 444.7 A6.2 6.2 0 0 1 776.6 457.1 Z"/>
<path d="M789.2 470.8 A6.2 6.2 0 0 1 789.2 483.2 Z"/>
<path d="M803.0 472.8 A6.2 6.2 0 0 1 803.0 485.2 Z"/>
<path d="M815.7 503.8 A6.2 6.2 0 0 1 815.7 516.2 Z"/>
<path d="M828.9 518.4 A6.2 6.2 0 0 1 828.9 530.8 Z"/>
<path d="M828.3 360.6 A6.2 6.2 0 0 1 828.3 373.0 Z"/>
<path d="M842.7 359.0 A6.2 6.2 0 0 1 842.7 371.4 Z"/>
<path d="M855.5 364.6 A6.2 6.2 0 0 1 855.5 377.0 Z"/>
<path d="M868.0 374.2 A6.2 6.2 0 0 1 868.0 386.6 Z"/>
<path d="M880.8 377.0 A6.2 6.2 0 0 1 880.8 389.4 Z"/>
<path d="M893.9 383.4 A6.2 6.2 0 0 1 893.9 395.8 Z"/>
<path d="M906.7 375.8 A6.2 6.2 0 0 1 906.7 388.2 Z"/>
<path d="M919.5 373.1 A6.2 6.2 0 0 1 919.5 385.5 Z"/>
<path d="M932.3 368.6 A6.2 6.2 0 0 1 932.3 381.0 Z"/>
<path d="M946.0 360.6 A6.2 6.2 0 0 1 946.0 373.0 Z"/>
<path d="M957.2 332.6 A6.2 6.2 0 0 1 957.2 345.0 Z"/>
<path d="M970.0 306.2 A6.2 6.2 0 0 1 970.0 318.6 Z"/>
<path d="M984.2 444.2 A6.2 6.2 0 0 1 984.2 456.6 Z"/>
<path d="M997.0 458.6 A6.2 6.2 0 0 1 997.0 471.0 Z"/>
<path d="M1009.8 463.4 A6.2 6.2 0 0 1 1009.8 475.8 Z"/>
<path d="M1020.7 500.2 A6.2 6.2 0 0 1 1020.7 512.6 Z"/>
<path d="M1035.9 511.7 A6.2 6.2 0 0 1 1035.9 524.1 Z"/>
</g>
<mask id="outcurt"><rect x="0" y="0" width="2150" height="687" fill="#fff"/><polygon points="210.44,449.32 210.44,367.30 209.78,367.28 210.43,367.26 211.21,367.25 212.09,367.24 213.05,367.22 214.08,367.19 215.15,367.16 216.25,367.11 217.37,367.04 218.48,366.95 219.57,366.83 220.61,366.68 221.63,366.51 222.64,366.32 223.67,366.11 224.70,365.89 225.74,365.64 226.79,365.38 227.83,365.10 228.88,364.81 229.92,364.51 230.97,364.19 232.01,363.87 233.04,363.53 234.06,363.19 235.09,362.84 236.12,362.48 237.15,362.11 238.18,361.72 239.22,361.32 240.25,360.90 241.29,360.46 242.33,359.99 243.38,359.50 244.42,358.98 245.46,358.43 246.50,357.86 247.55,357.27 248.61,356.65 249.67,356.01 250.74,355.34 251.80,354.66 252.85,353.95 253.90,353.21 254.93,352.46 255.95,351.68 256.94,350.88 257.91,350.06 258.86,349.23 259.77,348.39 260.67,347.53 261.55,346.66 262.41,345.77 263.26,344.85 264.10,343.90 264.94,342.92 265.78,341.91 266.62,340.86 267.47,339.77 268.32,338.63 269.19,337.44 270.07,336.20 270.96,334.92 271.84,333.59 272.73,332.23 273.61,330.84 274.49,329.42 275.35,327.99 276.20,326.54 277.04,325.08 277.85,323.62 278.64,322.16 279.40,320.70 280.15,319.24 280.87,317.78 281.59,316.31 282.28,314.82 282.97,313.31 283.65,311.78 284.31,310.23 284.97,308.65 285.62,307.03 286.27,305.38 286.91,303.69 287.55,301.93 288.18,300.12 288.81,298.26 289.42,296.35 290.02,294.43 290.62,292.48 291.21,290.53 291.79,288.59 292.36,286.67 292.93,284.77 293.49,282.92 294.04,281.11 294.57,279.41 295.09,277.81 295.59,276.29 296.08,274.81 296.56,273.34 297.05,271.85 297.53,270.30 298.03,268.68 298.53,266.94 299.05,265.05 299.60,263.00 300.16,260.73 300.76,258.21 301.38,255.45 302.02,252.49 302.68,249.38 303.35,246.16 304.02,242.87 304.70,239.56 305.36,236.28 306.02,233.06 306.66,229.97 307.28,227.03 307.87,224.30 308.43,221.75 308.99,219.32 309.53,217.00 310.05,214.76 310.57,212.58 311.08,210.46 311.58,208.36 312.07,206.29 312.55,204.21 313.03,202.11 313.50,199.97 313.97,197.79 314.43,195.55 314.88,193.28 315.32,190.99 315.76,188.69 316.18,186.40 316.60,184.11 317.01,181.85 317.42,179.62 317.82,177.44 318.21,175.31 318.59,173.25 318.97,171.27 319.35,169.35 319.72,167.49 320.08,165.67 320.44,163.90 320.79,162.18 321.14,160.49 321.48,158.84 321.81,157.22 322.14,155.63 322.46,154.06 322.77,152.51 323.07,150.97 323.37,149.43 323.65,147.90 323.92,146.39 324.18,144.90 324.43,143.44 324.67,142.02 324.92,140.64 325.16,139.32 325.40,138.07 325.65,136.88 325.90,135.78 326.15,134.76 326.42,133.82 326.69,132.94 326.97,132.13 327.24,131.38 327.52,130.68 327.80,130.05 328.07,129.47 328.34,128.94 328.61,128.46 328.86,128.03 329.11,127.65 329.32,127.35 329.46,127.18 329.52,127.12 329.55,127.10 329.57,127.10 329.60,127.10 329.66,127.10 329.77,127.12 329.91,127.15 330.10,127.20 330.34,127.25 330.68,127.30 326.80,129.90 326.80,309.00 327.28,311.66 327.77,313.96 328.35,316.69 329.00,319.76 329.71,323.08 330.46,326.58 331.23,330.16 332.01,333.75 332.79,337.25 333.54,340.60 334.25,343.70 334.92,346.47 335.54,348.97 336.14,351.32 336.73,353.55 337.30,355.67 337.87,357.71 338.44,359.69 339.00,361.61 339.56,363.51 340.13,365.39 340.70,367.29 341.28,369.21 341.87,371.18 342.47,373.16 343.05,375.10 343.63,377.02 344.20,378.92 344.79,380.82 345.38,382.73 346.00,384.66 346.63,386.63 347.30,388.65 348.00,390.72 348.75,392.87 349.54,395.09 350.38,397.40 351.27,399.78 352.19,402.23 353.14,404.73 354.12,407.27 355.13,409.85 356.15,412.45 357.19,415.06 358.25,417.66 359.30,420.26 360.36,422.84 361.41,425.37 362.46,427.88 363.51,430.40 364.56,432.91 365.62,435.43 366.69,437.95 367.78,440.48 368.88,443.01 370.01,445.55 371.17,448.09 372.36,450.64 373.58,453.18 374.83,455.73 376.11,458.27 377.42,460.82 378.75,463.37 380.11,465.93 381.49,468.49 382.90,471.05 384.33,473.60 385.78,476.14 387.26,478.68 388.76,481.20 390.28,483.70 391.84,486.19 393.49,488.76 395.28,491.45 397.17,494.22 399.12,497.00 401.08,499.77 403.02,502.48 404.91,505.08 406.68,507.52 408.32,509.76 409.77,511.74 411.00,513.43 414.51,514.78 414.51,593.91" fill="#000"/><polygon points="416.31,440.38 416.31,370.16 415.46,370.25 415.94,370.38 416.50,370.53 417.14,370.69 417.84,370.88 418.60,371.07 419.40,371.27 420.23,371.46 421.09,371.64 421.97,371.81 422.85,371.96 423.72,372.09 424.59,372.19 425.50,372.29 426.43,372.37 427.38,372.45 428.36,372.52 429.35,372.57 430.35,372.62 431.35,372.66 432.36,372.69 433.36,372.70 434.35,372.71 435.32,372.70 436.28,372.68 437.24,372.65 438.19,372.62 439.15,372.57 440.10,372.51 441.06,372.44 442.02,372.36 442.97,372.27 443.93,372.16 444.89,372.05 445.85,371.92 446.81,371.78 447.76,371.64 448.72,371.48 449.69,371.32 450.65,371.14 451.62,370.96 452.58,370.76 453.55,370.54 454.53,370.32 455.50,370.07 456.47,369.81 457.45,369.53 458.42,369.24 459.39,368.92 460.36,368.59 461.33,368.24 462.30,367.88 463.27,367.50 464.24,367.11 465.21,366.70 466.18,366.28 467.14,365.84 468.11,365.39 469.07,364.93 470.03,364.45 470.98,363.97 471.94,363.47 472.89,362.96 473.85,362.44 474.80,361.90 475.76,361.35 476.71,360.78 477.67,360.20 478.63,359.59 479.59,358.96 480.55,358.31 481.51,357.64 482.47,356.95 483.45,356.24 484.43,355.50 485.42,354.75 486.41,353.97 487.40,353.18 488.39,352.37 489.36,351.54 490.32,350.70 491.26,349.84 492.19,348.97 493.09,348.09 493.97,347.20 494.83,346.29 495.67,345.37 496.50,344.44 497.32,343.49 498.12,342.53 498.91,341.55 499.68,340.56 500.44,339.56 501.19,338.55 501.93,337.53 502.65,336.50 503.36,335.45 504.07,334.39 504.76,333.32 505.44,332.24 506.11,331.14 506.76,330.03 507.40,328.90 508.03,327.77 508.64,326.62 509.23,325.45 509.81,324.28 510.37,323.09 510.91,321.90 511.41,320.74 511.89,319.58 512.35,318.42 512.79,317.24 513.23,316.05 513.65,314.82 514.07,313.56 514.50,312.25 514.93,310.87 515.38,309.43 515.84,307.91 516.31,306.35 516.77,304.81 517.23,303.25 517.69,301.65 518.16,300.00 518.63,298.28 519.12,296.47 519.61,294.54 520.12,292.48 520.65,290.27 521.20,287.88 521.77,285.30 522.37,282.44 523.01,279.28 523.67,275.88 524.35,272.29 525.05,268.57 525.75,264.78 526.46,260.97 527.17,257.19 527.87,253.51 528.56,249.98 529.22,246.66 529.87,243.60 530.50,240.75 531.13,238.04 531.75,235.44 532.37,232.94 532.99,230.53 533.59,228.20 534.19,225.93 534.77,223.72 535.34,221.54 535.90,219.39 536.44,217.26 536.96,215.13 537.47,213.00 537.96,210.88 538.45,208.78 538.93,206.71 539.39,204.69 539.83,202.71 540.26,200.81 540.67,198.98 541.06,197.25 541.42,195.61 541.76,194.10 542.07,192.70 542.35,191.43 542.59,190.29 542.80,189.25 542.98,188.31 543.15,187.47 543.29,186.72 543.43,186.03 543.55,185.42 543.67,184.86 543.79,184.34 543.91,183.86 544.04,183.42 544.17,183.03 544.28,182.74 544.39,182.52 544.49,182.36 544.57,182.25 544.64,182.18 544.71,182.11 544.79,182.05 544.89,181.96 545.04,181.84 545.24,181.65 540.20,184.60 540.20,378.60 540.54,380.36 540.75,381.12 540.99,382.04 541.26,383.09 541.57,384.26 541.91,385.53 542.29,386.87 542.71,388.27 543.17,389.72 543.67,391.20 544.22,392.69 544.81,394.17 545.45,395.65 546.14,397.17 546.87,398.72 547.64,400.30 548.44,401.90 549.26,403.53 550.11,405.16 550.97,406.80 551.83,408.43 552.69,410.05 553.54,411.65 554.38,413.23 555.23,414.80 556.08,416.37 556.94,417.92 557.80,419.46 558.67,421.00 559.55,422.54 560.43,424.09 561.32,425.64 562.21,427.20 563.11,428.78 564.01,430.38 564.92,431.99 565.83,433.64 566.75,435.34 567.68,437.06 568.63,438.82 569.58,440.60 570.55,442.40 571.53,444.20 572.52,446.00 573.52,447.80 574.54,449.57 575.57,451.33 576.61,453.05 577.66,454.73 578.72,456.37 579.79,457.97 580.85,459.54 581.92,461.08 583.00,462.61 584.08,464.13 585.15,465.66 586.24,467.18 587.32,468.73 588.41,470.30 589.51,471.90 590.63,473.56 591.77,475.27 592.94,477.00 594.11,478.76 595.30,480.54 596.49,482.32 597.68,484.11 598.87,485.89 600.05,487.66 601.22,489.40 602.37,491.12 603.50,492.80 604.66,494.50 605.86,496.27 607.10,498.08 608.35,499.90 609.58,501.71 610.79,503.48 611.96,505.17 613.05,506.76 614.05,508.21 614.94,509.51 615.70,510.62 621.14,511.52 621.14,584.94" fill="#000"/><polygon points="622.19,431.43 622.19,369.45 623.33,369.58 623.92,369.75 624.62,369.93 625.40,370.14 626.25,370.37 627.16,370.62 628.12,370.88 629.12,371.15 630.14,371.42 631.18,371.70 632.21,371.98 633.24,372.25 634.27,372.53 635.34,372.83 636.46,373.15 637.61,373.49 638.79,373.83 640.00,374.17 641.22,374.51 642.44,374.84 643.68,375.15 644.91,375.45 646.13,375.73 647.33,375.97 648.52,376.20 649.70,376.40 650.89,376.59 652.07,376.76 653.25,376.92 654.43,377.07 655.62,377.21 656.80,377.33 657.98,377.44 659.16,377.53 660.34,377.62 661.51,377.70 662.69,377.77 663.86,377.83 665.04,377.89 666.22,377.94 667.40,377.98 668.59,378.00 669.78,378.01 670.97,377.99 672.16,377.96 673.36,377.90 674.56,377.81 675.75,377.69 676.94,377.55 678.13,377.38 679.31,377.20 680.49,376.99 681.67,376.76 682.86,376.50 684.04,376.23 685.22,375.93 686.40,375.61 687.58,375.27 688.76,374.91 689.94,374.53 691.13,374.12 692.33,373.70 693.54,373.25 694.76,372.78 695.98,372.29 697.19,371.78 698.40,371.24 699.61,370.68 700.79,370.10 701.96,369.49 703.11,368.85 704.23,368.20 705.31,367.52 706.37,366.81 707.41,366.09 708.42,365.35 709.41,364.58 710.39,363.80 711.36,362.99 712.32,362.16 713.27,361.30 714.23,360.43 715.19,359.53 716.17,358.61 717.15,357.67 718.15,356.70 719.15,355.71 720.16,354.69 721.17,353.65 722.18,352.58 723.18,351.49 724.17,350.37 725.14,349.22 726.10,348.05 727.03,346.85 727.94,345.62 728.81,344.37 729.66,343.11 730.49,341.83 731.31,340.53 732.10,339.20 732.88,337.85 733.65,336.47 734.40,335.06 735.15,333.62 735.89,332.15 736.63,330.64 737.37,329.09 738.10,327.50 738.84,325.85 739.57,324.15 740.30,322.41 741.02,320.64 741.72,318.85 742.42,317.05 743.10,315.23 743.76,313.42 744.41,311.61 745.03,309.81 745.63,308.04 746.21,306.28 746.76,304.52 747.30,302.76 747.82,301.00 748.32,299.23 748.80,297.47 749.27,295.71 749.73,293.95 750.18,292.19 750.61,290.44 751.04,288.68 751.46,286.92 751.88,285.15 752.28,283.34 752.67,281.53 753.04,279.71 753.41,277.88 753.76,276.07 754.11,274.28 754.44,272.51 754.76,270.78 755.08,269.08 755.38,267.44 755.68,265.85 755.96,264.27 756.23,262.67 756.47,261.08 756.71,259.50 756.93,257.97 757.15,256.49 757.36,255.08 757.57,253.75 757.78,252.53 758.00,251.44 758.21,250.50 758.43,249.74 758.64,249.18 758.83,248.83 758.98,248.63 759.08,248.54 759.14,248.51 759.20,248.49 759.30,248.48 759.46,248.48 759.69,248.48 760.01,248.49 760.48,248.42 756.20,251.00 756.20,420.40 757.30,423.35 757.92,424.34 758.64,425.52 759.45,426.85 760.33,428.29 761.27,429.82 762.25,431.39 763.25,432.99 764.25,434.58 765.23,436.13 766.18,437.61 767.09,438.98 767.95,440.26 768.80,441.49 769.64,442.70 770.48,443.89 771.32,445.05 772.15,446.21 772.99,447.36 773.84,448.52 774.70,449.69 775.58,450.87 776.48,452.09 777.40,453.33 778.35,454.62 779.33,455.95 780.33,457.31 781.35,458.69 782.39,460.09 783.44,461.50 784.50,462.91 785.57,464.32 786.63,465.71 787.69,467.09 788.75,468.44 789.80,469.76 790.84,471.05 791.88,472.32 792.92,473.56 793.95,474.78 794.98,475.98 796.01,477.17 797.03,478.34 798.05,479.51 799.06,480.67 800.07,481.83 801.08,483.00 802.09,484.18 803.13,485.37 804.17,486.56 805.21,487.73 806.24,488.89 807.27,490.04 808.29,491.19 809.30,492.34 810.30,493.49 811.28,494.64 812.25,495.81 813.21,496.99 814.14,498.19 815.10,499.47 816.12,500.87 817.17,502.36 818.24,503.90 819.31,505.47 820.36,507.02 821.37,508.53 822.32,509.96 823.19,511.29 823.98,512.47 824.66,513.49 827.76,514.30 827.76,575.96" fill="#000"/><polygon points="828.06,422.48 828.06,368.93 828.92,369.12 829.62,369.36 830.44,369.64 831.37,369.96 832.37,370.31 833.45,370.68 834.57,371.06 835.74,371.45 836.91,371.84 838.09,372.22 839.26,372.59 840.39,372.94 841.53,373.28 842.70,373.61 843.89,373.95 845.11,374.28 846.35,374.62 847.59,374.95 848.83,375.29 850.06,375.62 851.29,375.95 852.49,376.28 853.66,376.61 854.80,376.94 855.89,377.27 856.95,377.62 857.99,377.96 859.01,378.32 860.02,378.67 861.05,379.02 862.08,379.37 863.13,379.72 864.21,380.05 865.33,380.38 866.49,380.68 867.69,380.97 868.95,381.23 870.25,381.50 871.60,381.75 872.98,381.99 874.38,382.22 875.79,382.43 877.21,382.64 878.61,382.83 879.98,383.00 881.33,383.15 882.63,383.28 883.88,383.40 885.08,383.49 886.25,383.56 887.37,383.61 888.47,383.64 889.55,383.65 890.61,383.65 891.66,383.63 892.70,383.61 893.73,383.57 894.77,383.52 895.82,383.46 896.89,383.40 897.96,383.33 899.04,383.25 900.12,383.16 901.20,383.07 902.28,382.96 903.36,382.84 904.45,382.71 905.54,382.56 906.62,382.39 907.71,382.20 908.81,382.00 909.90,381.77 910.98,381.53 912.06,381.27 913.15,381.00 914.23,380.71 915.32,380.41 916.40,380.09 917.49,379.75 918.58,379.38 919.67,379.00 920.77,378.59 921.86,378.15 922.96,377.68 924.05,377.20 925.16,376.69 926.27,376.16 927.39,375.60 928.51,375.03 929.62,374.43 930.74,373.80 931.84,373.16 932.94,372.49 934.02,371.79 935.08,371.07 936.13,370.33 937.16,369.56 938.18,368.75 939.20,367.92 940.20,367.05 941.19,366.17 942.16,365.27 943.12,364.36 944.06,363.43 944.97,362.51 945.86,361.58 946.72,360.65 947.55,359.73 948.35,358.81 949.12,357.89 949.86,356.96 950.58,356.03 951.27,355.10 951.95,354.16 952.60,353.21 953.24,352.25 953.87,351.29 954.48,350.31 955.09,349.32 955.70,348.32 956.30,347.29 956.89,346.25 957.45,345.20 958.00,344.15 958.53,343.08 959.06,342.01 959.58,340.93 960.09,339.84 960.61,338.74 961.12,337.64 961.64,336.52 962.17,335.40 962.70,334.28 963.24,333.17 963.79,332.06 964.35,330.94 964.91,329.80 965.47,328.64 966.02,327.45 966.57,326.23 967.11,324.96 967.63,323.64 968.14,322.27 968.63,320.83 969.11,319.26 969.56,317.54 969.99,315.72 970.40,313.83 970.80,311.92 971.20,310.01 971.58,308.14 971.96,306.37 972.33,304.72 972.69,303.25 973.05,302.00 973.40,301.02 973.73,300.33 974.03,299.85 974.30,299.54 974.52,299.37 974.71,299.28 974.90,299.22 975.11,299.20 975.37,299.19 975.69,299.20 976.08,299.21 976.60,299.15 972.40,301.70 972.40,444.00 973.10,446.34 973.34,446.80 973.63,447.40 973.97,448.11 974.36,448.91 974.81,449.79 975.31,450.73 975.87,451.73 976.48,452.78 977.17,453.86 977.92,454.96 978.73,456.08 979.60,457.19 980.53,458.32 981.51,459.47 982.54,460.64 983.61,461.84 984.71,463.06 985.85,464.30 987.01,465.56 988.19,466.84 989.38,468.13 990.57,469.43 991.76,470.75 992.98,472.11 994.27,473.54 995.60,475.03 996.97,476.55 998.36,478.09 999.76,479.65 1001.16,481.20 1002.56,482.73 1003.93,484.24 1005.27,485.69 1006.57,487.09 1007.82,488.42 1009.02,489.68 1010.18,490.87 1011.31,492.02 1012.40,493.12 1013.47,494.19 1014.52,495.22 1015.56,496.24 1016.58,497.24 1017.61,498.24 1018.63,499.24 1019.66,500.26 1020.70,501.30 1021.81,502.41 1022.98,503.58 1024.20,504.80 1025.44,506.04 1026.68,507.28 1027.90,508.50 1029.07,509.67 1030.18,510.78 1031.20,511.80 1032.11,512.71 1032.88,513.48 1034.39,514.10 1034.39,566.99" fill="#000"/></mask>
<g mask="url(#outcurt)">
<path clip-path="url(#ctop0)" d="M209.20 365.90 C211.07 365.80 216.50 365.92 220.40 365.30 C224.30 364.68 228.53 363.55 232.60 362.20 C236.67 360.85 240.73 359.40 244.80 357.20 C248.87 355.00 253.27 352.23 257.00 349.00 C260.73 345.77 263.80 342.38 267.20 337.80 C270.60 333.22 274.33 327.27 277.40 321.50 C280.47 315.73 283.05 310.00 285.60 303.20 C288.15 296.40 290.50 287.83 292.70 280.70 C294.90 273.57 296.50 269.85 298.80 260.40 C301.10 250.95 304.20 234.48 306.50 224.00 C308.80 213.52 310.75 206.33 312.60 197.50 C314.45 188.67 316.08 178.80 317.60 171.00 C319.12 163.20 320.50 156.80 321.70 150.70 C322.90 144.60 323.72 138.43 324.80 134.40 C325.88 130.37 327.18 127.92 328.20 126.50 C329.22 125.08 330.45 126.00 330.90 125.90" fill="none" stroke="#00bfff" stroke-width="8.3"/>
<path clip-path="url(#ctop1)" d="M415.40 368.80 C416.82 369.12 420.58 370.28 423.90 370.70 C427.22 371.12 431.52 371.35 435.30 371.30 C439.08 371.25 442.82 370.97 446.60 370.40 C450.38 369.83 454.20 369.10 458.00 367.90 C461.80 366.70 465.62 365.10 469.40 363.20 C473.18 361.30 476.92 359.18 480.70 356.50 C484.48 353.82 488.63 350.57 492.10 347.10 C495.57 343.63 498.67 339.80 501.50 335.70 C504.33 331.60 506.93 327.20 509.10 322.50 C511.27 317.80 512.62 313.75 514.50 307.50 C516.38 301.25 518.07 295.70 520.40 285.00 C522.73 274.30 525.97 255.00 528.50 243.30 C531.03 231.60 533.57 223.28 535.60 214.80 C537.63 206.32 539.52 197.70 540.70 192.40 C541.88 187.10 542.10 184.97 542.70 183.00 C543.30 181.03 544.03 181.00 544.30 180.60" fill="none" stroke="#00bfff" stroke-width="8.3"/>
<path clip-path="url(#ctop2)" d="M623.20 368.10 C624.93 368.57 629.53 369.82 633.60 370.90 C637.67 371.98 642.93 373.70 647.60 374.60 C652.27 375.50 656.93 376.02 661.60 376.30 C666.27 376.58 670.95 376.82 675.60 376.30 C680.25 375.78 684.85 374.75 689.50 373.20 C694.15 371.65 699.22 369.60 703.50 367.00 C707.78 364.40 711.32 361.30 715.20 357.60 C719.08 353.90 723.32 349.65 726.80 344.80 C730.28 339.95 733.18 334.70 736.10 328.50 C739.02 322.30 741.97 314.58 744.30 307.60 C746.63 300.62 748.43 293.60 750.10 286.60 C751.77 279.60 753.13 271.82 754.30 265.60 C755.47 259.38 756.10 252.40 757.10 249.30 C758.10 246.20 759.77 247.38 760.30 247.00" fill="none" stroke="#00bfff" stroke-width="8.3"/>
<path clip-path="url(#ctop3)" d="M828.80 367.60 C830.80 368.27 836.40 370.27 840.80 371.60 C845.20 372.93 850.67 374.27 855.20 375.60 C859.73 376.93 863.20 378.53 868.00 379.60 C872.80 380.67 879.20 381.60 884.00 382.00 C888.80 382.40 892.53 382.27 896.80 382.00 C901.07 381.73 905.33 381.33 909.60 380.40 C913.87 379.47 918.12 378.27 922.40 376.40 C926.68 374.53 931.28 372.13 935.30 369.20 C939.32 366.27 943.30 362.40 946.50 358.80 C949.70 355.20 952.10 351.60 954.50 347.60 C956.90 343.60 958.77 339.33 960.90 334.80 C963.03 330.27 965.43 326.12 967.30 320.40 C969.17 314.68 970.57 304.28 972.10 300.50 C973.63 296.72 975.77 298.17 976.50 297.70" fill="none" stroke="#00bfff" stroke-width="8.3"/>
</g>
<polygon points="274.21,487.01 280.71,494.51 274.21,502.01 267.71,494.51" fill="#0000ff" />
<polygon points="505.92,496.12 512.42,503.62 505.92,511.12 499.42,503.62" fill="#0000ff" />
<polygon points="737.82,505.23 744.32,512.73 737.82,520.23 731.32,512.73" fill="#0000ff" />
<polygon points="957.02,505.30 963.52,512.80 957.02,520.30 950.52,512.80" fill="#0000ff" />
<polygon points="363.49,550.27 369.99,557.77 363.49,565.27 356.99,557.77" fill="#0000ff" />
<polygon points="569.93,541.30 576.43,548.80 569.93,556.30 563.43,548.80" fill="#0000ff" />
<polygon points="802.07,550.40 808.57,557.90 802.07,565.40 795.57,557.90" fill="#0000ff" />
<polygon points="1021.49,550.46 1027.99,557.96 1021.49,565.46 1014.99,557.96" fill="#0000ff" />
<line x1="107.50" y1="453.80" x2="311.20" y2="598.40" stroke="#404040" stroke-width="2.8" fill="none"/>
<line x1="304.20" y1="599.20" x2="1137.70" y2="563.30" stroke="#404040" stroke-width="2.8" fill="none"/>
<line x1="311.20" y1="599.20" x2="317.32" y2="603.54" stroke="#404040" stroke-width="2.2"/>
<line x1="331.86" y1="598.30" x2="334.31" y2="600.04" stroke="#404040" stroke-width="2.2"/>
<line x1="352.52" y1="597.40" x2="354.97" y2="599.14" stroke="#404040" stroke-width="2.2"/>
<line x1="373.19" y1="596.51" x2="375.63" y2="598.24" stroke="#404040" stroke-width="2.2"/>
<line x1="393.85" y1="595.61" x2="396.30" y2="597.35" stroke="#404040" stroke-width="2.2"/>
<line x1="414.51" y1="594.71" x2="420.63" y2="599.05" stroke="#404040" stroke-width="2.2"/>
<line x1="435.17" y1="593.81" x2="437.62" y2="595.55" stroke="#404040" stroke-width="2.2"/>
<line x1="455.84" y1="592.92" x2="458.28" y2="594.65" stroke="#404040" stroke-width="2.2"/>
<line x1="476.50" y1="592.02" x2="478.95" y2="593.76" stroke="#404040" stroke-width="2.2"/>
<line x1="497.16" y1="591.12" x2="499.61" y2="592.86" stroke="#404040" stroke-width="2.2"/>
<line x1="517.83" y1="590.22" x2="523.94" y2="594.57" stroke="#404040" stroke-width="2.2"/>
<line x1="538.49" y1="589.33" x2="540.93" y2="591.06" stroke="#404040" stroke-width="2.2"/>
<line x1="559.15" y1="588.43" x2="561.60" y2="590.17" stroke="#404040" stroke-width="2.2"/>
<line x1="579.81" y1="587.53" x2="582.26" y2="589.27" stroke="#404040" stroke-width="2.2"/>
<line x1="600.48" y1="586.63" x2="602.92" y2="588.37" stroke="#404040" stroke-width="2.2"/>
<line x1="621.14" y1="585.74" x2="627.25" y2="590.08" stroke="#404040" stroke-width="2.2"/>
<line x1="641.80" y1="584.84" x2="644.25" y2="586.58" stroke="#404040" stroke-width="2.2"/>
<line x1="662.46" y1="583.94" x2="664.91" y2="585.68" stroke="#404040" stroke-width="2.2"/>
<line x1="683.12" y1="583.04" x2="685.57" y2="584.78" stroke="#404040" stroke-width="2.2"/>
<line x1="703.79" y1="582.15" x2="706.23" y2="583.88" stroke="#404040" stroke-width="2.2"/>
<line x1="724.45" y1="581.25" x2="730.57" y2="585.59" stroke="#404040" stroke-width="2.2"/>
<line x1="745.11" y1="580.35" x2="747.56" y2="582.09" stroke="#404040" stroke-width="2.2"/>
<line x1="765.78" y1="579.45" x2="768.22" y2="581.19" stroke="#404040" stroke-width="2.2"/>
<line x1="786.44" y1="578.56" x2="788.88" y2="580.29" stroke="#404040" stroke-width="2.2"/>
<line x1="807.10" y1="577.66" x2="809.55" y2="579.40" stroke="#404040" stroke-width="2.2"/>
<line x1="827.76" y1="576.76" x2="833.88" y2="581.10" stroke="#404040" stroke-width="2.2"/>
<line x1="848.43" y1="575.86" x2="850.87" y2="577.60" stroke="#404040" stroke-width="2.2"/>
<line x1="869.09" y1="574.97" x2="871.53" y2="576.70" stroke="#404040" stroke-width="2.2"/>
<line x1="889.75" y1="574.07" x2="892.20" y2="575.81" stroke="#404040" stroke-width="2.2"/>
<line x1="910.41" y1="573.17" x2="912.86" y2="574.91" stroke="#404040" stroke-width="2.2"/>
<line x1="931.07" y1="572.27" x2="937.19" y2="576.62" stroke="#404040" stroke-width="2.2"/>
<line x1="951.74" y1="571.38" x2="954.18" y2="573.11" stroke="#404040" stroke-width="2.2"/>
<line x1="972.40" y1="570.48" x2="974.85" y2="572.22" stroke="#404040" stroke-width="2.2"/>
<line x1="993.06" y1="569.58" x2="995.51" y2="571.32" stroke="#404040" stroke-width="2.2"/>
<line x1="1013.72" y1="568.68" x2="1016.17" y2="570.42" stroke="#404040" stroke-width="2.2"/>
<line x1="1034.39" y1="567.79" x2="1040.50" y2="572.13" stroke="#404040" stroke-width="2.2"/>
<line x1="1055.05" y1="566.89" x2="1057.50" y2="568.63" stroke="#404040" stroke-width="2.2"/>
<line x1="1075.71" y1="565.99" x2="1078.16" y2="567.73" stroke="#404040" stroke-width="2.2"/>
<line x1="1096.38" y1="565.10" x2="1098.82" y2="566.83" stroke="#404040" stroke-width="2.2"/>
<line x1="1117.04" y1="564.20" x2="1119.48" y2="565.93" stroke="#404040" stroke-width="2.2"/>
<line x1="1137.70" y1="563.30" x2="1143.82" y2="567.64" stroke="#404040" stroke-width="2.2"/>
<line x1="107.50" y1="453.80" x2="100.01" y2="454.13" stroke="#404040" stroke-width="2.2"/>
<line x1="132.96" y1="471.88" x2="129.47" y2="472.03" stroke="#404040" stroke-width="2.2"/>
<line x1="158.43" y1="489.95" x2="150.93" y2="490.28" stroke="#404040" stroke-width="2.2"/>
<line x1="183.89" y1="508.02" x2="180.39" y2="508.18" stroke="#404040" stroke-width="2.2"/>
<line x1="209.35" y1="526.10" x2="201.86" y2="526.43" stroke="#404040" stroke-width="2.2"/>
<line x1="234.81" y1="544.17" x2="231.32" y2="544.33" stroke="#404040" stroke-width="2.2"/>
<line x1="260.27" y1="562.25" x2="252.78" y2="562.58" stroke="#404040" stroke-width="2.2"/>
<line x1="285.74" y1="580.33" x2="282.24" y2="580.48" stroke="#404040" stroke-width="2.2"/>
<line x1="311.20" y1="598.40" x2="303.71" y2="598.73" stroke="#404040" stroke-width="2.2"/>
<line x1="107.50" y1="453.80" x2="107.50" y2="44.00" stroke="#000" stroke-width="3.6"/>
<line x1="107.50" y1="453.80" x2="100.16" y2="448.59" stroke="#000" stroke-width="2.4"/>
<line x1="107.50" y1="412.82" x2="103.42" y2="409.93" stroke="#000" stroke-width="2.4"/>
<line x1="107.50" y1="371.84" x2="100.16" y2="366.63" stroke="#000" stroke-width="2.4"/>
<line x1="107.50" y1="330.86" x2="103.42" y2="327.97" stroke="#000" stroke-width="2.4"/>
<line x1="107.50" y1="289.88" x2="100.16" y2="284.67" stroke="#000" stroke-width="2.4"/>
<line x1="107.50" y1="248.90" x2="103.42" y2="246.01" stroke="#000" stroke-width="2.4"/>
<line x1="107.50" y1="207.92" x2="100.16" y2="202.71" stroke="#000" stroke-width="2.4"/>
<line x1="107.50" y1="166.94" x2="103.42" y2="164.05" stroke="#000" stroke-width="2.4"/>
<line x1="107.50" y1="125.96" x2="100.16" y2="120.75" stroke="#000" stroke-width="2.4"/>
<line x1="107.50" y1="84.98" x2="103.42" y2="82.09" stroke="#000" stroke-width="2.4"/>
<line x1="107.50" y1="44.00" x2="100.16" y2="38.79" stroke="#000" stroke-width="2.4"/>
<text transform="translate(79.95,51.00) scale(1.1524,1)" font-size="31.06" font-family='"Liberation Serif", serif' font-weight="normal" fill="#000" >1</text>
<text transform="translate(57.29,131.60) scale(1.0163,1)" font-size="31.43" font-family='"Liberation Serif", serif' font-weight="normal" fill="#000" >0.8</text>
<text transform="translate(57.29,213.50) scale(1.0875,1)" font-size="29.17" font-family='"Liberation Serif", serif' font-weight="normal" fill="#000" >0.6</text>
<text transform="translate(57.31,295.60) scale(1.0478,1)" font-size="29.92" font-family='"Liberation Serif", serif' font-weight="normal" fill="#000" >0.4</text>
<text transform="translate(57.27,376.70) scale(1.1110,1)" font-size="29.17" font-family='"Liberation Serif", serif' font-weight="normal" fill="#000" >0.2</text>
<text transform="translate(80.40,458.40) scale(1.0302,1)" font-size="30.68" font-family='"Liberation Serif", serif' font-weight="normal" fill="#000" >0</text>
<text transform="translate(42.20,404.23) rotate(-90) scale(1.0933,1)" font-size="38.76" font-family='"Liberation Serif", serif' font-weight="normal" fill="#000" >Expectation Value</text>
<text transform="translate(77.74,484.60) scale(1.0035,1)" font-size="30.82" font-family='"Liberation Serif", serif' font-weight="normal" fill="#404040" >2</text>
<text transform="translate(128.98,520.30) scale(1.0649,1)" font-size="31.21" font-family='"Liberation Serif", serif' font-weight="normal" fill="#404040" >1</text>
<text transform="translate(181.18,556.00) scale(1.0995,1)" font-size="29.17" font-family='"Liberation Serif", serif' font-weight="normal" fill="#404040" >0</text>
<text transform="translate(221.93,593.00) scale(1.1635,1)" font-size="29.55" font-family='"Liberation Serif", serif' font-weight="normal" fill="#404040" >-1</text>
<text transform="translate(272.64,629.90) scale(0.9685,1)" font-size="32.33" font-family='"Liberation Serif", serif' font-weight="normal" fill="#404040" >-2</text>
<text transform="translate(100.01,585.80) scale(0.9682,1)" font-size="40.06" font-family='"Liberation Serif", serif' font-weight="normal" fill="#404040" >h</text>
<text transform="translate(121.42,605.80) scale(1.0715,1)" font-size="31.42" font-family='"Liberation Serif", serif' font-weight="normal" fill="#404040" >2</text>
<text transform="translate(140.20,593.70) scale(1.1155,1)" font-size="54.17" font-family='"Liberation Serif", serif' font-weight="normal" fill="#404040" >/</text>
<text transform="translate(158.50,593.70) scale(0.5385,1)" font-size="52.98" font-family='"Liberation Serif", serif' font-weight="normal" fill="#404040" >J</text>
<text transform="translate(322.54,634.70) scale(0.9966,1)" font-size="30.53" font-family='"Liberation Serif", serif' font-weight="normal" fill="#404040" >0.2</text>
<text transform="translate(425.82,630.21) scale(1.0271,1)" font-size="30.53" font-family='"Liberation Serif", serif' font-weight="normal" fill="#404040" >0.4</text>
<text transform="translate(529.12,625.72) scale(1.0365,1)" font-size="30.53" font-family='"Liberation Serif", serif' font-weight="normal" fill="#404040" >0.6</text>
<text transform="translate(632.42,621.24) scale(1.0464,1)" font-size="30.53" font-family='"Liberation Serif", serif' font-weight="normal" fill="#404040" >0.8</text>
<text transform="translate(734.45,616.75) scale(1.1453,1)" font-size="30.76" font-family='"Liberation Serif", serif' font-weight="normal" fill="#404040" >1</text>
<text transform="translate(838.04,612.26) scale(1.0458,1)" font-size="30.66" font-family='"Liberation Serif", serif' font-weight="normal" fill="#404040" >1.2</text>
<text transform="translate(941.36,607.77) scale(1.0412,1)" font-size="30.76" font-family='"Liberation Serif", serif' font-weight="normal" fill="#404040" >1.4</text>
<text transform="translate(1044.70,603.29) scale(1.0342,1)" font-size="30.66" font-family='"Liberation Serif", serif' font-weight="normal" fill="#404040" >1.6</text>
<text transform="translate(1147.97,598.80) scale(1.0521,1)" font-size="30.53" font-family='"Liberation Serif", serif' font-weight="normal" fill="#404040" >1.8</text>
<text transform="translate(707.50,656.00) scale(0.9889,1)" font-size="40.49" font-family='"Liberation Serif", serif' font-weight="normal" fill="#404040" >h</text>
<text transform="translate(729.00,675.90) scale(1.0714,1)" font-size="31.82" font-family='"Liberation Serif", serif' font-weight="normal" fill="#404040" >1</text>
<text transform="translate(748.10,663.80) scale(1.1093,1)" font-size="54.48" font-family='"Liberation Serif", serif' font-weight="normal" fill="#404040" >/</text>
<text transform="translate(766.51,663.80) scale(0.5316,1)" font-size="53.13" font-family='"Liberation Serif", serif' font-weight="normal" fill="#404040" >J</text>
<rect x="541.2" y="37.6" width="384.4" height="120.4" fill="#fff" stroke="#000" stroke-width="3"/>
<line x1="547.9" y1="57.9" x2="589.1" y2="57.9" stroke="#00bfff" stroke-width="8"/>
<circle cx="568.1" cy="96.8" r="6" fill="#b22222"/>
<line x1="554" y1="136" x2="589.1" y2="136" stroke="#0000ff" stroke-width="5" stroke-dasharray="11 5"/>
<text transform="translate(591.64,70.80) scale(0.9307,1)" font-size="31.42" font-family='"Liberation Serif", serif' font-weight="normal" fill="#000" >SOP</text>
<text transform="translate(592.65,109.90) scale(1.0885,1)" font-size="29.97" font-family='"Liberation Serif", serif' font-weight="normal" fill="#000" >Experimental Data</text>
<text transform="translate(592.26,148.60) scale(1.0675,1)" font-size="30.55" font-family='"Liberation Serif", serif' font-weight="normal" fill="#000" >Obtained Phase Boundry</text>
<rect x="1269.5" y="58.1" width="769.0" height="498.4" fill="rgb(96,96,127)"/>
<polygon points="1269.50,218.20 1300.26,234.30 1331.02,234.30 1361.78,250.40 1392.54,250.40 1423.30,266.50 1484.82,266.50 1515.58,282.60 1577.10,282.60 1607.86,298.70 1669.38,298.70 1700.14,314.80 1761.66,314.80 1792.42,330.90 1884.70,330.90 1915.46,347.00 1976.98,347.00 2007.74,363.10 2038.50,363.10 2038.50,556.50 1269.50,556.50" fill="rgb(192,220,192)"/>
<polygon points="1269.50,444.40 1300.26,460.00 1515.58,460.00 1546.34,475.90 1853.94,475.90 1884.70,492.00 2007.74,492.00 2038.50,508.10 2038.50,556.50 1269.50,556.50" fill="rgb(128,128,128)"/>
<polyline points="1365.62,213.85 1557.88,276.15 1750.12,338.45 1942.38,369.60" fill="none" stroke="#0000ff" stroke-width="5.9" stroke-dasharray="17.8 6.1"/>
<polygon points="1365.62,203.85 1373.83,213.85 1365.62,223.85 1357.42,213.85" fill="#0000ff" stroke="rgb(20,150,20)" stroke-width="1.1"/>
<polygon points="1557.88,266.15 1566.08,276.15 1557.88,286.15 1549.67,276.15" fill="#0000ff" stroke="rgb(20,150,20)" stroke-width="1.1"/>
<polygon points="1750.12,328.45 1758.33,338.45 1750.12,348.45 1741.92,338.45" fill="#0000ff" stroke="rgb(20,150,20)" stroke-width="1.1"/>
<polygon points="1942.38,359.60 1950.58,369.60 1942.38,379.60 1934.17,369.60" fill="#0000ff" stroke="rgb(20,150,20)" stroke-width="1.1"/>
<polyline points="1365.62,431.90 1557.88,431.90 1750.12,494.20 1942.38,525.35" fill="none" stroke="#0000ff" stroke-width="5.9" stroke-dasharray="17.8 6.1"/>
<polygon points="1365.62,421.90 1373.83,431.90 1365.62,441.90 1357.42,431.90" fill="#0000ff" stroke="rgb(190,225,170)" stroke-width="1.1"/>
<polygon points="1557.88,421.90 1566.08,431.90 1557.88,441.90 1549.67,431.90" fill="#0000ff" stroke="rgb(190,225,170)" stroke-width="1.1"/>
<polygon points="1750.12,484.20 1758.33,494.20 1750.12,504.20 1741.92,494.20" fill="#0000ff" stroke="rgb(190,225,170)" stroke-width="1.1"/>
<polygon points="1942.38,515.35 1950.58,525.35 1942.38,535.35 1934.17,525.35" fill="#0000ff" stroke="rgb(190,225,170)" stroke-width="1.1"/>
<line x1="1269.50" y1="58.10" x2="1269.50" y2="556.50" stroke="#3a3a3a" stroke-width="1" stroke-dasharray="3.1 2.9"/>
<line x1="1269.50" y1="58.10" x2="2038.50" y2="58.10" stroke="#3a3a3a" stroke-width="1" stroke-dasharray="3.1 2.9"/>
<line x1="1365.62" y1="58.10" x2="1365.62" y2="556.50" stroke="#3a3a3a" stroke-width="1" stroke-dasharray="3.1 2.9"/>
<line x1="1269.50" y1="120.40" x2="2038.50" y2="120.40" stroke="#3a3a3a" stroke-width="1" stroke-dasharray="3.1 2.9"/>
<line x1="1461.75" y1="58.10" x2="1461.75" y2="556.50" stroke="#3a3a3a" stroke-width="1" stroke-dasharray="3.1 2.9"/>
<line x1="1269.50" y1="182.70" x2="2038.50" y2="182.70" stroke="#3a3a3a" stroke-width="1" stroke-dasharray="3.1 2.9"/>
<line x1="1557.88" y1="58.10" x2="1557.88" y2="556.50" stroke="#3a3a3a" stroke-width="1" stroke-dasharray="3.1 2.9"/>
<line x1="1269.50" y1="245.00" x2="2038.50" y2="245.00" stroke="#3a3a3a" stroke-width="1" stroke-dasharray="3.1 2.9"/>
<line x1="1654.00" y1="58.10" x2="1654.00" y2="556.50" stroke="#3a3a3a" stroke-width="1" stroke-dasharray="3.1 2.9"/>
<line x1="1269.50" y1="307.30" x2="2038.50" y2="307.30" stroke="#3a3a3a" stroke-width="1" stroke-dasharray="3.1 2.9"/>
<line x1="1750.12" y1="58.10" x2="1750.12" y2="556.50" stroke="#3a3a3a" stroke-width="1" stroke-dasharray="3.1 2.9"/>
<line x1="1269.50" y1="369.60" x2="2038.50" y2="369.60" stroke="#3a3a3a" stroke-width="1" stroke-dasharray="3.1 2.9"/>
<line x1="1846.25" y1="58.10" x2="1846.25" y2="556.50" stroke="#3a3a3a" stroke-width="1" stroke-dasharray="3.1 2.9"/>
<line x1="1269.50" y1="431.90" x2="2038.50" y2="431.90" stroke="#3a3a3a" stroke-width="1" stroke-dasharray="3.1 2.9"/>
<line x1="1942.38" y1="58.10" x2="1942.38" y2="556.50" stroke="#3a3a3a" stroke-width="1" stroke-dasharray="3.1 2.9"/>
<line x1="1269.50" y1="494.20" x2="2038.50" y2="494.20" stroke="#3a3a3a" stroke-width="1" stroke-dasharray="3.1 2.9"/>
<line x1="2038.50" y1="58.10" x2="2038.50" y2="556.50" stroke="#3a3a3a" stroke-width="1" stroke-dasharray="3.1 2.9"/>
<line x1="1269.50" y1="556.50" x2="2038.50" y2="556.50" stroke="#3a3a3a" stroke-width="1" stroke-dasharray="3.1 2.9"/>
<line x1="1268.50" y1="556.50" x2="2039.50" y2="556.50" stroke="#262626" stroke-width="2.2"/>
<line x1="2038.50" y1="57.10" x2="2038.50" y2="557.50" stroke="#262626" stroke-width="2.2"/>
<line x1="1269.50" y1="556.50" x2="1269.50" y2="564.50" stroke="#262626" stroke-width="2.2"/>
<line x1="1288.72" y1="556.50" x2="1288.72" y2="561.00" stroke="#262626" stroke-width="2.2"/>
<line x1="1307.95" y1="556.50" x2="1307.95" y2="561.00" stroke="#262626" stroke-width="2.2"/>
<line x1="1327.17" y1="556.50" x2="1327.17" y2="561.00" stroke="#262626" stroke-width="2.2"/>
<line x1="1346.40" y1="556.50" x2="1346.40" y2="561.00" stroke="#262626" stroke-width="2.2"/>
<line x1="1365.62" y1="556.50" x2="1365.62" y2="564.50" stroke="#262626" stroke-width="2.2"/>
<line x1="1384.85" y1="556.50" x2="1384.85" y2="561.00" stroke="#262626" stroke-width="2.2"/>
<line x1="1404.08" y1="556.50" x2="1404.08" y2="561.00" stroke="#262626" stroke-width="2.2"/>
<line x1="1423.30" y1="556.50" x2="1423.30" y2="561.00" stroke="#262626" stroke-width="2.2"/>
<line x1="1442.53" y1="556.50" x2="1442.53" y2="561.00" stroke="#262626" stroke-width="2.2"/>
<line x1="1461.75" y1="556.50" x2="1461.75" y2="564.50" stroke="#262626" stroke-width="2.2"/>
<line x1="1480.97" y1="556.50" x2="1480.97" y2="561.00" stroke="#262626" stroke-width="2.2"/>
<line x1="1500.20" y1="556.50" x2="1500.20" y2="561.00" stroke="#262626" stroke-width="2.2"/>
<line x1="1519.42" y1="556.50" x2="1519.42" y2="561.00" stroke="#262626" stroke-width="2.2"/>
<line x1="1538.65" y1="556.50" x2="1538.65" y2="561.00" stroke="#262626" stroke-width="2.2"/>
<line x1="1557.88" y1="556.50" x2="1557.88" y2="564.50" stroke="#262626" stroke-width="2.2"/>
<line x1="1577.10" y1="556.50" x2="1577.10" y2="561.00" stroke="#262626" stroke-width="2.2"/>
<line x1="1596.33" y1="556.50" x2="1596.33" y2="561.00" stroke="#262626" stroke-width="2.2"/>
<line x1="1615.55" y1="556.50" x2="1615.55" y2="561.00" stroke="#262626" stroke-width="2.2"/>
<line x1="1634.78" y1="556.50" x2="1634.78" y2="561.00" stroke="#262626" stroke-width="2.2"/>
<line x1="1654.00" y1="556.50" x2="1654.00" y2="564.50" stroke="#262626" stroke-width="2.2"/>
<line x1="1673.22" y1="556.50" x2="1673.22" y2="561.00" stroke="#262626" stroke-width="2.2"/>
<line x1="1692.45" y1="556.50" x2="1692.45" y2="561.00" stroke="#262626" stroke-width="2.2"/>
<line x1="1711.68" y1="556.50" x2="1711.68" y2="561.00" stroke="#262626" stroke-width="2.2"/>
<line x1="1730.90" y1="556.50" x2="1730.90" y2="561.00" stroke="#262626" stroke-width="2.2"/>
<line x1="1750.12" y1="556.50" x2="1750.12" y2="564.50" stroke="#262626" stroke-width="2.2"/>
<line x1="1769.35" y1="556.50" x2="1769.35" y2="561.00" stroke="#262626" stroke-width="2.2"/>
<line x1="1788.58" y1="556.50" x2="1788.58" y2="561.00" stroke="#262626" stroke-width="2.2"/>
<line x1="1807.80" y1="556.50" x2="1807.80" y2="561.00" stroke="#262626" stroke-width="2.2"/>
<line x1="1827.02" y1="556.50" x2="1827.02" y2="561.00" stroke="#262626" stroke-width="2.2"/>
<line x1="1846.25" y1="556.50" x2="1846.25" y2="564.50" stroke="#262626" stroke-width="2.2"/>
<line x1="1865.47" y1="556.50" x2="1865.47" y2="561.00" stroke="#262626" stroke-width="2.2"/>
<line x1="1884.70" y1="556.50" x2="1884.70" y2="561.00" stroke="#262626" stroke-width="2.2"/>
<line x1="1903.92" y1="556.50" x2="1903.92" y2="561.00" stroke="#262626" stroke-width="2.2"/>
<line x1="1923.15" y1="556.50" x2="1923.15" y2="561.00" stroke="#262626" stroke-width="2.2"/>
<line x1="1942.38" y1="556.50" x2="1942.38" y2="564.50" stroke="#262626" stroke-width="2.2"/>
<line x1="1961.60" y1="556.50" x2="1961.60" y2="561.00" stroke="#262626" stroke-width="2.2"/>
<line x1="1980.82" y1="556.50" x2="1980.82" y2="561.00" stroke="#262626" stroke-width="2.2"/>
<line x1="2000.05" y1="556.50" x2="2000.05" y2="561.00" stroke="#262626" stroke-width="2.2"/>
<line x1="2019.28" y1="556.50" x2="2019.28" y2="561.00" stroke="#262626" stroke-width="2.2"/>
<line x1="2038.50" y1="556.50" x2="2038.50" y2="564.50" stroke="#262626" stroke-width="2.2"/>
<line x1="2038.50" y1="58.10" x2="2046.50" y2="58.10" stroke="#262626" stroke-width="2.2"/>
<line x1="2038.50" y1="89.25" x2="2043.00" y2="89.25" stroke="#262626" stroke-width="2.2"/>
<line x1="2038.50" y1="120.40" x2="2046.50" y2="120.40" stroke="#262626" stroke-width="2.2"/>
<line x1="2038.50" y1="151.55" x2="2043.00" y2="151.55" stroke="#262626" stroke-width="2.2"/>
<line x1="2038.50" y1="182.70" x2="2046.50" y2="182.70" stroke="#262626" stroke-width="2.2"/>
<line x1="2038.50" y1="213.85" x2="2043.00" y2="213.85" stroke="#262626" stroke-width="2.2"/>
<line x1="2038.50" y1="245.00" x2="2046.50" y2="245.00" stroke="#262626" stroke-width="2.2"/>
<line x1="2038.50" y1="276.15" x2="2043.00" y2="276.15" stroke="#262626" stroke-width="2.2"/>
<line x1="2038.50" y1="307.30" x2="2046.50" y2="307.30" stroke="#262626" stroke-width="2.2"/>
<line x1="2038.50" y1="338.45" x2="2043.00" y2="338.45" stroke="#262626" stroke-width="2.2"/>
<line x1="2038.50" y1="369.60" x2="2046.50" y2="369.60" stroke="#262626" stroke-width="2.2"/>
<line x1="2038.50" y1="400.75" x2="2043.00" y2="400.75" stroke="#262626" stroke-width="2.2"/>
<line x1="2038.50" y1="431.90" x2="2046.50" y2="431.90" stroke="#262626" stroke-width="2.2"/>
<line x1="2038.50" y1="463.05" x2="2043.00" y2="463.05" stroke="#262626" stroke-width="2.2"/>
<line x1="2038.50" y1="494.20" x2="2046.50" y2="494.20" stroke="#262626" stroke-width="2.2"/>
<line x1="2038.50" y1="525.35" x2="2043.00" y2="525.35" stroke="#262626" stroke-width="2.2"/>
<line x1="2038.50" y1="556.50" x2="2046.50" y2="556.50" stroke="#262626" stroke-width="2.2"/>
<text transform="translate(1248.76,597.30) scale(1.0275,1)" font-size="31.88" font-family='"Liberation Serif", serif' font-weight="normal" fill="#262626" >0.2</text>
<text transform="translate(1345.53,597.30) scale(0.9678,1)" font-size="31.88" font-family='"Liberation Serif", serif' font-weight="normal" fill="#262626" >0.4</text>
<text transform="translate(1441.21,597.30) scale(0.9819,1)" font-size="31.88" font-family='"Liberation Serif", serif' font-weight="normal" fill="#262626" >0.6</text>
<text transform="translate(1537.60,597.30) scale(0.9939,1)" font-size="31.88" font-family='"Liberation Serif", serif' font-weight="normal" fill="#262626" >0.8</text>
<text transform="translate(1644.70,597.30) scale(1.1675,1)" font-size="32.12" font-family='"Liberation Serif", serif' font-weight="normal" fill="#262626" >1</text>
<text transform="translate(1729.51,597.30) scale(0.9901,1)" font-size="32.02" font-family='"Liberation Serif", serif' font-weight="normal" fill="#262626" >1.2</text>
<text transform="translate(1826.20,597.30) scale(0.9888,1)" font-size="32.12" font-family='"Liberation Serif", serif' font-weight="normal" fill="#262626" >1.4</text>
<text transform="translate(1921.67,597.30) scale(1.0041,1)" font-size="32.02" font-family='"Liberation Serif", serif' font-weight="normal" fill="#262626" >1.6</text>
<text transform="translate(2018.35,597.30) scale(1.0158,1)" font-size="31.88" font-family='"Liberation Serif", serif' font-weight="normal" fill="#262626" >1.8</text>
<text transform="translate(2050.36,68.90) scale(1.0298,1)" font-size="31.72" font-family='"Liberation Serif", serif' font-weight="normal" fill="#262626" >2</text>
<text transform="translate(2049.21,131.20) scale(0.9963,1)" font-size="31.82" font-family='"Liberation Serif", serif' font-weight="normal" fill="#262626" >1.5</text>
<text transform="translate(2049.30,193.50) scale(1.1071,1)" font-size="31.82" font-family='"Liberation Serif", serif' font-weight="normal" fill="#262626" >1</text>
<text transform="translate(2049.89,255.80) scale(1.0043,1)" font-size="31.58" font-family='"Liberation Serif", serif' font-weight="normal" fill="#262626" >0.5</text>
<text transform="translate(2049.87,318.10) scale(1.0232,1)" font-size="31.58" font-family='"Liberation Serif", serif' font-weight="normal" fill="#262626" >0</text>
<text transform="translate(2050.55,380.40) scale(0.9855,1)" font-size="31.58" font-family='"Liberation Serif", serif' font-weight="normal" fill="#262626" >-0.5</text>
<text transform="translate(2050.52,442.70) scale(1.0035,1)" font-size="31.82" font-family='"Liberation Serif", serif' font-weight="normal" fill="#262626" >-1</text>
<text transform="translate(2050.55,505.00) scale(0.9781,1)" font-size="31.82" font-family='"Liberation Serif", serif' font-weight="normal" fill="#262626" >-1.5</text>
<text transform="translate(2050.53,567.30) scale(0.9997,1)" font-size="31.72" font-family='"Liberation Serif", serif' font-weight="normal" fill="#262626" >-2</text>
<text transform="translate(1622.70,633.90) scale(1.0032,1)" font-size="39.91" font-family='"Liberation Serif", serif' font-weight="normal" fill="#262626" >h</text>
<text transform="translate(1643.75,653.30) scale(1.2564,1)" font-size="29.39" font-family='"Liberation Serif", serif' font-weight="normal" fill="#262626" >1</text>
<text transform="translate(1663.80,641.00) scale(1.1308,1)" font-size="52.81" font-family='"Liberation Serif", serif' font-weight="normal" fill="#262626" >/</text>
<text transform="translate(1681.58,641.30) scale(0.5782,1)" font-size="50.84" font-family='"Liberation Serif", serif' font-weight="normal" fill="#262626" >J</text>
<text transform="translate(2109.10,275.70) rotate(90) scale(0.9908,1)" font-size="40.20" font-family='"Liberation Serif", serif' font-weight="normal" fill="#262626" >h</text>
<text transform="translate(2088.90,297.33) rotate(90) scale(1.0739,1)" font-size="31.12" font-family='"Liberation Serif", serif' font-weight="normal" fill="#262626" >2</text>
<text transform="translate(2101.00,316.80) rotate(90) scale(1.0799,1)" font-size="54.63" font-family='"Liberation Serif", serif' font-weight="normal" fill="#262626" >/</text>
<text transform="translate(2101.00,335.24) rotate(90) scale(0.4906,1)" font-size="54.05" font-family='"Liberation Serif", serif' font-weight="normal" fill="#262626" >J</text>
<rect x="1685.6" y="114" width="287.1" height="134.6" fill="#fff" stroke="#000" stroke-width="2.2"/>
<rect x="1694" y="120.3" width="40" height="29.3" fill="rgb(96,96,127)"/>
<rect x="1694" y="166.4" width="40" height="29.1" fill="rgb(192,220,192)"/>
<rect x="1694" y="212.3" width="40" height="29.1" fill="rgb(128,128,128)"/>
<text transform="translate(1738.43,146.60) scale(1.0555,1)" font-size="31.72" font-family='"Liberation Serif", serif' font-weight="normal" fill="#000" >Paramagnetic</text>
<text transform="translate(1739.07,238.60) scale(1.0911,1)" font-size="29.83" font-family='"Liberation Serif", serif' font-weight="normal" fill="#000" >Antifaramagnetic</text>
<text transform="translate(1743.41,188.70) scale(0.9136,1)" font-size="31.60" font-family='"Liberation Serif", serif' font-weight="bold" fill="#000" >Z</text>
<text transform="translate(1761.86,203.70) scale(1.1481,1)" font-size="23.72" font-family='"Liberation Serif", serif' font-weight="bold" fill="#000" >2</text>
<text transform="translate(1775.76,192.29) scale(0.9752,1)" font-size="33.00" font-family='"Liberation Serif", serif' font-weight="normal" fill="#000" >×</text>
<text transform="translate(1793.32,188.70) scale(0.9081,1)" font-size="31.60" font-family='"Liberation Serif", serif' font-weight="bold" fill="#000" >Z</text>
<text transform="translate(1811.76,203.70) scale(1.1481,1)" font-size="23.72" font-family='"Liberation Serif", serif' font-weight="bold" fill="#000" >2</text>
<line x1="968.8" y1="509" x2="1355" y2="221.3" stroke="#000" stroke-width="5" stroke-linecap="round" stroke-linejoin="round" fill="none"/>
<polyline points="1330.2,224.9 1355,221.3 1343.3,243.9" stroke="#000" stroke-width="5" stroke-linecap="round" stroke-linejoin="round" fill="none"/>
<line x1="1033" y1="554.4" x2="1351" y2="435" stroke="#000" stroke-width="5" stroke-linecap="round" stroke-linejoin="round" fill="none"/>
<polyline points="1327.6,430.9 1351,435 1336.3,451.8" stroke="#000" stroke-width="5" stroke-linecap="round" stroke-linejoin="round" fill="none"/>
</svg></body></html>
